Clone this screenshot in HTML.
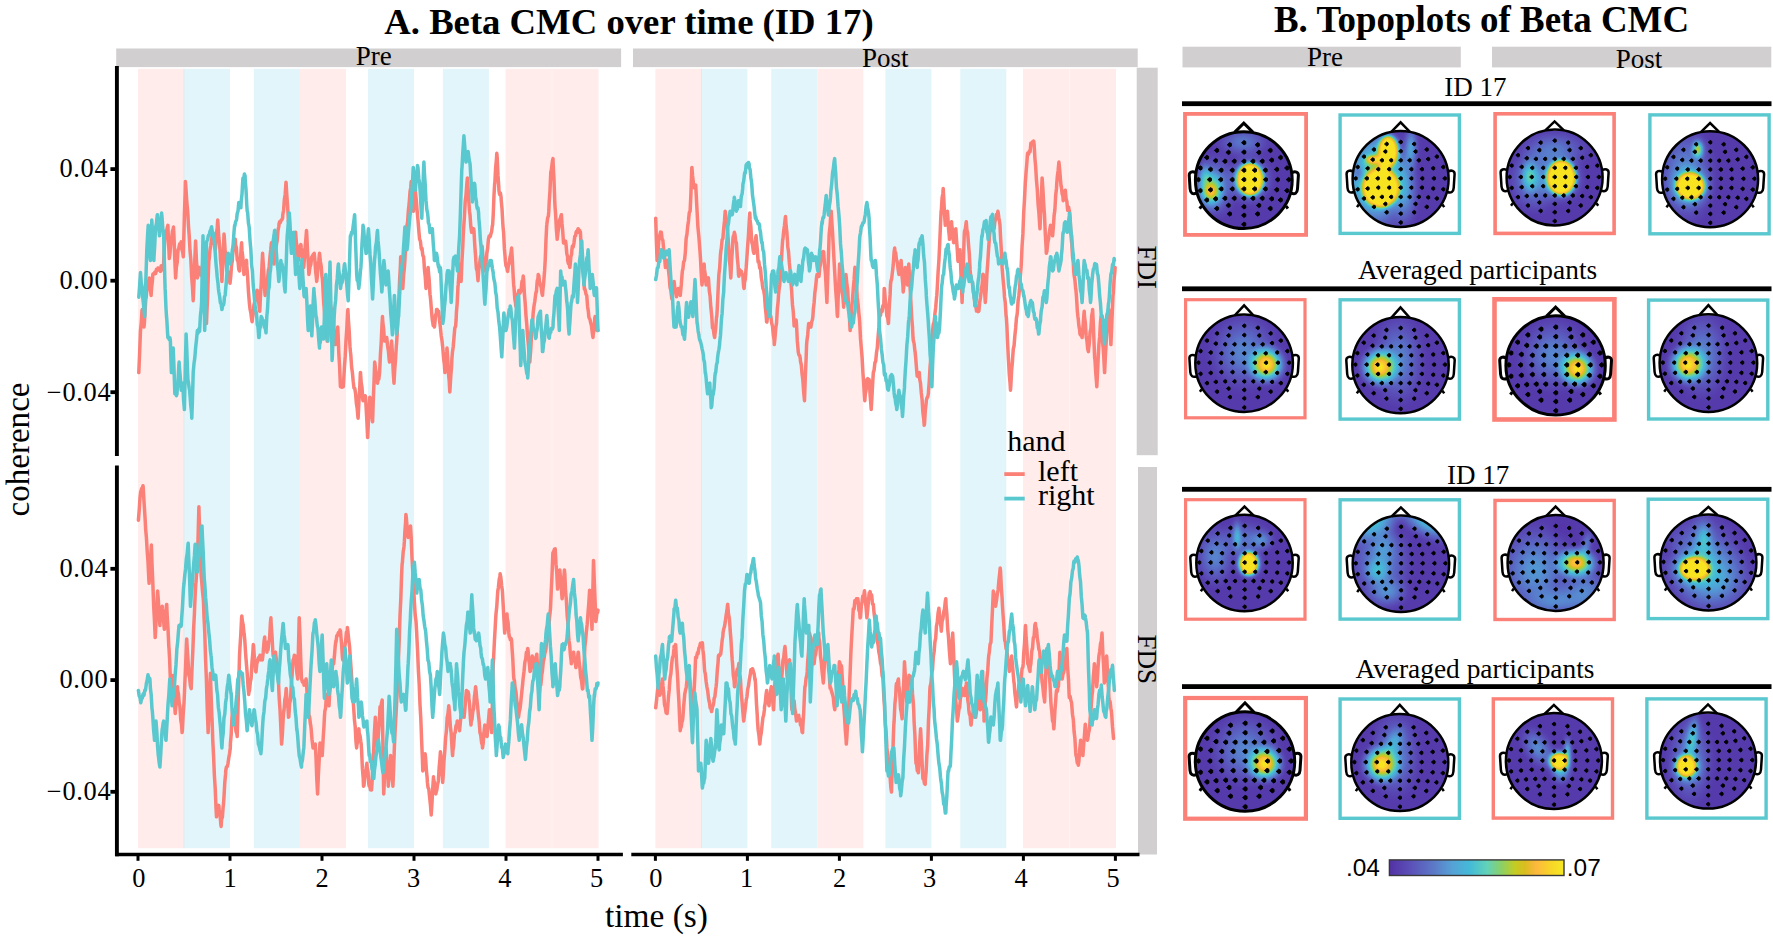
<!DOCTYPE html>
<html lang="en"><head><meta charset="utf-8"><title>Beta CMC figure</title>
<style>html,body{margin:0;padding:0;background:#fff}svg{display:block}</style></head>
<body>
<svg width="1773" height="941" viewBox="0 0 1773 941">
<defs>
<radialGradient id="hot"><stop offset="0" stop-color="#F7E420"/><stop offset="0.66" stop-color="#F7E420"/><stop offset="0.70" stop-color="#FDC23C"/><stop offset="0.74" stop-color="#BEC533"/><stop offset="0.79" stop-color="#6ACB80"/><stop offset="0.85" stop-color="#38BBCB"/><stop offset="0.93" stop-color="#4A8EDC" stop-opacity="0.7"/><stop offset="1" stop-color="#4A62C8" stop-opacity="0"/></radialGradient>
<radialGradient id="avg"><stop offset="0" stop-color="#F6DB26"/><stop offset="0.22" stop-color="#F8C432"/><stop offset="0.32" stop-color="#C9C838"/><stop offset="0.42" stop-color="#6ECB7C"/><stop offset="0.52" stop-color="#38BBCB"/><stop offset="0.68" stop-color="#4A8EDC" stop-opacity="0.75"/><stop offset="1" stop-color="#4A62C8" stop-opacity="0"/></radialGradient>
<radialGradient id="haze"><stop offset="0" stop-color="#5872CE" stop-opacity="0.85"/><stop offset="0.5" stop-color="#5A62C6" stop-opacity="0.55"/><stop offset="1" stop-color="#5A50BC" stop-opacity="0"/></radialGradient>
<radialGradient id="chaze"><stop offset="0" stop-color="#3FB2D6" stop-opacity="0.95"/><stop offset="0.45" stop-color="#4A92DA" stop-opacity="0.7"/><stop offset="1" stop-color="#4E60C8" stop-opacity="0"/></radialGradient>
<radialGradient id="ghaze"><stop offset="0" stop-color="#7ACB88" stop-opacity="0.95"/><stop offset="0.4" stop-color="#3FB2D6" stop-opacity="0.8"/><stop offset="1" stop-color="#4E70D0" stop-opacity="0"/></radialGradient>
<radialGradient id="lb"><stop offset="0" stop-color="#4A9EDC" stop-opacity="0.95"/><stop offset="0.55" stop-color="#4E84D4" stop-opacity="0.75"/><stop offset="1" stop-color="#5062C2" stop-opacity="0"/></radialGradient>
<radialGradient id="org"><stop offset="0" stop-color="#F9B934"/><stop offset="0.26" stop-color="#F3C22F"/><stop offset="0.38" stop-color="#B4C840"/><stop offset="0.50" stop-color="#5CC88C"/><stop offset="0.64" stop-color="#3CB4D0"/><stop offset="0.84" stop-color="#4A8EDC" stop-opacity="0.6"/><stop offset="1" stop-color="#4A62C8" stop-opacity="0"/></radialGradient>
<radialGradient id="dark"><stop offset="0" stop-color="#46289E" stop-opacity="0.9"/><stop offset="1" stop-color="#46289E" stop-opacity="0"/></radialGradient>
<linearGradient id="cbar" x1="0" x2="1" y1="0" y2="0"><stop offset="0" stop-color="#5331A6"/><stop offset="0.12" stop-color="#5B50B8"/><stop offset="0.25" stop-color="#5C78C6"/><stop offset="0.36" stop-color="#55A2D6"/><stop offset="0.46" stop-color="#44BAD8"/><stop offset="0.56" stop-color="#62D2B8"/><stop offset="0.64" stop-color="#8AD068"/><stop offset="0.72" stop-color="#C4CC22"/><stop offset="0.78" stop-color="#DCBC20"/><stop offset="0.84" stop-color="#FDB83E"/><stop offset="0.92" stop-color="#F8D428"/><stop offset="1" stop-color="#F6E824"/></linearGradient>
</defs>
<rect width="1773" height="941" fill="#fff"/>
<defs><filter id="par" x="-10%" y="-10%" width="120%" height="120%" color-interpolation-filters="sRGB"><feGaussianBlur stdDeviation="1.9"/><feComponentTransfer><feFuncR type="table" tableValues="0.325 0.331 0.336 0.342 0.347 0.353 0.353 0.353 0.353 0.353 0.353 0.351 0.350 0.348 0.347 0.345 0.337 0.329 0.322 0.314 0.302 0.290 0.278 0.267 0.286 0.306 0.325 0.345 0.384 0.424 0.463 0.502 0.557 0.612 0.667 0.722 0.769 0.816 0.863 0.906 0.949 0.992 0.987 0.982 0.977 0.973 0.971 0.970 0.969 0.969 0.969"/><feFuncG type="table" tableValues="0.200 0.220 0.239 0.259 0.278 0.298 0.320 0.342 0.364 0.386 0.408 0.433 0.458 0.483 0.508 0.533 0.561 0.588 0.616 0.643 0.665 0.686 0.708 0.729 0.747 0.765 0.782 0.800 0.804 0.808 0.812 0.816 0.812 0.808 0.804 0.800 0.784 0.769 0.753 0.742 0.732 0.722 0.745 0.769 0.792 0.816 0.842 0.868 0.894 0.894 0.894"/><feFuncB type="table" tableValues="0.655 0.667 0.678 0.690 0.702 0.714 0.725 0.736 0.747 0.758 0.769 0.778 0.787 0.797 0.806 0.816 0.824 0.831 0.839 0.847 0.847 0.847 0.847 0.847 0.824 0.800 0.776 0.753 0.682 0.612 0.541 0.471 0.396 0.322 0.247 0.173 0.157 0.141 0.125 0.165 0.204 0.243 0.224 0.204 0.184 0.165 0.152 0.139 0.125 0.125 0.125"/><feFuncA type="linear" slope="0" intercept="1"/></feComponentTransfer></filter><radialGradient id="gw"><stop offset="0" stop-color="#fff" stop-opacity="1"/><stop offset="0.15" stop-color="#fff" stop-opacity="0.95"/><stop offset="0.3" stop-color="#fff" stop-opacity="0.8"/><stop offset="0.45" stop-color="#fff" stop-opacity="0.6"/><stop offset="0.6" stop-color="#fff" stop-opacity="0.4"/><stop offset="0.75" stop-color="#fff" stop-opacity="0.22"/><stop offset="0.9" stop-color="#fff" stop-opacity="0.07"/><stop offset="1" stop-color="#fff" stop-opacity="0"/></radialGradient><radialGradient id="gk"><stop offset="0" stop-color="#000" stop-opacity="1"/><stop offset="0.3" stop-color="#000" stop-opacity="0.8"/><stop offset="0.6" stop-color="#000" stop-opacity="0.4"/><stop offset="1" stop-color="#000" stop-opacity="0"/></radialGradient></defs>
<rect x="138.0" y="68.8" width="46.0" height="779.4" fill="#FFECEB"/>
<rect x="184.0" y="68.8" width="46.0" height="779.4" fill="#E2F5FA"/>
<rect x="253.8" y="68.8" width="46.2" height="779.4" fill="#E2F5FA"/>
<rect x="300.0" y="68.8" width="45.9" height="779.4" fill="#FFECEB"/>
<rect x="368.0" y="68.8" width="46.0" height="779.4" fill="#E2F5FA"/>
<rect x="442.9" y="68.8" width="46.0" height="779.4" fill="#E2F5FA"/>
<rect x="505.6" y="68.8" width="46.4" height="779.4" fill="#FFECEB"/>
<rect x="552.0" y="68.8" width="46.5" height="779.4" fill="#FFECEB"/>
<rect x="551.6" y="68.8" width="0.8" height="779.4" fill="#FFF5F4"/>
<rect x="183.6" y="68.8" width="0.8" height="779.4" fill="#E3E6E8"/>
<rect x="655.4" y="68.8" width="46.0" height="779.4" fill="#FFECEB"/>
<rect x="701.4" y="68.8" width="46.0" height="779.4" fill="#E2F5FA"/>
<rect x="771.2" y="68.8" width="46.2" height="779.4" fill="#E2F5FA"/>
<rect x="817.4" y="68.8" width="45.9" height="779.4" fill="#FFECEB"/>
<rect x="885.4" y="68.8" width="46.0" height="779.4" fill="#E2F5FA"/>
<rect x="960.3" y="68.8" width="46.0" height="779.4" fill="#E2F5FA"/>
<rect x="1023.0" y="68.8" width="46.4" height="779.4" fill="#FFECEB"/>
<rect x="1069.4" y="68.8" width="46.5" height="779.4" fill="#FFECEB"/>
<rect x="1069.0" y="68.8" width="0.8" height="779.4" fill="#FFF5F4"/>
<rect x="701.0" y="68.8" width="0.8" height="779.4" fill="#E3E6E8"/>
<rect x="116.2" y="48.5" width="504.9" height="18.6" fill="#D1CFCF"/>
<rect x="633" y="48.5" width="504.7" height="18.6" fill="#D1CFCF"/>
<rect x="1136.7" y="67.7" width="21" height="387.5" fill="#D1CFCF"/>
<rect x="1138" y="467" width="19" height="387.5" fill="#D1CFCF"/>
<polyline points="138.8,372.6 139.6,353.8 140.4,332.4 140.5,330.5 141.2,323.8 142.0,310.4 142.3,309.5 142.8,314.8 143.6,322.7 144.0,327.0 144.4,322.8 145.2,308.1 145.8,298.9 146.0,298.7 146.8,290.9 147.6,288.3 148.4,281.3 149.2,279.1 149.3,277.9 150.0,284.5 150.8,292.7 151.1,295.4 151.6,287.7 152.4,280.8 152.8,274.4 153.2,273.8 154.0,273.8 154.8,272.2 155.6,273.6 156.3,270.9 156.4,269.3 157.2,270.6 158.0,268.0 158.8,269.8 159.6,268.6 159.8,269.1 160.4,271.4 161.2,265.8 162.0,270.0 162.8,267.4 163.3,267.4 163.6,264.1 164.4,246.1 165.1,235.8 165.2,236.9 166.0,232.2 166.8,230.0 167.6,226.2 167.9,225.3 168.4,239.2 169.2,255.6 169.3,258.6 170.0,253.2 170.8,243.3 171.4,239.3 171.6,238.7 172.4,231.4 173.2,229.0 173.5,227.0 174.0,237.1 174.8,259.5 175.6,277.9 176.4,266.9 177.2,262.5 178.0,250.3 178.1,249.8 178.8,248.2 179.6,244.1 180.4,246.1 180.9,242.8 181.2,241.9 182.0,249.8 182.8,252.9 183.3,256.8 183.6,246.2 184.4,215.3 185.2,191.2 185.4,181.4 186.0,189.2 186.8,202.0 187.6,210.5 187.9,214.7 188.4,225.0 189.2,235.6 189.6,242.8 190.0,250.5 190.8,258.9 191.4,270.9 191.6,276.2 192.4,286.0 193.2,300.7 194.0,281.8 194.8,259.5 195.6,241.1 196.4,259.5 197.2,272.3 197.4,277.9 198.0,275.2 198.8,268.3 199.1,267.4 199.6,269.2 200.4,270.0 201.2,275.2 201.9,274.4 202.0,272.4 202.8,262.3 203.6,249.2 203.7,249.8 204.4,269.2 205.2,287.3 206.0,311.8 206.5,323.5 206.8,314.6 207.6,297.2 208.4,272.0 208.9,260.4 209.2,259.1 210.0,249.8 210.8,245.8 211.6,239.1 212.4,235.1 212.5,232.3 213.2,235.2 214.0,242.3 214.8,245.7 215.3,249.8 215.6,246.7 216.4,234.6 217.2,227.7 217.7,220.0 218.0,223.8 218.8,237.3 219.6,245.1 220.2,253.3 220.4,258.6 221.2,267.8 221.9,281.4 222.0,280.1 222.8,260.1 223.6,245.6 224.0,234.0 224.4,238.3 225.2,252.0 226.0,259.2 226.5,267.4 226.8,270.8 227.6,270.9 228.4,276.2 229.2,279.4 230.0,283.2 230.8,275.8 231.6,264.8 232.4,260.5 232.5,256.8 233.2,249.8 234.0,247.6 234.8,242.2 235.3,239.3 235.6,244.9 236.4,247.8 237.2,259.4 237.4,260.4 238.0,260.8 238.8,269.4 239.5,270.9 239.6,267.0 240.4,260.4 241.2,247.2 241.6,242.8 242.0,250.7 242.8,257.1 243.6,271.7 244.0,274.4 244.4,271.2 245.2,267.9 246.0,261.7 246.5,260.4 246.8,265.9 247.6,276.3 248.4,291.0 249.2,300.8 249.3,302.5 250.0,308.8 250.8,312.6 251.6,319.0 252.1,321.8 252.4,318.5 253.2,313.9 254.0,304.5 254.6,302.5 254.8,302.1 255.6,295.9 256.4,294.8 257.0,290.2 257.2,290.2 258.0,297.9 258.8,303.1 259.6,311.2 259.8,311.2 260.4,297.3 261.2,284.3 262.0,264.7 262.6,253.3 262.8,257.3 263.6,268.6 264.4,285.6 265.1,295.4 265.2,293.7 266.0,291.7 266.8,282.0 267.6,278.9 268.4,269.7 268.6,270.9 269.2,266.4 270.0,256.2 270.8,249.4 271.4,242.8 271.6,244.3 272.4,251.8 273.2,257.4 273.9,263.9 274.0,263.7 274.8,254.5 275.6,251.7 276.4,244.9 276.7,242.8 277.2,240.3 278.0,230.3 278.8,226.5 279.1,223.5 279.6,221.7 280.4,222.5 281.2,220.1 282.0,219.7 282.6,218.2 282.8,214.7 283.6,210.2 284.4,199.2 285.2,194.2 286.0,182.2 286.1,183.2 286.8,195.0 287.6,205.8 288.4,221.3 288.6,221.8 289.2,223.8 290.0,233.1 290.7,235.8 290.8,233.8 291.6,243.4 292.4,242.7 293.2,249.8 294.0,244.2 294.8,236.6 295.6,232.3 296.4,242.9 297.2,246.4 298.0,257.9 298.4,260.4 298.8,256.4 299.6,254.3 300.4,246.3 300.9,244.6 301.2,247.2 302.0,252.1 302.8,262.7 303.6,265.1 303.7,267.4 304.4,258.4 305.2,247.0 306.0,237.3 306.5,230.5 306.8,235.4 307.6,252.1 308.4,264.7 308.9,274.4 309.2,272.8 310.0,266.7 310.8,264.9 311.6,257.8 311.8,256.8 312.4,256.1 313.2,254.6 314.0,255.6 314.2,253.3 314.8,259.4 315.6,271.0 316.4,277.8 316.7,281.4 317.2,277.4 318.0,266.4 318.8,260.5 319.5,253.3 319.6,254.0 320.4,261.8 321.2,266.2 322.0,276.8 322.3,277.9 322.8,285.3 323.6,301.4 324.4,310.7 324.7,316.5 325.2,322.4 326.0,327.3 326.8,338.2 327.2,341.1 327.6,334.1 328.4,324.8 329.2,313.3 330.0,302.5 330.8,308.0 331.6,309.0 332.4,316.0 332.8,316.5 333.2,319.5 334.0,331.0 334.8,338.8 335.3,344.6 335.6,343.0 336.4,336.3 337.2,333.3 337.7,327.0 338.0,332.4 338.8,353.1 339.6,366.5 340.4,386.1 340.5,386.7 341.2,384.1 342.0,387.3 342.8,384.7 343.3,386.7 343.6,381.8 344.4,367.6 345.2,356.7 345.8,344.6 346.0,340.3 346.8,328.5 347.6,311.9 347.9,309.5 348.4,319.9 349.2,331.2 350.0,346.9 350.4,351.6 350.8,354.9 351.6,367.0 352.4,372.7 353.2,381.4 354.0,388.1 354.8,388.6 355.6,393.7 356.4,403.5 357.2,408.4 358.0,417.8 358.1,418.2 358.8,403.9 359.6,390.3 360.4,372.5 360.5,372.6 361.2,382.5 362.0,387.5 362.8,399.5 363.0,400.7 363.6,397.3 364.4,399.4 365.2,395.7 365.6,397.2 366.0,405.5 366.8,419.6 367.6,437.1 367.7,437.5 368.4,421.5 369.2,409.3 369.8,397.2 370.0,398.4 370.8,408.0 371.6,411.5 372.4,421.0 372.6,421.8 373.2,402.1 374.0,382.2 374.7,362.1 374.8,362.7 375.6,369.9 376.4,373.4 377.2,381.9 377.5,383.2 378.0,380.1 378.8,379.2 379.6,372.6 380.4,355.1 381.2,342.6 382.0,324.7 382.5,316.5 382.8,322.6 383.6,328.4 384.4,339.8 384.6,341.1 385.2,339.9 386.0,339.3 386.7,337.5 386.8,338.2 387.6,346.0 388.4,350.9 389.2,360.1 389.5,362.1 390.0,356.1 390.8,349.7 391.6,341.1 392.4,353.6 393.2,371.2 394.0,383.2 394.8,368.8 395.6,358.7 396.4,344.6 396.5,344.6 397.2,333.2 398.0,313.5 398.6,302.5 398.8,300.7 399.6,280.5 400.4,265.9 400.7,256.8 401.2,264.1 402.0,277.9 402.8,288.4 403.6,275.1 404.4,267.7 404.9,260.4 405.2,253.9 406.0,242.6 406.8,227.1 407.0,225.3 407.6,221.9 408.4,210.2 409.1,204.2 409.2,203.3 410.0,191.8 410.8,187.2 411.2,181.4 411.6,185.6 412.4,199.9 413.2,207.2 413.3,211.2 414.0,204.4 414.8,193.6 415.4,190.2 415.6,193.1 416.4,201.3 417.2,211.8 417.5,214.7 418.0,220.4 418.8,230.5 419.6,239.3 420.4,241.1 421.2,248.4 421.8,249.8 422.0,248.2 422.8,255.4 423.6,256.9 423.9,260.4 424.4,269.1 425.2,276.2 426.0,288.4 426.8,283.0 427.6,271.4 428.1,267.4 428.4,272.0 429.2,280.1 430.0,294.7 430.2,295.4 430.8,301.8 431.6,312.0 432.3,320.0 432.4,320.1 433.2,325.6 434.0,323.1 434.4,327.0 434.8,323.9 435.6,315.0 436.4,312.9 436.5,309.5 437.2,309.5 438.0,312.2 438.6,311.2 438.8,312.4 439.6,321.0 440.4,327.5 440.7,330.5 441.2,335.7 442.0,340.8 442.8,348.1 443.6,358.4 444.4,364.8 444.9,372.6 445.2,369.7 446.0,357.8 446.8,351.4 447.0,348.1 447.6,356.5 448.4,372.0 449.2,381.0 449.8,391.9 450.0,389.3 450.8,375.8 451.6,366.0 451.9,358.6 452.4,352.6 453.2,347.0 454.0,337.5 454.8,328.2 455.6,326.2 456.1,320.0 456.4,313.0 457.2,303.1 458.0,286.2 458.2,284.9 458.8,276.5 459.6,263.9 460.4,271.2 461.1,281.4 461.2,279.8 462.0,259.9 462.8,246.5 463.2,235.8 463.6,228.9 464.4,217.2 465.2,201.8 465.3,200.7 466.0,195.1 466.8,184.2 467.4,177.9 467.6,181.7 468.4,193.2 469.2,207.0 469.5,211.2 470.0,214.7 470.8,226.3 471.6,232.3 472.4,228.4 473.2,229.8 473.7,228.8 474.0,231.3 474.8,245.6 475.6,256.4 475.8,260.4 476.4,268.5 477.2,271.2 477.9,279.6 478.0,280.7 478.8,269.4 479.6,265.6 480.0,260.4 480.4,257.5 481.2,254.3 482.0,246.8 482.1,246.3 482.8,255.1 483.6,263.3 484.2,270.9 484.4,270.9 485.2,265.7 486.0,262.1 486.3,260.4 486.8,253.4 487.6,248.8 488.4,239.3 489.2,236.0 490.0,236.8 490.5,235.8 490.8,234.1 491.6,231.8 492.4,225.3 492.6,225.3 493.2,215.3 494.0,195.2 494.7,183.2 494.8,183.8 495.6,168.4 496.4,159.6 496.8,153.3 497.2,157.7 498.0,175.4 498.8,186.9 498.9,190.2 499.6,194.4 500.4,193.0 501.1,197.2 501.2,200.2 502.0,208.7 502.8,223.4 503.2,228.8 503.6,232.2 504.4,248.9 505.2,257.9 505.3,260.4 506.0,265.9 506.8,267.3 507.4,270.9 507.6,271.4 508.4,265.3 509.2,263.4 509.5,260.4 510.0,257.3 510.8,254.3 511.6,248.1 512.4,260.6 513.2,277.1 513.7,284.9 514.0,287.7 514.8,298.6 515.6,303.4 515.8,306.0 516.4,304.0 517.2,297.6 517.9,293.7 518.0,294.2 518.8,290.5 519.6,293.6 520.4,291.9 520.7,291.9 521.2,289.3 522.0,281.1 522.8,281.2 523.2,276.1 523.6,279.1 524.4,293.8 525.2,303.3 525.6,309.5 526.0,315.8 526.8,324.9 527.6,337.7 527.7,337.5 528.4,345.1 529.2,357.7 529.8,362.1 530.0,358.9 530.8,348.6 531.6,333.5 531.9,330.5 532.4,325.3 533.2,312.7 534.0,306.0 534.8,301.2 535.6,294.7 536.1,291.9 536.4,292.0 537.2,281.2 538.0,278.1 538.2,274.4 538.8,275.8 539.6,282.1 540.4,284.9 541.2,287.4 542.0,293.5 542.5,295.4 542.8,290.9 543.6,283.6 544.4,273.0 544.6,270.9 545.2,260.5 546.0,239.5 546.7,225.3 546.8,224.8 547.6,218.3 548.4,215.9 548.8,211.2 549.2,202.3 550.0,190.6 550.8,171.8 550.9,172.6 551.6,168.1 552.4,161.1 553.0,158.6 553.2,164.3 554.0,180.0 554.8,202.7 555.1,207.7 555.6,214.2 556.4,229.3 557.2,239.3 558.0,232.4 558.8,226.2 559.3,221.8 559.6,220.2 560.4,218.3 561.2,215.2 561.4,214.7 562.0,223.7 562.8,232.4 563.5,242.8 563.6,242.9 564.4,241.5 565.2,242.4 565.6,241.1 566.0,244.2 566.8,253.6 567.6,256.9 567.7,260.4 568.4,263.7 569.2,263.9 569.8,267.4 570.0,266.3 570.8,257.0 571.6,254.3 571.9,249.8 572.4,246.1 573.2,247.0 574.0,242.8 574.8,236.2 575.6,235.8 576.1,232.3 576.4,231.6 577.2,231.5 578.0,228.9 578.2,228.8 578.8,232.4 579.6,230.4 580.4,232.3 581.2,247.2 582.0,258.8 582.5,267.4 582.8,271.4 583.6,278.2 584.4,289.0 584.6,288.4 585.2,290.2 586.0,294.1 586.7,295.4 586.8,296.2 587.6,306.4 588.4,311.9 588.8,316.5 589.2,318.0 590.0,319.5 590.8,323.4 590.9,323.5 591.6,326.7 592.4,333.7 593.0,337.5 593.2,334.5 594.0,329.5 594.8,318.0 595.1,316.5 595.6,320.8 596.4,323.2 597.2,330.5 598.0,330.5" fill="none" stroke="#FA8078" stroke-width="3.5" stroke-linejoin="round" stroke-linecap="round"/>
<polyline points="138.8,297.2 139.6,286.2 140.4,273.8 140.5,272.6 141.2,282.2 142.0,286.3 142.6,295.4 142.8,298.0 143.6,305.2 144.4,314.1 144.7,316.5 145.2,299.6 146.0,275.4 146.8,249.8 147.6,235.2 148.2,225.3 148.4,229.1 149.2,240.3 150.0,256.6 150.4,260.4 150.8,247.9 151.6,227.8 151.8,220.0 152.4,230.9 153.2,247.9 153.9,260.4 154.0,256.9 154.8,244.3 155.3,232.3 155.6,227.2 156.4,223.7 157.2,215.4 157.4,214.7 158.0,221.7 158.8,228.6 159.5,235.8 159.6,235.7 160.4,225.8 161.2,217.5 161.6,213.0 162.0,217.1 162.8,228.6 163.6,232.7 163.7,235.8 164.4,264.1 165.1,288.4 165.2,289.8 166.0,308.5 166.5,316.5 166.8,319.5 167.6,333.6 167.9,337.5 168.4,336.7 169.2,339.6 170.0,337.9 170.4,341.1 170.8,356.3 171.4,372.6 171.6,368.4 172.4,361.6 173.2,348.1 174.0,368.1 174.8,393.0 174.9,393.7 175.6,392.2 176.4,395.7 177.0,393.7 177.2,389.7 178.0,381.3 178.8,366.0 179.1,362.1 179.6,369.4 180.4,378.5 181.2,390.2 182.0,386.8 182.6,383.2 182.8,383.5 183.6,400.4 184.4,409.5 185.2,371.4 186.0,339.0 186.1,334.0 186.8,350.2 187.6,373.0 187.9,379.6 188.4,382.5 189.2,388.3 189.6,390.2 190.0,395.1 190.8,405.7 191.6,413.1 191.8,418.2 192.4,401.3 193.2,372.6 194.0,363.6 194.8,358.1 195.3,351.6 195.6,348.0 196.4,340.7 197.2,332.3 197.4,330.5 198.0,333.1 198.8,329.0 199.5,330.5 199.6,331.2 200.4,315.9 201.2,308.8 201.6,302.5 202.0,281.4 202.8,245.9 203.0,235.8 203.6,266.6 204.4,314.8 204.7,330.5 205.2,305.9 206.0,268.7 206.5,242.8 206.8,241.2 207.6,239.7 208.4,235.5 208.6,235.8 209.2,235.4 210.0,231.2 210.8,229.9 211.4,227.0 211.6,226.9 212.4,232.4 213.2,232.9 214.0,239.4 214.2,239.3 214.8,246.7 215.6,258.2 216.3,267.4 216.4,267.4 217.2,277.0 218.0,283.4 218.4,288.4 218.8,291.7 219.6,296.3 220.4,302.8 220.5,302.5 221.2,304.5 221.9,309.5 222.0,309.4 222.8,305.0 223.6,304.8 224.0,302.5 224.4,297.1 225.2,295.0 226.0,285.1 226.1,284.9 226.8,275.0 227.6,260.3 228.2,253.3 228.4,254.5 229.2,257.9 230.0,263.0 230.4,263.9 230.8,261.0 231.6,256.4 232.4,249.0 232.5,249.8 233.2,243.6 234.0,232.1 234.6,225.3 234.8,226.1 235.6,221.7 236.4,220.2 236.7,218.2 237.2,213.5 238.0,211.1 238.8,202.5 239.6,203.9 240.4,206.7 240.9,207.7 241.2,201.4 242.0,194.1 242.8,180.1 243.0,177.9 243.6,180.0 244.4,174.1 245.1,176.1 245.2,179.8 246.0,189.6 246.8,205.5 247.2,211.2 247.6,212.0 248.4,222.8 249.2,227.4 249.3,228.8 250.0,240.3 250.8,248.8 251.4,260.4 251.6,265.1 252.4,271.1 253.2,285.0 253.5,288.4 254.0,293.2 254.8,304.1 255.6,309.5 256.4,313.5 257.0,320.0 257.2,324.3 258.0,326.8 258.8,337.6 259.1,337.5 259.6,329.9 260.4,326.5 261.2,316.5 262.0,317.9 262.8,322.5 263.3,321.8 263.6,320.7 264.4,327.2 265.2,327.5 266.0,332.8 266.1,330.5 266.8,316.8 267.6,308.0 268.2,295.4 268.4,290.6 269.2,286.9 270.0,272.8 270.4,270.9 270.8,266.8 271.6,256.6 272.4,247.7 272.5,246.3 273.2,240.8 274.0,235.6 274.6,230.5 274.8,230.4 275.6,244.0 276.4,252.8 276.7,256.8 277.2,264.2 278.0,270.5 278.8,281.4 279.6,275.4 280.4,265.2 280.9,260.4 281.2,264.0 282.0,263.9 282.8,269.3 283.0,267.4 283.6,272.4 284.4,286.3 285.1,291.9 285.2,288.6 286.0,269.4 286.8,245.5 287.2,235.8 287.6,231.7 288.4,221.3 289.2,214.3 289.3,213.0 290.0,223.8 290.8,243.8 291.4,253.3 291.6,249.3 292.4,243.5 293.2,232.7 293.5,232.3 294.0,244.3 294.8,258.2 295.6,274.4 296.4,271.0 297.2,259.8 297.7,258.6 298.0,264.4 298.8,273.2 299.6,285.8 299.8,288.4 300.4,279.4 301.2,270.3 301.9,260.4 302.0,259.5 302.8,276.0 303.6,288.1 304.0,295.4 304.4,296.7 305.2,288.8 306.0,290.2 306.1,288.4 306.8,300.9 307.6,320.0 308.2,330.5 308.4,328.1 309.2,320.9 310.0,307.9 310.4,306.0 310.8,315.5 311.6,331.3 311.8,335.8 312.4,324.3 313.2,301.6 313.9,288.4 314.0,292.3 314.8,299.8 315.6,311.3 316.0,316.5 316.4,317.2 317.2,325.1 318.0,328.8 318.1,330.5 318.8,340.3 319.5,348.1 319.6,344.5 320.4,341.7 321.2,328.4 321.6,327.0 322.0,330.0 322.8,331.0 323.6,339.0 323.7,337.5 324.4,315.9 325.2,292.6 325.8,274.4 326.0,279.3 326.8,306.4 327.6,330.1 327.9,341.1 328.4,323.3 329.2,289.6 330.0,262.1 330.8,299.7 331.6,334.4 332.1,360.4 332.4,354.7 333.2,334.8 334.0,322.2 334.2,316.5 334.8,307.5 335.6,300.4 336.3,288.4 336.4,285.2 337.2,278.9 338.0,267.1 338.4,263.9 338.8,270.1 339.6,276.4 340.4,287.4 340.5,288.4 341.2,283.5 342.0,282.7 342.6,279.6 342.8,277.1 343.6,272.3 344.4,264.6 344.7,263.9 345.2,269.1 346.0,275.9 346.8,284.9 347.6,295.4 348.2,300.7 348.4,294.6 349.2,273.2 350.0,246.1 350.4,235.8 350.8,236.1 351.6,232.3 352.4,233.1 352.5,232.3 353.2,225.8 354.0,219.9 354.6,214.7 354.8,218.4 355.6,243.3 356.4,265.3 356.7,274.4 357.2,280.3 358.0,281.1 358.8,288.4 359.6,281.4 360.4,271.4 360.9,267.4 361.2,262.0 362.0,243.3 362.8,231.9 363.0,225.3 363.6,228.4 364.4,238.2 365.2,243.8 366.0,253.4 366.3,253.3 366.8,246.5 367.6,238.7 368.4,228.8 369.2,239.3 370.0,254.4 370.5,260.4 370.8,264.4 371.6,280.8 372.4,294.6 372.6,298.9 373.2,287.1 374.0,269.3 374.7,256.8 374.8,258.5 375.6,246.8 376.4,242.3 377.2,232.3 377.5,230.5 378.0,240.2 378.8,248.4 379.6,260.4 380.4,273.4 381.2,282.3 381.8,291.9 382.0,290.4 382.8,275.9 383.6,265.1 383.9,260.4 384.4,265.2 385.2,275.8 386.0,284.9 386.8,278.6 387.6,275.2 388.1,270.9 388.4,273.9 389.2,287.7 390.0,298.9 390.2,302.5 390.8,314.1 391.6,323.3 392.3,334.0 392.4,334.8 393.2,316.5 394.0,303.8 394.4,295.4 394.8,301.8 395.6,317.7 396.4,330.7 396.5,334.0 397.2,329.7 398.0,319.5 398.6,316.5 398.8,312.7 399.6,295.5 400.4,281.9 400.7,274.4 401.2,270.1 402.0,265.9 402.8,260.4 403.6,246.7 404.4,235.2 404.9,227.0 405.2,230.1 406.0,241.5 406.8,246.6 407.0,249.8 407.6,245.4 408.4,232.9 409.1,225.3 409.2,224.9 410.0,215.3 410.8,209.7 411.2,204.2 411.6,195.2 412.4,184.2 413.2,168.6 413.3,167.4 414.0,176.0 414.8,182.2 415.4,190.2 415.6,188.1 416.4,175.9 417.2,170.6 417.5,165.6 418.0,167.8 418.8,178.5 419.6,183.2 420.4,195.3 421.2,211.3 421.8,218.2 422.0,212.7 422.8,191.7 423.6,167.5 423.9,162.1 424.4,172.8 425.2,184.5 426.0,200.7 426.8,209.4 427.6,213.4 428.1,218.2 428.4,222.8 429.2,224.6 430.0,232.5 430.2,232.3 430.8,231.1 431.6,232.0 432.3,228.8 432.4,229.7 433.2,242.9 434.0,252.9 434.4,260.4 434.8,260.5 435.6,255.3 436.4,254.6 436.5,253.3 437.2,257.0 438.0,264.4 438.6,267.4 438.8,265.1 439.6,271.7 440.4,267.8 440.7,270.9 441.2,284.4 442.0,302.0 442.8,323.5 443.6,318.1 444.4,306.9 444.9,302.5 445.2,299.5 446.0,286.3 446.8,279.1 447.0,274.4 447.6,270.8 448.4,273.6 449.1,270.9 449.2,272.2 450.0,285.0 450.8,293.9 451.2,302.5 451.6,295.1 452.4,278.2 453.2,263.0 453.3,260.4 454.0,257.2 454.8,259.3 455.4,256.8 455.6,256.1 456.4,264.1 457.2,267.4 457.5,270.9 458.0,263.5 458.8,247.7 459.6,235.8 460.4,213.0 461.2,186.7 461.8,169.1 462.0,167.9 462.8,152.6 463.6,141.2 463.9,135.8 464.4,141.9 465.2,152.7 466.0,162.1 466.8,157.1 467.6,156.1 468.1,151.6 468.4,153.4 469.2,159.9 470.0,163.7 470.2,165.6 470.8,176.6 471.6,188.0 472.3,200.7 472.4,201.9 473.2,192.6 474.0,186.7 474.4,183.2 474.8,184.6 475.6,196.7 476.4,201.7 476.5,204.2 477.2,208.6 478.0,207.9 478.6,213.0 478.8,217.8 479.6,226.6 480.4,240.0 480.7,242.8 481.2,248.5 482.0,261.2 482.8,270.9 483.6,283.4 484.4,297.8 484.9,304.2 485.2,298.4 486.0,288.8 486.8,273.1 487.0,270.9 487.6,269.5 488.4,263.6 489.1,263.9 489.2,265.7 490.0,260.4 490.8,263.7 491.2,260.4 491.6,262.5 492.4,268.6 493.2,272.7 493.3,274.4 494.0,279.7 494.8,282.9 495.4,288.4 495.6,291.9 496.4,295.8 497.2,308.0 497.5,309.5 498.0,312.2 498.8,321.3 499.6,327.0 500.4,337.6 501.2,349.3 501.8,356.8 502.0,352.4 502.8,337.4 503.6,316.7 503.9,313.0 504.4,318.7 505.2,321.8 506.0,330.5 506.8,326.7 507.6,319.6 508.1,316.5 508.4,315.2 509.2,309.5 510.0,309.0 510.2,306.0 510.8,308.5 511.6,316.8 512.3,320.0 512.4,320.7 513.2,332.2 514.0,342.1 514.4,348.1 514.8,340.0 515.6,321.4 516.4,306.7 516.5,302.5 517.2,297.5 518.0,297.6 518.6,295.4 518.8,299.5 519.6,331.4 520.4,353.0 520.7,365.6 521.2,358.7 522.0,343.7 522.8,330.5 523.6,344.5 524.4,354.4 524.9,362.1 525.2,364.0 526.0,367.7 526.8,373.4 527.6,375.3 527.7,377.9 528.4,367.0 529.2,351.5 529.8,344.6 530.0,344.9 530.8,331.9 531.6,324.1 531.9,320.0 532.4,319.9 533.2,327.5 534.0,330.5 534.8,331.2 535.6,338.4 536.1,337.5 536.4,333.0 537.2,329.1 538.0,318.3 538.2,316.5 538.8,315.3 539.6,312.9 540.4,311.2 541.2,327.6 542.0,340.0 542.5,351.6 542.8,351.6 543.6,343.6 544.4,340.3 544.6,337.5 545.2,330.5 546.0,324.1 546.7,316.5 546.8,315.5 547.6,325.7 548.4,333.3 548.8,337.5 549.2,338.2 550.0,332.5 550.8,332.3 550.9,330.5 551.6,328.3 552.4,329.0 553.0,327.0 553.2,321.4 554.0,312.6 554.8,298.4 555.1,295.4 555.6,295.7 556.4,290.5 557.2,288.4 558.0,306.4 558.8,319.9 559.3,330.5 559.6,317.9 560.4,282.2 560.7,270.9 561.2,276.8 562.0,277.0 562.8,284.9 563.6,284.6 564.4,282.0 564.9,281.4 565.2,284.6 566.0,291.9 566.8,302.0 567.0,302.5 567.6,308.9 568.4,326.1 569.1,334.0 569.2,331.0 570.0,320.7 570.8,307.5 571.2,302.5 571.6,301.7 572.4,295.8 573.2,297.2 573.3,295.4 574.0,283.9 574.8,273.5 575.4,263.9 575.6,266.1 576.4,282.5 577.2,294.4 577.5,302.5 578.0,293.5 578.8,273.8 579.6,260.4 580.4,254.9 581.2,245.4 581.8,241.1 582.0,247.9 582.8,260.5 583.6,279.2 583.9,284.9 584.4,280.5 585.2,275.1 586.0,267.4 586.8,258.1 587.6,256.0 588.1,249.8 588.4,255.1 589.2,270.6 590.0,283.2 590.2,288.4 590.8,285.0 591.6,278.1 592.3,274.4 592.4,276.0 593.2,282.8 594.0,292.9 594.4,295.4 594.8,293.5 595.6,292.4 596.4,287.7 596.5,288.4 597.2,308.2 598.0,330.5" fill="none" stroke="#5AC8CF" stroke-width="3.5" stroke-linejoin="round" stroke-linecap="round"/>
<polyline points="655.7,218.2 656.5,244.3 657.1,260.4 657.3,256.6 658.1,250.7 658.9,238.7 659.2,235.8 659.7,235.6 660.5,232.1 661.3,232.3 662.1,239.1 662.9,240.4 663.4,246.3 663.7,249.5 664.5,255.4 665.3,266.0 665.5,267.4 666.1,263.9 666.9,262.9 667.6,260.4 667.7,260.9 668.5,270.6 669.3,277.3 669.8,284.9 670.1,287.5 670.9,290.7 671.7,297.8 671.9,298.9 672.5,291.3 673.3,287.4 674.0,281.4 674.1,281.5 674.9,288.9 675.7,291.2 676.1,295.4 676.5,296.7 677.3,290.4 678.1,291.3 678.2,288.4 678.9,290.5 679.7,293.6 680.3,295.4 680.5,292.5 681.3,284.7 682.1,273.8 682.4,270.9 682.9,269.0 683.7,261.8 684.5,260.4 685.3,253.0 686.1,239.1 686.6,235.8 686.9,234.8 687.7,226.4 688.5,220.9 688.7,218.2 689.3,212.6 690.1,211.2 690.9,194.3 691.7,170.8 691.9,167.4 692.5,175.2 693.3,182.3 693.6,186.7 694.1,187.8 694.9,185.0 695.7,184.9 696.5,200.5 697.3,215.5 697.8,225.3 698.1,229.0 698.9,237.1 699.7,247.7 699.9,249.8 700.5,258.8 701.3,274.7 702.0,284.9 702.1,283.7 702.9,277.9 703.7,267.3 704.1,263.9 704.5,269.4 705.3,274.9 706.1,284.9 706.2,284.9 706.9,281.2 707.7,280.3 708.4,277.9 708.5,278.9 709.3,291.0 710.1,296.3 710.5,302.5 710.9,307.8 711.7,315.5 712.5,327.8 712.6,327.0 713.3,329.0 714.1,335.1 714.7,337.5 714.9,334.5 715.7,328.5 716.5,316.9 716.8,316.5 717.3,308.0 718.1,290.2 718.9,274.4 719.7,267.6 720.5,254.2 721.0,249.8 721.3,248.4 722.1,239.9 722.9,238.6 723.1,235.8 723.7,228.6 724.5,220.9 725.2,211.2 725.3,211.7 726.1,218.7 726.9,222.4 727.3,225.3 727.7,232.2 728.5,244.4 729.3,259.3 729.4,260.4 730.1,266.6 730.8,277.9 730.9,276.3 731.7,259.4 732.5,247.7 732.9,239.3 733.3,236.3 734.1,234.3 734.3,232.3 734.9,234.3 735.7,241.3 736.4,242.8 736.5,244.1 737.3,257.3 738.1,265.8 738.5,274.4 738.9,276.3 739.7,269.8 740.5,272.1 740.6,270.9 741.3,271.1 742.1,274.4 742.7,274.4 742.9,276.2 743.7,287.0 744.1,288.4 744.5,282.4 745.3,279.0 746.1,268.2 746.2,267.4 746.9,257.5 747.7,245.3 748.4,235.8 748.5,234.4 749.3,219.6 749.8,213.0 750.1,219.9 750.9,227.1 751.7,241.5 751.9,242.8 752.5,244.8 753.3,251.3 754.0,253.3 754.1,251.0 754.9,246.4 755.7,237.6 756.1,235.8 756.5,241.1 757.3,249.7 758.1,261.8 758.2,260.4 758.9,261.7 759.7,268.0 760.3,267.4 760.5,268.5 761.3,277.7 762.1,281.8 762.4,284.9 762.9,288.4 763.7,290.4 764.5,295.4 765.3,307.0 766.1,314.5 766.6,321.8 766.9,322.0 767.7,315.2 768.5,312.7 768.7,309.5 769.3,310.9 770.1,315.7 770.8,316.5 770.9,316.6 771.7,323.1 772.5,326.3 772.9,330.5 773.3,334.7 774.1,340.0 774.3,344.6 774.9,338.8 775.7,329.0 776.4,323.5 776.5,324.2 777.3,309.5 778.1,301.8 778.5,295.4 778.9,290.8 779.7,284.9 780.5,275.2 780.6,274.4 781.3,262.9 782.1,248.3 782.7,239.3 782.9,239.7 783.7,231.0 784.5,225.2 785.3,217.9 785.5,216.5 786.1,225.5 786.9,232.5 787.6,242.8 787.7,246.5 788.5,251.4 789.3,262.4 789.8,267.4 790.1,270.8 790.9,282.7 791.7,291.2 791.9,295.4 792.5,304.9 793.3,312.1 794.0,323.5 794.1,325.9 794.9,321.4 795.7,323.3 796.1,320.0 796.5,324.0 797.3,340.7 798.1,349.9 798.2,351.6 798.9,354.9 799.7,355.6 800.3,358.6 800.5,361.3 801.3,364.9 802.1,374.6 802.4,376.1 802.9,381.0 803.7,392.3 804.5,400.7 805.3,376.7 806.1,359.0 806.6,344.6 806.9,341.0 807.7,335.0 808.5,324.9 808.7,323.5 809.3,325.1 810.1,325.2 810.8,327.0 810.9,327.1 811.7,321.9 812.5,319.5 812.9,316.5 813.3,309.8 814.1,303.0 814.9,292.1 815.0,291.9 815.7,286.3 816.5,277.9 817.1,274.4 817.3,275.4 818.1,273.8 818.9,276.4 819.2,274.4 819.7,268.2 820.5,264.1 821.3,256.8 822.1,252.2 822.9,253.0 823.4,251.6 823.7,252.3 824.5,265.0 825.3,272.0 825.5,274.4 826.1,286.6 826.9,302.5 827.7,278.0 828.5,255.5 829.1,235.8 829.3,232.9 830.1,225.6 830.9,213.7 831.2,211.2 831.7,219.8 832.5,231.9 833.3,246.3 834.1,261.6 834.9,275.5 835.4,284.9 835.7,289.6 836.5,300.9 837.3,315.5 837.5,316.5 838.1,299.5 838.9,282.0 839.6,263.9 839.7,264.9 840.5,275.4 841.3,281.7 841.7,288.4 842.1,292.4 842.9,297.0 843.7,307.2 843.8,306.0 844.5,294.5 845.3,286.0 845.9,274.4 846.1,276.2 846.9,284.6 847.7,289.8 848.0,295.4 848.5,305.8 849.3,314.5 850.1,330.5 850.9,321.8 851.7,308.2 852.2,302.5 852.5,299.3 853.3,288.5 854.1,279.7 854.9,267.7 855.0,267.4 855.7,277.3 856.5,287.2 857.1,295.4 857.3,298.0 858.1,304.4 858.9,313.7 859.2,316.5 859.7,322.0 860.5,338.7 861.3,348.1 862.1,357.5 862.9,372.7 863.4,379.6 863.7,383.9 864.5,397.2 864.8,400.7 865.3,394.2 866.1,390.2 866.9,379.6 867.7,378.6 868.5,380.2 869.1,379.6 869.3,380.4 870.1,394.8 870.9,405.0 871.2,409.5 871.7,401.3 872.5,386.5 873.3,372.6 874.1,370.1 874.9,362.6 875.4,362.1 875.7,361.1 876.5,352.7 877.3,347.8 877.5,344.6 878.1,336.4 878.9,327.4 879.6,316.5 879.7,313.6 880.5,315.5 881.3,310.2 881.7,309.5 882.1,311.4 882.9,305.5 883.7,306.4 883.8,306.0 884.2,288.4 884.5,288.8 885.3,300.1 886.1,306.0 886.3,309.5 886.9,316.1 887.7,317.8 888.4,323.5 888.5,323.2 889.3,306.0 890.1,294.9 890.5,284.9 890.9,281.2 891.7,278.4 892.5,271.4 892.6,270.9 893.3,264.3 894.1,252.0 894.7,248.1 894.9,251.3 895.7,253.0 896.5,260.1 896.8,260.4 897.3,262.2 898.1,269.3 898.9,274.4 899.7,268.3 900.5,266.8 901.1,260.4 901.3,262.8 902.1,276.9 902.9,284.8 903.2,291.9 903.7,287.6 904.5,276.1 905.3,267.4 906.1,274.3 906.9,279.2 907.4,284.9 907.7,281.0 908.5,266.9 908.8,263.9 909.3,273.3 910.1,287.6 910.9,302.5 911.7,317.3 912.5,327.2 913.0,337.5 913.3,340.5 914.1,343.4 914.9,350.9 915.1,351.6 915.7,358.0 916.5,368.1 917.2,376.1 917.3,375.7 918.1,376.6 918.9,372.7 919.3,372.6 919.7,379.2 920.5,383.2 921.3,392.9 921.4,393.7 922.1,399.6 922.9,412.6 923.7,418.7 924.2,425.3 924.5,424.4 925.3,410.4 926.1,403.6 926.3,400.7 926.9,398.1 927.7,397.0 928.4,393.7 928.5,391.2 929.3,380.8 930.1,366.1 930.5,362.1 930.9,356.7 931.7,343.8 932.5,332.2 932.6,330.5 933.3,324.3 934.1,322.0 934.7,316.5 934.9,313.9 935.7,307.5 936.5,297.8 936.8,295.4 937.3,287.3 938.1,272.2 938.9,260.4 939.7,243.5 940.5,224.4 941.1,211.2 941.3,211.0 942.1,197.7 942.9,193.2 943.2,188.4 943.7,197.0 944.5,213.8 945.3,225.3 946.1,217.9 946.9,217.2 947.4,211.2 947.7,214.6 948.5,228.5 949.3,236.0 949.5,239.3 950.1,236.3 950.9,226.1 951.6,221.8 951.7,224.8 952.5,230.2 953.3,240.3 953.7,242.8 954.1,239.5 954.9,236.8 955.7,228.9 955.8,228.8 956.5,239.5 957.3,249.9 957.9,260.4 958.1,261.4 958.9,254.8 959.7,252.8 960.0,249.8 960.5,261.3 961.3,282.6 962.1,302.5 962.9,276.5 963.7,252.3 964.2,235.8 964.5,231.2 965.3,229.1 966.1,222.9 966.3,221.8 966.9,229.8 967.7,233.2 968.4,242.8 968.5,244.5 969.3,253.7 970.1,269.4 970.5,274.4 970.9,276.2 971.7,281.9 972.5,282.4 972.6,284.9 973.3,292.3 974.1,295.5 974.7,302.5 974.9,305.8 975.7,304.8 976.5,311.1 976.8,309.5 977.3,308.4 978.1,311.6 978.9,311.2 979.7,302.2 980.5,297.8 981.1,291.9 981.3,288.7 982.1,285.1 982.9,274.3 983.2,274.4 983.7,282.1 984.5,290.3 985.3,302.5 986.1,291.1 986.9,274.3 987.4,267.4 987.7,263.5 988.5,250.6 989.3,239.0 989.5,235.8 990.1,230.8 990.9,230.3 991.6,225.3 991.7,224.0 992.5,227.4 993.3,226.6 993.7,228.8 994.1,228.8 994.9,221.2 995.7,219.3 995.8,218.2 996.5,214.4 997.3,214.7 997.9,211.2 998.1,212.3 998.9,218.1 999.7,222.7 1000.0,225.3 1000.5,236.3 1001.3,249.9 1002.1,267.4 1002.9,277.7 1003.7,285.9 1004.2,291.9 1004.5,296.9 1005.3,302.8 1006.1,316.2 1006.3,316.5 1006.9,325.9 1007.7,344.8 1008.4,358.6 1008.5,359.9 1009.3,374.7 1010.1,383.6 1010.5,390.2 1010.9,384.4 1011.7,369.5 1012.5,361.1 1012.6,358.6 1013.3,349.0 1014.1,345.5 1014.7,337.5 1014.9,335.3 1015.7,327.7 1016.5,317.5 1016.8,316.5 1017.3,313.0 1018.1,300.8 1018.9,295.4 1019.7,285.8 1020.5,274.8 1021.1,267.4 1021.3,263.6 1022.1,245.4 1022.9,233.9 1023.2,225.3 1023.7,212.7 1024.5,199.4 1025.3,183.2 1026.1,171.9 1026.9,162.4 1027.4,155.1 1027.7,153.1 1028.5,154.3 1029.3,151.3 1029.5,151.6 1030.1,151.7 1030.9,143.1 1031.6,142.8 1031.7,143.3 1032.5,141.9 1033.3,142.4 1033.7,141.1 1034.1,144.4 1034.9,158.1 1035.7,167.2 1035.8,169.1 1036.5,180.6 1037.3,189.7 1037.9,200.7 1038.1,204.4 1038.9,212.6 1039.7,225.4 1040.0,228.8 1040.5,215.7 1041.3,199.3 1042.1,177.9 1042.9,189.1 1043.7,203.9 1044.2,211.2 1044.5,215.2 1045.3,234.3 1046.1,247.3 1046.3,253.3 1046.9,251.3 1047.7,243.4 1048.4,239.3 1048.5,239.6 1049.3,232.3 1050.1,228.2 1050.5,225.3 1050.9,226.7 1051.7,231.9 1052.5,233.8 1052.6,235.8 1053.3,228.2 1054.1,215.6 1054.7,211.2 1054.9,209.5 1055.7,195.3 1056.5,188.2 1056.8,183.2 1057.3,176.7 1058.1,170.7 1058.9,162.1 1059.7,170.0 1060.5,180.2 1061.1,186.7 1061.3,186.0 1062.1,193.6 1062.9,196.1 1063.2,200.7 1063.7,199.2 1064.5,192.7 1065.3,190.2 1066.1,198.9 1066.9,201.5 1067.4,207.7 1067.7,210.2 1068.5,206.9 1069.3,211.1 1069.5,211.2 1070.1,219.2 1070.9,234.3 1071.6,242.8 1071.7,241.5 1072.5,256.3 1073.3,262.9 1073.7,270.9 1074.1,275.2 1074.9,279.9 1075.7,289.1 1075.8,288.4 1076.5,296.8 1077.3,310.5 1077.9,316.5 1078.1,317.6 1078.9,325.8 1079.7,330.5 1080.0,334.0 1080.5,335.0 1081.3,334.7 1082.1,337.5 1082.9,328.1 1083.7,316.9 1084.2,311.2 1084.5,317.0 1085.3,322.4 1086.1,335.2 1086.3,337.5 1086.9,340.5 1087.7,348.9 1088.4,351.6 1088.5,349.6 1089.3,343.6 1090.1,331.9 1090.5,330.5 1090.9,328.5 1091.7,315.9 1092.5,311.5 1092.6,309.5 1093.3,323.3 1094.1,344.8 1094.7,358.6 1094.9,358.7 1095.7,372.2 1096.5,382.1 1096.8,386.7 1097.3,377.3 1098.1,359.6 1098.9,344.6 1099.7,336.4 1100.5,321.6 1101.1,316.5 1101.3,321.0 1102.1,330.0 1102.9,345.6 1103.2,348.1 1103.7,355.9 1104.5,371.1 1104.6,372.6 1105.3,358.0 1106.1,344.0 1106.7,330.5 1106.9,327.9 1107.7,322.5 1108.5,309.9 1108.8,309.5 1109.3,318.1 1110.1,331.0 1110.9,344.6 1111.7,326.1 1112.5,306.9 1113.0,295.4 1113.3,293.4 1114.1,279.7 1114.9,271.1 1115.1,267.4" fill="none" stroke="#FA8078" stroke-width="3.5" stroke-linejoin="round" stroke-linecap="round"/>
<polyline points="655.7,279.6 656.5,275.2 657.3,268.3 657.8,267.4 658.1,267.4 658.9,261.7 659.7,261.7 659.9,260.4 660.5,254.4 661.3,249.8 662.1,254.5 662.9,254.1 663.4,256.8 663.7,258.1 664.5,253.5 665.3,252.7 665.5,251.6 666.1,251.1 666.9,254.7 667.6,253.3 667.7,251.6 668.5,251.8 669.1,249.8 669.3,252.5 670.1,266.7 670.9,279.3 671.2,284.9 671.7,292.5 672.5,297.3 672.6,298.9 673.3,314.4 674.0,327.0 674.1,326.8 674.9,327.2 675.7,324.4 676.1,327.0 676.5,322.9 677.3,310.4 678.1,304.7 678.2,302.5 678.9,308.0 679.7,318.5 680.3,323.5 680.5,324.0 681.3,327.0 682.1,326.9 682.4,330.5 682.9,334.6 683.7,334.9 684.5,339.3 685.3,327.3 686.1,308.7 686.6,302.5 686.9,306.5 687.7,308.3 688.5,317.2 688.7,316.5 689.3,310.5 690.1,309.8 690.8,302.5 690.9,301.7 691.7,309.1 692.5,313.2 692.9,316.5 693.3,309.7 694.1,295.2 694.9,281.6 695.0,279.6 695.7,292.2 696.5,311.2 697.1,323.5 697.3,323.3 698.1,330.8 698.9,334.9 699.2,337.5 699.7,339.8 700.5,341.7 701.3,344.6 702.1,348.8 702.9,352.4 703.4,355.1 703.7,359.6 704.5,362.3 705.3,373.5 705.5,372.6 706.1,378.0 706.9,387.3 707.6,393.7 707.7,391.7 708.5,390.0 709.3,383.6 709.8,383.2 710.1,390.5 710.9,399.8 711.2,407.7 711.7,406.4 712.5,396.4 713.3,393.7 714.1,388.3 714.9,376.1 715.4,372.6 715.7,372.6 716.5,364.7 717.3,361.9 717.5,358.6 718.1,353.6 718.9,349.5 719.6,344.6 719.7,342.3 720.5,335.2 721.3,321.7 721.7,316.5 722.1,313.7 722.9,298.9 723.7,292.3 723.8,288.4 724.5,274.7 725.3,263.5 725.9,253.3 726.1,249.1 726.9,241.5 727.7,226.7 728.0,225.3 728.5,223.4 729.3,216.4 730.1,211.2 730.9,215.1 731.7,211.3 732.2,214.7 732.5,213.7 733.3,204.9 734.1,199.5 734.3,197.2 734.9,201.0 735.7,207.5 736.4,211.2 736.5,210.1 737.3,209.3 738.1,202.5 738.5,200.7 738.9,201.6 739.7,201.7 740.5,206.6 740.6,204.2 741.3,196.3 742.1,193.9 742.7,188.4 742.9,184.3 743.7,181.1 744.5,173.9 744.8,172.6 745.3,173.1 746.1,165.2 746.9,163.9 747.7,166.5 748.5,162.4 749.1,163.9 749.3,168.0 750.1,169.4 750.9,178.4 751.2,179.6 751.7,183.6 752.5,195.3 753.3,200.7 754.1,206.8 754.9,214.2 755.4,218.2 755.7,216.7 756.5,220.3 757.3,220.9 757.5,221.8 758.1,223.8 758.9,223.5 759.6,225.3 759.7,228.7 760.5,232.2 761.3,240.1 761.7,242.8 762.1,242.2 762.9,249.8 763.7,252.2 763.8,253.3 764.5,264.2 765.3,272.4 765.9,281.4 766.1,286.1 766.9,294.2 767.7,307.0 768.0,309.5 768.5,308.6 769.3,316.4 770.1,316.5 770.9,289.8 771.5,274.4 771.7,276.1 772.5,271.2 773.3,272.9 773.6,270.9 774.1,273.9 774.9,286.5 775.7,291.9 776.5,285.0 777.3,278.8 777.8,274.4 778.1,270.4 778.9,267.8 779.7,257.9 779.9,256.8 780.5,261.8 781.3,262.9 782.0,267.4 782.1,268.7 782.9,271.9 783.7,280.7 784.1,281.4 784.5,278.1 785.3,277.6 786.1,272.7 786.2,274.4 786.9,277.2 787.7,278.6 788.4,281.4 788.5,281.1 789.3,276.7 790.1,273.1 790.5,270.9 790.9,273.4 791.7,280.9 792.5,283.6 792.6,284.9 793.3,282.4 794.1,276.8 794.7,274.4 794.9,278.0 795.7,279.2 796.5,283.6 796.8,284.9 797.3,280.1 798.1,273.6 798.9,265.6 799.7,269.0 800.5,280.2 801.0,281.4 801.3,275.8 802.1,270.6 802.9,259.8 803.1,260.4 803.7,257.1 804.5,249.6 805.2,248.1 805.3,248.4 806.1,248.6 806.9,251.5 807.3,249.8 807.7,252.8 808.5,262.5 809.3,267.9 809.4,270.9 810.1,267.6 810.9,258.1 811.5,253.3 811.7,256.6 812.5,255.2 813.3,259.6 813.6,260.4 814.1,258.9 814.9,258.8 815.7,256.8 816.5,261.6 817.3,267.7 817.8,270.9 818.1,267.7 818.9,260.0 819.7,249.2 819.9,249.8 820.5,242.0 821.3,228.5 822.0,221.8 822.1,224.1 822.9,217.8 823.7,217.6 824.1,214.7 824.5,210.8 825.3,204.3 826.1,196.1 826.2,195.4 826.9,204.1 827.7,208.0 828.4,214.7 828.5,214.9 829.3,206.2 830.1,201.5 830.5,197.2 830.9,191.0 831.7,184.1 832.5,173.6 832.6,172.6 833.3,168.9 834.1,161.6 834.7,158.6 834.9,162.6 835.7,173.4 836.5,188.3 836.8,190.2 837.3,195.0 838.1,206.4 838.9,214.7 839.7,226.1 840.5,243.4 841.0,249.8 841.3,252.3 842.1,265.5 842.9,273.2 843.1,277.9 843.7,286.5 844.5,291.7 845.2,298.9 845.3,300.6 846.1,300.2 846.9,303.3 847.3,302.5 847.7,303.2 848.5,310.7 849.3,314.8 849.4,316.5 850.1,321.5 850.9,321.4 851.5,327.0 851.7,326.5 852.5,321.7 853.3,323.0 853.6,320.0 854.1,315.2 854.9,311.8 855.7,302.5 856.5,290.3 857.3,280.4 857.8,270.9 858.1,264.9 858.9,253.1 859.7,237.6 859.9,235.8 860.5,233.0 861.3,226.8 862.0,225.3 862.1,225.7 862.9,222.8 863.7,222.7 864.1,221.8 864.5,218.8 865.3,214.5 866.1,206.5 866.9,202.5 867.7,208.4 868.5,212.4 869.1,218.2 869.3,224.8 870.1,237.7 870.9,255.9 871.2,260.4 871.7,260.1 872.5,265.7 873.3,267.4 874.1,262.7 874.9,263.1 875.4,260.4 875.7,262.4 876.5,275.7 877.3,284.7 877.5,288.4 878.1,301.0 878.9,313.9 879.6,330.5 879.7,332.1 880.5,338.0 881.3,348.2 881.7,351.6 882.1,354.1 882.9,362.2 883.7,364.7 883.8,365.6 884.2,372.6 884.5,375.1 885.3,373.7 886.1,380.9 886.3,379.6 886.9,382.4 887.7,389.3 888.4,390.2 888.5,388.5 889.3,385.2 890.1,378.6 890.5,376.1 890.9,377.6 891.7,374.6 892.5,378.7 892.6,376.1 893.3,382.9 894.1,392.7 894.7,397.2 894.9,395.8 895.7,403.3 896.5,406.7 896.8,409.5 897.3,405.5 898.1,396.6 898.9,390.2 899.7,395.0 900.5,396.3 901.1,400.7 901.3,405.0 902.1,410.0 902.5,416.5 902.9,410.8 903.7,396.0 904.5,387.4 904.6,383.2 905.3,370.9 906.1,359.6 906.7,348.1 906.9,344.8 907.7,336.7 908.5,322.0 908.8,320.0 909.3,315.9 910.1,300.6 910.9,291.9 911.7,286.5 912.5,275.7 913.0,270.9 913.3,268.9 914.1,257.8 914.9,252.8 915.1,249.8 915.7,252.8 916.5,262.1 917.2,267.4 917.3,264.7 918.1,259.5 918.9,245.5 919.3,242.8 919.7,244.4 920.5,238.8 921.3,238.4 922.1,235.8 922.9,243.7 923.7,256.0 924.2,260.4 924.5,262.8 925.3,279.7 926.1,290.1 926.3,295.4 926.9,304.0 927.7,313.5 928.4,323.5 928.5,326.2 929.3,337.0 930.1,354.5 930.5,358.6 930.9,364.0 931.7,383.3 931.9,386.7 932.5,368.2 933.3,348.1 934.1,336.7 934.9,323.0 935.4,316.5 935.7,320.5 936.5,324.9 937.3,337.5 937.5,337.5 938.1,333.9 938.9,333.1 939.6,327.0 939.7,324.5 940.5,310.4 941.3,291.9 941.8,284.9 942.1,283.9 942.9,275.6 943.7,274.2 943.9,270.9 944.5,263.9 945.3,257.4 946.0,249.8 946.1,249.0 946.9,248.6 947.7,245.0 948.1,244.6 948.5,249.9 949.3,255.0 950.1,266.5 950.2,267.4 950.9,272.6 951.7,282.5 952.3,284.9 952.5,286.0 953.3,292.2 954.1,295.4 954.4,298.9 954.9,296.2 955.7,289.6 956.5,284.9 957.3,287.2 958.1,285.0 958.6,288.4 958.9,287.9 959.7,281.4 960.5,279.9 960.7,277.9 961.3,281.3 962.1,287.4 962.8,291.9 962.9,288.6 963.7,286.1 964.5,279.6 964.9,277.9 965.3,275.8 966.1,268.4 966.9,266.1 967.0,263.9 967.7,269.5 968.5,276.6 969.1,281.4 969.3,279.6 970.1,281.2 970.9,275.8 971.2,277.9 971.7,281.0 972.5,282.4 973.3,288.4 974.1,297.7 974.9,300.8 975.4,306.0 975.7,305.0 976.5,296.6 977.3,290.7 977.5,288.4 978.1,281.4 978.9,276.4 979.6,267.4 979.7,263.4 980.5,256.0 981.3,242.8 981.8,235.8 982.1,236.9 982.9,229.7 983.7,227.8 983.9,225.3 984.5,221.7 985.3,225.0 986.0,221.8 986.1,220.6 986.9,231.9 987.7,233.4 988.1,239.3 988.5,237.5 989.3,228.7 990.1,225.2 990.2,221.8 990.9,216.8 991.7,219.3 992.3,214.7 992.5,214.4 993.3,229.0 994.1,233.8 994.4,239.3 994.9,242.4 995.7,243.2 996.5,249.8 997.3,255.8 998.1,257.9 998.6,263.9 998.9,263.6 999.7,260.6 1000.5,262.2 1000.7,260.4 1001.3,260.4 1002.1,263.7 1002.8,263.9 1002.9,260.8 1003.7,262.0 1004.5,255.1 1004.9,253.3 1005.3,257.5 1006.1,260.8 1006.9,268.2 1007.0,267.4 1007.7,271.8 1008.5,285.0 1009.1,288.4 1009.3,287.1 1010.1,295.7 1010.9,299.5 1011.2,302.5 1011.7,304.0 1012.5,301.0 1013.3,302.5 1014.1,297.3 1014.9,288.9 1015.4,284.9 1015.7,284.9 1016.5,276.1 1017.3,274.2 1017.5,270.9 1018.1,269.3 1018.9,275.8 1019.6,274.4 1019.7,274.4 1020.5,282.7 1021.3,284.2 1021.8,288.4 1022.1,289.6 1022.9,290.6 1023.7,296.2 1023.9,295.4 1024.5,299.2 1025.3,305.0 1026.0,309.5 1026.1,308.8 1026.9,314.5 1027.7,314.6 1028.1,316.5 1028.5,314.4 1029.3,305.9 1030.1,303.8 1030.2,302.5 1030.9,300.5 1031.7,303.5 1032.3,302.5 1032.5,303.6 1033.3,311.2 1034.1,313.0 1034.4,316.5 1034.9,319.3 1035.7,318.1 1036.5,320.0 1037.3,327.9 1038.1,329.2 1038.6,334.0 1038.9,333.5 1039.7,324.6 1040.5,320.8 1040.7,316.5 1041.3,310.5 1042.1,306.8 1042.8,298.9 1042.9,297.4 1043.7,295.9 1044.2,291.9 1044.5,290.8 1045.3,299.0 1046.1,300.9 1046.3,302.5 1046.9,298.1 1047.7,285.5 1048.4,277.9 1048.5,278.4 1049.3,266.9 1050.1,261.0 1050.5,256.8 1050.9,256.9 1051.7,266.9 1052.5,269.2 1052.6,270.9 1053.3,270.0 1054.1,263.2 1054.7,260.4 1054.9,260.7 1055.7,256.0 1056.5,255.8 1056.8,253.3 1057.3,256.0 1058.1,264.4 1058.9,270.9 1059.7,266.9 1060.5,263.5 1061.1,260.4 1061.3,256.2 1062.1,248.5 1062.9,233.7 1063.2,232.3 1063.7,232.4 1064.5,223.2 1065.3,221.8 1066.1,226.8 1066.9,227.8 1067.4,232.3 1067.7,230.5 1068.5,222.0 1069.3,215.4 1069.5,213.0 1070.1,218.5 1070.9,230.8 1071.6,235.8 1071.7,235.5 1072.5,248.3 1073.3,255.1 1073.7,260.4 1074.1,264.6 1074.9,266.9 1075.7,274.3 1075.8,274.4 1076.5,269.1 1077.3,265.0 1077.9,260.4 1078.1,262.5 1078.9,274.7 1079.7,280.8 1080.0,284.9 1080.5,290.6 1081.3,293.2 1082.1,302.5 1082.9,288.5 1083.7,267.8 1084.2,260.4 1084.5,262.5 1085.3,265.3 1086.1,270.9 1086.3,270.9 1086.9,270.3 1087.7,278.2 1088.4,277.9 1088.5,277.6 1089.3,289.9 1090.1,296.8 1090.5,302.5 1090.9,299.1 1091.7,283.8 1092.5,276.3 1092.6,274.4 1093.3,269.4 1094.1,267.9 1094.7,263.9 1094.9,263.6 1095.7,266.6 1096.5,264.3 1096.8,267.4 1097.3,273.1 1098.1,275.6 1098.9,284.9 1099.7,296.1 1100.5,303.8 1101.1,313.0 1101.3,316.3 1102.1,315.7 1102.9,320.5 1103.2,320.0 1103.7,327.9 1104.5,343.8 1104.6,342.8 1105.3,333.0 1106.1,325.0 1106.7,316.5 1106.9,314.6 1107.7,312.4 1108.5,303.5 1108.8,302.5 1109.3,296.8 1110.1,283.6 1110.9,274.4 1111.7,271.9 1112.5,264.9 1113.0,263.9 1113.3,265.2 1114.1,258.6 1114.4,260.4" fill="none" stroke="#5AC8CF" stroke-width="3.5" stroke-linejoin="round" stroke-linecap="round"/>
<polyline points="138.4,520.2 139.2,510.4 140.0,497.6 140.7,491.5 140.8,492.2 141.6,488.6 142.4,488.2 143.0,485.7 143.2,487.4 144.0,501.7 144.8,514.0 145.3,522.1 145.6,528.6 146.4,537.6 147.2,551.2 147.6,556.6 148.0,561.7 148.8,579.0 149.1,583.3 149.6,572.4 150.4,563.7 151.2,548.2 151.4,545.1 152.0,563.7 152.8,582.2 153.6,604.2 153.7,606.3 154.4,619.5 155.2,637.6 155.3,636.9 156.0,621.9 156.8,608.0 157.6,591.0 158.4,601.0 159.2,615.2 159.9,625.5 160.0,622.7 160.8,618.6 161.6,610.7 162.2,606.3 162.4,609.0 163.2,615.3 164.0,626.1 164.4,629.3 164.8,624.4 165.6,616.9 166.4,606.1 166.7,604.4 167.2,616.0 168.0,628.7 168.8,646.6 169.0,648.4 169.6,658.7 170.4,680.6 170.6,682.9 171.2,681.2 172.0,682.0 172.8,675.4 172.9,677.1 173.6,690.8 174.4,699.8 175.2,713.5 176.0,704.8 176.8,693.4 177.5,686.7 177.6,690.1 178.4,693.6 179.2,702.8 179.8,705.8 180.0,707.9 180.8,720.1 181.6,725.3 182.1,732.6 182.4,730.2 183.2,714.1 184.0,703.0 184.4,694.4 184.8,684.5 185.6,666.4 186.4,644.6 186.7,638.9 187.2,647.8 188.0,659.8 188.8,675.1 188.9,675.2 189.6,677.8 190.4,685.9 191.2,688.6 192.0,669.1 192.8,651.5 193.5,633.1 193.6,629.4 194.4,614.2 195.2,593.7 195.8,583.3 196.0,582.2 196.8,569.6 197.4,562.3 197.6,556.4 198.4,524.7 198.9,506.8 199.2,517.8 200.0,537.8 200.8,566.3 201.2,575.7 201.6,580.2 202.4,590.3 203.2,598.0 203.5,602.5 204.0,616.8 204.8,633.1 205.0,640.8 205.6,660.0 206.4,679.5 206.6,686.7 207.2,707.7 208.0,728.5 208.1,732.6 208.8,716.1 209.6,692.9 210.4,673.3 211.2,698.3 211.9,717.3 212.0,718.1 212.8,740.9 213.6,756.7 214.2,770.9 214.4,775.5 215.2,788.3 216.0,807.8 216.5,816.8 216.8,812.7 217.6,813.9 218.4,807.2 218.8,805.4 219.2,809.3 220.0,814.4 220.8,823.9 221.1,826.4 221.6,819.2 222.4,817.1 223.2,806.2 223.4,805.4 224.0,796.6 224.8,782.4 225.6,773.9 225.7,770.9 226.4,767.1 227.2,766.5 228.0,763.3 228.8,757.7 229.6,753.2 230.3,747.9 230.4,743.6 231.2,734.5 232.0,717.1 232.6,709.7 232.8,711.6 233.6,715.4 234.4,721.9 234.9,725.0 235.2,723.9 236.0,731.5 236.8,733.5 237.2,736.5 237.6,724.0 238.4,692.6 239.2,668.6 239.5,656.1 240.0,646.8 240.8,634.4 241.6,617.9 241.8,615.9 242.4,621.4 243.2,624.9 244.0,633.4 244.1,633.1 244.8,640.4 245.6,653.3 246.4,663.7 247.2,673.4 248.0,686.1 248.7,694.4 248.8,692.7 249.6,689.9 250.4,681.5 251.0,679.0 251.2,677.0 252.0,662.0 252.8,653.1 253.3,644.6 253.6,646.1 254.4,658.4 255.2,666.1 255.6,671.4 256.0,671.9 256.8,663.6 257.6,661.1 257.8,659.9 258.4,657.9 259.2,658.2 260.0,655.3 260.1,656.1 260.8,659.9 261.6,657.6 262.4,659.9 263.2,652.5 264.0,641.9 264.7,636.9 264.8,640.2 265.6,642.7 266.4,648.4 267.0,652.2 267.2,649.7 268.0,649.8 268.8,641.3 269.3,640.8 269.6,638.0 270.4,623.0 270.9,617.8 271.2,624.8 272.0,635.9 272.8,650.9 273.2,656.1 273.6,654.4 274.4,654.3 275.2,652.5 275.5,652.2 276.0,656.6 276.8,662.5 277.6,671.2 277.8,671.4 278.4,679.8 279.2,698.4 280.0,709.7 280.8,726.7 281.6,744.1 282.4,734.1 283.2,718.2 283.9,709.7 284.0,710.8 284.8,699.9 285.6,696.1 286.2,688.6 286.4,690.5 287.2,703.7 288.0,708.5 288.5,717.3 288.8,716.9 289.6,703.7 290.4,700.4 290.8,694.4 291.2,685.8 292.0,676.6 292.8,663.8 293.1,659.9 293.6,659.3 294.4,655.2 295.2,659.0 295.4,656.1 296.0,660.6 296.8,672.6 297.6,677.4 297.7,679.0 298.4,650.6 299.2,617.8 300.0,636.5 300.8,661.0 301.5,679.0 301.6,679.0 302.4,682.0 303.2,681.7 303.8,682.9 304.0,685.2 304.8,681.0 305.6,680.8 306.1,679.0 306.4,682.4 307.2,694.7 308.0,702.4 308.4,709.7 308.8,715.0 309.6,716.7 310.4,724.0 310.7,725.0 311.2,729.4 312.0,739.4 312.8,745.7 313.0,747.9 313.6,747.9 314.4,745.4 315.2,745.8 315.3,744.1 316.0,757.3 316.8,779.2 317.6,793.9 318.4,774.6 319.2,759.5 319.9,744.1 320.0,743.1 320.8,750.6 321.6,750.6 322.2,755.6 322.4,752.3 323.2,738.0 324.0,725.8 324.4,717.3 324.8,711.3 325.6,708.0 326.4,695.9 326.7,694.4 327.2,698.4 328.0,700.6 328.8,705.0 329.0,705.8 329.6,694.2 330.4,686.4 331.2,670.9 331.3,671.4 332.0,671.1 332.8,663.8 333.6,663.7 334.4,656.3 335.2,646.3 335.9,640.8 336.0,642.0 336.8,635.8 337.6,635.3 338.2,633.1 338.4,632.7 339.2,634.9 340.0,630.1 340.5,631.2 340.8,635.5 341.6,644.3 342.4,657.5 342.8,659.9 343.2,657.0 344.0,653.4 344.8,646.4 345.1,644.6 345.6,641.1 346.4,632.3 347.2,631.5 347.4,627.4 348.0,632.7 348.8,640.4 349.6,646.9 349.7,648.4 350.4,659.1 351.2,670.3 352.0,682.9 352.8,696.4 353.6,706.6 354.3,717.3 354.4,719.6 355.2,726.7 356.0,741.9 356.6,747.9 356.8,745.6 357.6,741.1 358.4,730.4 358.9,728.8 359.2,733.4 360.0,735.5 360.8,741.6 361.2,744.1 361.6,750.4 362.4,768.7 363.2,778.1 363.5,786.2 364.0,785.4 364.8,776.8 365.6,774.7 366.4,766.5 366.9,763.3 367.2,767.3 368.0,771.7 368.8,784.2 369.2,786.2 369.6,784.3 370.4,789.7 371.2,788.0 371.5,790.0 372.0,783.4 372.8,765.2 373.6,751.8 373.8,747.9 374.4,733.1 375.2,719.5 375.3,717.3 376.0,726.4 376.8,737.5 377.6,747.9 378.4,734.4 379.2,723.9 379.9,709.7 380.0,706.7 380.8,707.9 381.6,702.4 382.2,700.1 382.4,714.1 383.2,761.6 383.7,793.9 384.0,788.9 384.8,769.3 385.6,757.9 386.0,747.9 386.4,754.0 387.2,769.4 388.0,779.2 388.3,786.2 388.8,779.7 389.6,767.9 390.4,759.3 390.6,755.6 391.2,761.6 392.0,776.8 392.8,783.4 392.9,786.2 393.6,770.2 394.4,746.2 395.2,728.8 396.0,714.8 396.8,698.9 397.5,686.7 397.6,684.1 398.4,660.2 399.2,641.2 399.8,621.6 400.0,616.0 400.8,599.2 401.6,575.2 402.1,564.2 402.4,562.7 403.2,551.7 404.0,546.7 404.4,541.2 404.8,533.1 405.6,521.8 405.9,514.4 406.4,518.4 407.2,528.4 408.0,534.4 408.2,537.4 408.8,534.6 409.6,528.4 410.4,529.0 410.5,525.9 411.2,537.3 412.0,557.9 412.8,571.9 413.6,586.2 414.4,602.5 415.2,615.1 416.0,621.2 416.7,633.1 416.8,635.4 417.6,651.3 418.4,670.6 418.9,679.0 419.2,684.5 420.0,704.8 420.8,718.6 421.2,728.8 421.6,739.9 422.4,758.9 422.8,770.9 423.2,769.4 424.0,759.3 424.8,757.4 425.1,753.7 425.6,757.9 426.4,770.5 427.2,778.4 427.4,782.4 428.0,787.4 428.8,789.1 429.6,797.2 429.7,797.7 430.4,804.7 431.2,814.9 432.0,802.6 432.8,787.3 433.5,776.7 433.6,778.9 434.4,782.8 435.2,791.4 435.8,793.9 436.0,792.7 436.8,789.9 437.6,784.3 438.1,782.4 438.4,780.4 439.2,767.2 440.0,758.1 440.4,751.8 440.8,755.1 441.6,770.4 442.4,776.9 442.7,782.4 443.2,775.9 444.0,760.9 444.8,751.1 445.0,747.9 445.6,737.9 446.4,731.3 447.2,717.1 447.3,717.3 448.0,713.4 448.8,705.8 449.6,714.5 450.4,727.0 451.1,732.6 451.2,733.5 452.0,747.4 452.6,755.6 452.8,751.6 453.6,745.8 454.4,735.0 454.9,732.6 455.2,732.6 456.0,725.6 456.8,725.7 457.2,721.1 457.6,722.2 458.4,727.1 459.2,727.4 459.5,730.7 460.0,726.3 460.8,717.3 461.6,713.0 461.8,709.7 462.4,709.7 463.2,714.5 464.0,715.0 464.1,717.3 464.8,710.1 465.6,699.6 466.4,690.5 467.2,692.5 468.0,691.7 468.7,694.4 468.8,697.7 469.6,704.4 470.4,718.0 471.0,725.0 471.2,721.7 472.0,719.3 472.8,711.5 473.3,709.7 473.6,708.7 474.4,696.7 475.2,691.3 475.6,686.7 476.0,690.1 476.8,699.3 477.6,706.1 477.9,709.7 478.4,714.9 479.2,722.0 480.0,733.2 480.2,732.6 480.8,735.6 481.6,742.9 482.4,745.2 482.5,747.9 483.2,742.9 484.0,732.0 484.8,725.0 485.6,730.5 486.4,731.0 487.1,736.5 487.2,735.9 488.0,725.4 488.8,716.9 489.4,709.7 489.6,710.2 490.4,720.7 491.2,727.4 491.7,732.6 492.0,719.8 492.8,679.5 493.2,663.7 493.6,657.9 494.4,641.5 495.2,627.7 495.5,621.6 496.0,613.9 496.8,606.3 497.6,593.5 497.8,591.0 498.4,587.5 499.2,579.5 500.0,576.5 500.1,573.8 500.8,577.0 501.6,585.2 502.4,591.0 503.2,605.4 504.0,620.5 504.7,633.1 504.8,631.7 505.6,627.6 506.4,617.5 507.0,614.0 507.2,618.0 508.0,622.0 508.8,632.5 509.3,636.9 509.6,636.4 510.4,639.8 511.2,638.6 511.6,640.8 512.0,647.6 512.8,659.2 513.6,676.0 513.9,679.0 514.4,680.3 515.2,688.3 516.0,692.1 516.2,694.4 516.8,700.6 517.6,707.3 518.4,716.9 518.5,717.3 519.2,712.0 520.0,708.8 520.8,702.0 521.6,693.8 522.4,686.2 523.1,679.0 523.2,678.0 524.0,671.7 524.8,662.9 525.4,659.9 525.6,659.9 526.4,652.3 527.2,652.4 527.7,648.4 528.0,649.9 528.8,659.6 529.6,665.4 530.0,671.4 530.4,671.2 531.2,661.6 532.0,657.7 532.2,656.1 532.8,657.5 533.6,665.6 534.4,669.7 534.5,671.4 535.2,667.2 536.0,658.2 536.8,654.2 537.6,668.8 538.4,679.6 539.1,694.4 539.2,693.9 540.0,685.8 540.8,685.0 541.4,679.0 541.6,675.8 542.4,671.3 543.2,662.6 543.7,659.9 544.0,659.0 544.8,653.4 545.6,651.0 546.0,648.4 546.4,643.1 547.2,641.0 548.0,634.5 548.3,633.1 548.8,627.5 549.6,617.0 550.4,609.6 550.6,606.3 551.2,592.1 552.0,575.7 552.8,554.8 552.9,552.7 553.6,551.7 554.4,549.2 555.2,548.9 556.0,564.2 556.8,572.9 557.5,587.2 557.6,589.1 558.4,577.9 559.2,576.0 559.8,570.0 560.0,572.3 560.8,582.7 561.6,591.9 562.1,598.7 562.4,596.0 563.2,584.8 564.0,575.6 564.4,570.0 564.8,573.7 565.6,591.5 566.4,600.6 566.7,606.3 567.2,615.8 568.0,623.8 568.8,639.3 569.0,640.8 569.6,644.2 570.4,654.9 571.2,661.2 571.3,663.7 572.0,661.2 572.8,655.2 573.6,652.2 574.4,658.6 575.2,661.4 575.9,667.6 576.0,667.1 576.8,660.6 577.6,657.7 578.2,652.2 578.4,652.7 579.2,662.8 580.0,668.7 580.5,675.2 580.8,677.5 581.6,681.0 582.4,688.9 582.8,688.6 583.2,680.7 584.0,667.1 584.8,647.7 585.1,644.6 585.6,640.2 586.4,631.4 587.2,624.2 587.4,621.6 588.0,613.0 588.8,603.2 589.6,590.3 589.7,591.0 590.4,603.7 591.2,613.4 592.0,629.3 592.8,593.2 593.5,560.4 593.6,561.6 594.4,584.5 595.2,604.1 595.8,621.6 596.0,620.8 596.8,613.8 597.6,612.4 598.0,610.1" fill="none" stroke="#FA8078" stroke-width="3.5" stroke-linejoin="round" stroke-linecap="round"/>
<polyline points="138.4,690.5 139.2,696.0 140.0,697.5 140.7,702.0 140.8,702.7 141.6,698.4 142.4,697.9 143.0,694.4 143.2,693.9 144.0,695.3 144.8,690.3 145.3,690.5 145.6,689.4 146.4,683.1 147.2,680.0 147.6,677.1 148.0,674.8 148.8,678.3 149.6,678.2 149.9,679.0 150.4,688.3 151.2,694.9 152.0,709.0 152.2,709.7 152.8,717.1 153.6,729.8 154.4,738.4 154.5,740.3 155.2,732.3 156.0,721.1 156.8,731.6 157.6,746.6 158.3,755.6 158.4,755.7 159.2,762.7 159.9,767.1 160.0,765.2 160.8,753.1 161.6,736.8 162.2,728.8 162.4,728.8 163.2,722.7 163.7,721.1 164.0,724.2 164.8,729.3 165.6,738.5 166.0,740.3 166.4,733.0 167.2,719.9 167.5,713.5 168.0,704.5 168.8,695.5 169.6,681.8 169.8,679.0 170.4,686.6 171.2,693.3 172.0,704.8 172.1,705.8 172.8,697.4 173.6,695.9 174.4,686.7 175.2,674.1 176.0,664.7 176.7,652.2 176.8,649.5 177.6,642.8 178.4,632.3 179.0,625.5 179.2,626.5 180.0,624.9 180.8,626.5 181.3,625.5 181.6,619.0 182.4,608.2 183.2,593.3 183.6,587.2 184.0,583.8 184.8,575.0 185.6,568.7 185.9,564.2 186.4,558.6 187.2,553.8 188.0,544.4 188.2,543.2 188.8,559.9 189.6,579.0 190.4,604.6 190.5,606.3 191.2,596.4 192.0,588.9 192.8,575.7 193.6,564.9 194.4,555.9 195.1,545.1 195.2,544.3 196.0,556.6 196.8,562.9 197.4,571.9 197.6,570.7 198.4,561.2 199.2,555.6 199.7,550.8 200.0,545.6 200.8,539.9 201.6,529.6 202.0,525.9 202.4,536.2 203.2,552.4 204.0,572.7 204.3,579.5 204.8,584.7 205.6,597.4 206.4,606.4 206.6,610.1 207.2,618.1 208.0,623.5 208.8,632.7 208.9,633.1 209.6,639.8 210.4,650.8 211.1,656.1 211.2,656.5 212.0,667.7 212.8,672.4 213.4,679.0 213.6,679.3 214.4,675.3 215.2,676.2 215.7,675.2 216.0,678.5 216.8,690.0 217.6,694.7 218.0,702.0 218.4,707.5 219.2,713.0 220.0,722.6 220.3,725.0 220.8,731.6 221.6,744.2 221.9,747.9 222.4,739.2 223.2,733.2 224.0,717.4 224.2,717.3 224.8,713.9 225.6,702.8 226.4,697.4 226.5,694.4 227.2,687.6 228.0,682.5 228.8,675.2 229.6,681.7 230.4,688.8 231.1,694.4 231.2,693.2 232.0,709.5 232.8,716.0 233.3,725.0 233.6,724.5 234.4,715.1 235.2,712.6 235.6,709.7 236.0,702.4 236.8,694.7 237.6,682.0 237.9,679.0 238.4,678.3 239.2,672.1 240.0,673.6 240.2,671.4 240.8,672.2 241.6,673.9 242.4,673.5 242.5,675.2 243.2,684.9 244.0,692.1 244.8,702.0 245.6,714.6 246.4,721.0 247.1,730.7 247.2,730.4 248.0,721.9 248.8,717.2 249.4,709.7 249.6,710.0 250.4,716.6 251.2,721.1 251.7,725.0 252.0,725.6 252.8,716.7 253.6,714.4 254.0,709.7 254.4,710.4 255.2,717.9 256.0,722.0 256.3,725.0 256.8,731.2 257.6,734.3 258.4,744.4 258.6,744.1 259.2,746.4 260.0,750.1 260.8,752.3 260.9,753.7 261.6,745.2 262.4,729.4 263.2,717.3 264.0,711.7 264.8,701.4 265.5,698.2 265.6,698.9 266.4,688.7 267.2,684.2 267.8,679.0 268.0,676.3 268.8,670.9 269.6,661.5 270.1,659.9 270.4,665.4 271.2,673.0 272.0,687.2 272.4,690.5 272.8,681.1 273.6,665.0 273.9,656.1 274.4,656.6 275.2,663.2 276.0,666.4 276.2,667.6 276.8,672.2 277.6,676.7 278.4,682.8 278.5,682.9 279.2,670.4 280.0,661.0 280.8,648.4 281.6,639.1 282.4,631.3 283.1,623.5 283.2,623.6 284.0,634.2 284.8,639.9 285.4,648.4 285.6,648.3 286.4,646.5 287.2,645.6 287.7,644.6 288.0,645.5 288.8,660.0 289.6,666.1 290.0,671.4 290.4,675.1 291.2,679.2 292.0,686.7 292.3,686.7 292.8,687.4 293.6,697.3 294.4,699.2 294.6,702.0 295.2,711.0 296.0,717.7 296.8,730.2 296.9,728.8 297.6,735.5 298.4,746.5 299.2,755.6 300.0,758.6 300.8,763.8 301.5,767.1 301.6,763.7 302.4,760.2 303.2,752.7 303.8,747.9 304.0,744.2 304.8,724.4 305.6,707.5 306.1,694.4 306.4,695.9 307.2,707.4 308.0,711.3 308.4,717.3 308.8,710.3 309.6,693.2 310.4,677.6 310.7,671.4 311.2,662.9 312.0,651.3 312.8,635.8 313.0,633.1 313.6,631.6 314.4,622.9 315.2,620.9 315.3,619.7 316.0,625.5 316.8,634.1 317.6,640.8 318.4,648.8 319.2,664.1 319.9,671.4 320.0,668.3 320.8,659.8 321.6,643.0 322.2,635.0 322.4,641.3 323.2,663.5 324.0,689.3 324.4,698.2 324.8,690.7 325.6,682.8 326.4,666.7 326.7,663.7 327.2,672.4 328.0,679.1 328.8,693.7 329.0,694.4 329.6,685.2 330.4,674.9 331.2,661.2 331.3,659.9 332.0,669.1 332.8,676.4 333.6,686.7 334.4,682.9 335.2,675.5 335.9,671.4 336.0,673.4 336.8,677.8 337.6,689.9 338.2,694.4 338.4,694.4 339.2,705.4 340.0,710.8 340.5,717.3 340.8,714.3 341.6,698.8 342.4,686.7 342.8,679.0 343.2,671.7 344.0,663.6 344.8,649.8 345.1,648.4 345.6,656.9 346.4,667.3 347.2,681.4 347.4,682.9 348.0,673.3 348.8,669.2 349.6,657.1 349.7,656.1 350.4,669.9 351.2,683.4 352.0,698.2 352.8,701.5 353.6,700.2 354.3,702.0 354.4,701.2 355.2,692.0 356.0,686.5 356.6,679.0 356.8,681.7 357.6,697.7 358.4,706.4 358.9,717.3 359.2,715.5 360.0,709.4 360.8,705.3 361.2,702.0 361.6,704.5 362.4,715.5 363.2,720.5 363.5,725.0 364.0,727.0 364.8,723.3 365.6,722.8 366.4,721.5 366.9,721.1 367.2,728.2 368.0,735.6 368.8,750.6 369.2,755.6 369.6,754.3 370.4,761.6 371.2,761.3 371.5,763.3 372.0,769.2 372.8,769.9 373.6,777.5 373.8,778.6 374.4,770.6 375.2,764.8 376.0,755.6 376.1,755.6 376.8,751.1 377.6,743.6 378.4,740.3 379.2,745.8 380.0,749.4 380.7,755.6 380.8,756.9 381.6,762.1 382.4,769.3 383.0,772.8 383.2,771.1 384.0,766.3 384.8,758.3 385.3,755.6 385.6,754.7 386.4,742.2 387.2,733.7 387.6,728.8 388.0,719.9 388.8,704.8 389.1,696.3 389.6,701.4 390.4,715.7 391.2,725.8 391.4,728.8 392.0,733.3 392.8,733.8 393.6,741.8 393.7,740.3 394.4,718.3 395.2,694.4 396.0,661.2 396.7,629.3 396.8,630.9 397.6,647.8 398.4,659.8 399.0,671.4 399.2,675.1 400.0,683.2 400.8,697.3 401.3,702.0 401.6,700.0 402.4,699.4 403.2,695.1 403.6,694.4 404.0,699.7 404.8,702.2 405.6,710.3 405.9,709.7 406.4,697.7 407.2,684.7 408.0,666.2 408.2,663.7 408.8,652.7 409.6,630.8 410.4,618.2 410.5,614.0 411.2,601.7 412.0,591.6 412.8,575.7 413.6,567.5 414.4,562.3 415.2,572.9 416.0,580.3 416.7,591.0 416.8,593.1 417.6,585.3 418.4,583.6 418.9,579.5 419.2,579.5 420.0,587.8 420.8,590.1 421.2,594.8 421.6,600.3 422.4,605.3 423.2,615.8 423.5,617.8 424.0,620.9 424.8,627.0 425.6,630.8 425.8,633.1 426.4,640.7 427.2,648.8 428.0,660.7 428.1,659.9 428.8,662.6 429.6,671.4 430.4,675.2 431.2,687.8 432.0,706.0 432.7,717.3 432.8,715.8 433.6,706.3 434.4,694.1 435.0,686.7 435.2,686.0 436.0,679.0 436.8,676.7 437.3,671.4 437.6,673.4 438.4,683.9 439.2,689.4 439.6,694.4 440.0,688.1 440.8,671.8 441.6,658.7 441.9,652.2 442.4,645.6 443.2,635.8 443.4,633.1 444.0,636.5 444.8,644.4 445.6,647.5 445.7,648.4 446.4,657.4 447.2,662.4 448.0,671.4 448.8,670.2 449.6,663.4 450.3,663.7 450.4,664.9 451.2,670.7 452.0,682.2 452.6,686.7 452.8,687.2 453.6,697.7 454.4,702.1 454.9,709.7 455.2,701.3 456.0,676.1 456.5,663.7 456.8,668.3 457.6,675.8 458.4,691.7 458.8,694.4 459.2,697.8 460.0,707.8 460.8,713.3 461.1,717.3 461.6,707.7 462.4,684.6 463.2,666.7 463.3,663.7 464.0,652.4 464.8,645.6 465.6,635.0 466.4,625.0 467.2,621.1 467.9,612.1 468.0,612.0 468.8,622.3 469.6,627.4 470.2,633.1 470.4,630.9 471.2,606.6 471.8,594.8 472.0,599.6 472.8,610.5 473.6,627.4 474.1,633.1 474.4,631.5 475.2,639.4 476.0,636.9 476.4,640.8 476.8,640.1 477.6,635.3 478.4,634.3 478.7,633.1 479.2,637.1 480.0,645.4 480.8,648.5 481.0,652.2 481.6,657.2 482.4,659.0 483.2,664.7 483.3,663.7 484.0,666.9 484.8,675.7 485.6,679.0 486.4,674.3 487.2,672.2 487.8,667.6 488.0,669.6 488.8,684.6 489.6,692.5 490.1,702.0 490.4,696.7 491.2,680.4 492.0,668.7 492.4,659.9 492.8,669.8 493.6,698.8 494.0,709.7 494.4,716.7 495.2,736.2 496.0,748.6 496.3,755.6 496.8,749.9 497.6,737.3 498.4,729.2 498.6,725.0 499.2,727.0 500.0,736.3 500.8,737.6 500.9,740.3 501.6,747.0 502.4,748.9 503.2,757.5 504.0,753.8 504.8,748.0 505.5,744.1 505.6,747.1 506.4,746.4 507.2,752.7 507.8,753.7 508.0,749.6 508.8,741.7 509.6,729.6 510.0,725.0 510.4,719.7 511.2,702.0 512.0,689.0 512.3,682.9 512.8,684.7 513.6,693.5 514.4,695.4 514.6,698.2 515.2,705.2 516.0,709.2 516.8,716.7 516.9,717.3 517.6,723.3 518.4,733.3 519.2,740.3 520.0,733.0 520.8,730.3 521.5,725.0 521.6,724.8 522.4,733.1 523.2,737.6 523.8,744.1 524.0,746.2 524.8,753.5 525.4,759.4 525.6,757.3 526.4,746.7 527.2,740.4 527.7,732.6 528.0,728.1 528.8,722.6 529.6,711.7 530.0,709.7 530.4,706.5 531.2,695.2 532.0,690.8 532.2,686.7 532.8,681.2 533.6,679.4 534.4,670.1 534.5,671.4 535.2,671.7 536.0,663.8 536.8,663.7 537.6,681.2 538.4,694.2 539.1,709.7 539.2,708.4 540.0,683.2 540.8,661.8 541.4,644.6 541.6,643.6 542.4,652.2 543.2,652.6 543.7,656.1 544.0,654.6 544.8,644.9 545.6,639.7 546.0,633.1 546.4,629.6 547.2,625.1 548.0,615.9 548.3,614.0 548.8,621.7 549.6,631.9 550.4,646.4 550.6,648.4 551.2,656.4 552.0,673.2 552.8,682.4 552.9,686.7 553.6,681.7 554.4,669.7 555.2,663.7 556.0,675.0 556.8,684.5 557.5,694.4 557.6,695.6 558.4,689.9 559.2,690.2 559.8,686.7 560.0,681.5 560.8,670.4 561.6,651.8 562.1,644.6 562.4,646.1 563.2,643.8 564.0,649.7 564.4,648.4 564.8,644.5 565.6,644.6 566.4,641.2 566.7,640.8 567.2,636.0 568.0,624.7 568.8,617.3 569.0,614.0 569.6,608.8 570.4,603.3 571.2,593.6 571.3,594.8 572.0,590.7 572.8,584.6 573.6,579.5 574.4,592.7 575.2,599.8 575.9,610.1 576.0,614.0 576.8,621.1 577.6,634.8 578.2,640.8 578.4,637.3 579.2,633.4 580.0,622.2 580.5,617.8 580.8,621.8 581.6,624.1 582.4,632.4 582.8,633.1 583.2,637.8 584.0,651.1 584.8,659.1 585.1,663.7 585.6,671.0 586.4,678.2 587.2,688.4 587.4,690.5 588.0,689.9 588.8,697.2 589.6,695.9 589.7,698.2 590.4,711.2 591.2,724.7 592.0,740.3 592.8,726.3 593.6,705.8 594.3,694.4 594.4,696.7 595.2,688.8 596.0,688.9 596.6,686.7 596.8,683.6 597.6,685.5 598.0,682.9" fill="none" stroke="#5AC8CF" stroke-width="3.5" stroke-linejoin="round" stroke-linecap="round"/>
<polyline points="655.7,707.8 656.5,700.7 657.3,692.9 658.0,686.7 658.1,688.1 658.9,687.2 659.7,695.2 660.2,694.4 660.5,690.4 661.3,687.2 662.1,680.7 662.5,679.0 662.9,685.2 663.7,692.8 664.5,704.3 664.8,705.8 665.3,707.3 666.1,712.8 666.9,712.6 667.1,713.5 667.7,707.1 668.5,696.6 669.3,689.4 669.4,686.7 670.1,677.7 670.9,673.7 671.7,663.7 672.5,657.4 673.3,655.7 674.0,648.4 674.1,646.2 674.9,648.3 675.6,644.6 675.7,645.7 676.5,661.6 677.3,672.3 677.9,682.9 678.1,688.6 678.9,701.7 679.7,720.5 680.2,730.7 680.5,728.8 681.3,726.5 682.1,720.4 682.4,721.1 682.9,717.3 683.7,705.8 684.5,696.9 684.7,694.4 685.3,691.3 686.1,687.9 686.3,686.7 686.9,681.1 687.7,677.1 688.5,666.9 688.6,667.6 689.3,677.3 690.1,683.1 690.9,694.4 691.7,701.2 692.5,704.8 693.2,709.7 693.3,710.1 694.1,690.0 694.9,675.5 695.5,659.9 695.7,657.2 696.5,657.6 697.3,653.3 697.8,652.2 698.1,653.8 698.9,648.0 699.7,646.9 700.1,644.6 700.5,643.3 701.3,644.2 702.1,642.7 702.4,642.7 702.9,649.9 703.7,656.3 704.5,669.1 704.7,671.4 705.3,673.6 706.1,681.3 706.9,686.7 707.7,691.0 708.5,697.9 709.2,702.0 709.3,700.9 710.1,707.8 710.9,707.6 711.5,711.6 711.7,711.0 712.5,707.2 713.3,704.7 713.8,702.0 714.1,698.5 714.9,696.7 715.7,689.2 716.1,686.7 716.5,682.9 717.3,670.5 718.1,662.1 718.4,656.1 718.9,655.1 719.7,655.6 720.5,653.8 720.7,654.2 721.3,648.9 722.1,640.8 722.9,636.0 723.0,633.1 723.7,629.0 724.5,626.6 725.3,621.6 726.1,615.4 726.9,611.1 727.6,604.4 727.7,604.3 728.5,614.2 729.3,618.0 729.9,625.5 730.1,629.5 730.9,639.0 731.7,652.6 732.2,659.9 732.5,662.8 733.3,675.3 734.1,680.5 734.5,686.7 734.9,686.6 735.7,676.1 736.5,675.4 736.8,671.4 737.3,669.1 738.1,668.5 738.9,663.4 739.1,663.7 739.7,673.2 740.5,679.8 741.3,694.6 741.4,694.4 742.1,702.3 742.9,712.4 743.7,721.1 744.5,714.3 745.3,708.4 746.0,702.0 746.1,700.7 746.9,697.0 747.7,689.2 748.3,686.7 748.5,686.0 749.3,679.8 750.1,675.7 750.6,671.4 750.9,669.7 751.7,672.5 752.5,668.8 752.9,669.5 753.3,671.4 754.1,673.5 754.9,679.8 755.2,679.0 755.7,686.7 756.5,703.8 757.3,715.9 757.5,721.1 758.1,729.7 758.9,734.9 759.7,743.3 759.8,744.1 760.5,736.8 761.3,732.6 762.1,725.0 762.9,717.7 763.7,715.0 764.4,709.7 764.5,707.4 765.3,702.8 766.1,694.0 766.7,690.5 766.9,692.8 767.7,696.2 768.5,703.1 769.0,705.8 769.3,701.8 770.1,696.9 770.9,689.0 771.3,686.7 771.7,693.3 772.5,698.5 773.3,707.7 773.6,709.7 774.1,698.6 774.9,683.1 775.7,663.2 775.8,663.7 776.5,661.4 777.3,657.3 778.1,654.2 778.9,668.8 779.7,681.2 780.4,694.4 780.5,695.1 781.3,681.8 782.1,673.7 782.7,663.7 782.9,660.7 783.7,657.7 784.5,649.6 785.0,646.5 785.3,651.3 786.1,661.0 786.9,674.3 787.3,679.0 787.7,675.1 788.5,671.6 789.3,660.9 789.6,659.9 790.1,672.2 790.9,685.4 791.7,707.4 791.9,709.7 792.5,707.1 793.3,706.0 794.1,700.8 794.2,702.0 794.9,709.8 795.7,713.9 796.5,721.1 797.3,719.7 798.1,715.6 798.8,715.4 798.9,718.4 799.7,718.6 800.5,725.1 801.1,725.0 801.3,725.0 802.1,732.1 802.6,732.6 802.9,725.1 803.7,712.6 804.5,693.7 804.9,686.7 805.3,686.0 806.1,678.1 806.9,674.9 807.2,671.4 807.7,661.1 808.5,651.8 809.3,635.8 809.5,633.1 810.1,635.7 810.9,637.6 811.7,643.1 811.8,640.8 812.5,645.8 813.3,655.9 814.1,663.7 814.9,656.4 815.7,654.1 816.4,648.4 816.5,645.1 817.3,643.9 818.1,636.9 818.7,633.1 818.9,638.0 819.7,642.2 820.5,656.1 821.0,659.9 821.3,662.3 822.1,671.9 822.9,678.7 823.3,682.9 823.7,678.1 824.5,661.3 825.3,651.4 825.6,646.5 826.1,646.8 826.9,654.7 827.7,658.1 827.9,659.9 828.5,667.9 829.3,675.6 830.1,688.1 830.2,686.7 830.9,688.8 831.7,691.9 832.5,694.4 833.3,697.7 834.1,706.0 834.8,709.7 834.9,707.0 835.7,704.7 836.5,697.8 837.1,694.4 837.3,691.8 838.1,677.6 838.9,669.9 839.4,661.8 839.7,662.4 840.5,665.2 841.3,665.6 841.7,667.6 842.1,675.5 842.9,687.0 843.7,705.7 844.0,709.7 844.5,716.2 845.3,730.1 846.1,739.6 846.3,744.1 846.9,736.6 847.7,720.6 848.5,713.8 848.6,709.7 849.3,691.6 850.1,673.2 850.9,652.2 851.7,637.0 852.5,623.1 853.2,610.1 853.3,608.7 854.1,609.0 854.9,600.5 855.5,600.6 855.7,603.0 856.5,598.8 857.3,600.6 857.8,598.7 858.1,601.0 858.9,610.4 859.7,611.9 860.1,617.8 860.5,617.1 861.3,606.3 862.1,601.8 862.4,598.7 862.9,595.9 863.7,596.4 864.5,590.8 864.7,592.9 865.3,599.9 866.1,608.1 866.9,617.8 867.7,610.1 868.5,600.3 869.2,592.9 869.3,594.0 870.1,591.6 870.9,596.9 871.5,594.8 871.7,595.5 872.5,604.1 873.3,604.2 873.8,610.1 874.1,613.3 874.9,619.6 875.7,629.3 876.1,633.1 876.5,633.8 877.3,641.7 878.1,644.9 878.4,648.4 878.9,652.3 879.7,656.0 880.5,663.0 880.7,663.7 881.3,666.2 882.1,675.6 882.9,678.1 883.0,679.0 883.7,694.4 884.5,706.8 884.6,709.7 885.3,723.9 886.1,732.0 886.9,747.9 887.7,756.5 888.5,761.9 889.2,770.9 889.3,772.4 890.1,777.2 890.9,788.0 891.5,792.0 891.7,783.6 892.5,764.9 893.3,738.6 893.8,725.0 894.1,721.5 894.9,704.1 895.7,696.0 896.1,686.7 896.5,683.4 897.3,683.7 898.1,679.8 898.4,679.0 898.9,685.9 899.7,693.8 900.5,708.0 900.7,709.7 901.3,712.5 902.1,718.8 902.2,717.3 902.9,698.4 903.7,683.7 904.5,661.8 905.3,675.6 906.1,690.4 906.8,702.0 906.9,698.2 907.7,691.7 908.5,682.0 909.1,675.2 909.3,676.5 910.1,676.3 910.9,679.2 911.4,679.0 911.7,680.4 912.5,693.9 913.3,702.9 913.7,709.7 914.1,721.6 914.9,735.1 915.7,757.8 916.0,763.3 916.5,762.8 917.3,770.7 918.1,771.4 918.3,772.8 918.9,762.3 919.7,744.0 920.5,730.9 920.6,728.8 921.3,743.0 922.1,762.8 922.9,778.6 923.7,779.1 924.5,783.6 925.2,784.3 925.3,780.1 926.1,772.1 926.9,754.8 927.5,747.9 927.7,745.5 928.5,720.3 929.3,705.6 929.8,690.5 930.1,686.5 930.9,683.4 931.7,674.5 932.1,671.4 932.5,670.0 933.3,656.8 934.1,652.0 934.4,648.4 934.9,641.9 935.7,638.1 936.5,625.5 936.7,625.5 937.3,621.4 938.1,613.0 938.9,608.2 939.7,616.1 940.5,622.7 941.2,629.3 941.3,631.2 942.1,621.3 942.9,619.0 943.5,614.0 943.7,612.1 944.5,609.3 945.3,601.4 945.8,598.7 946.1,605.8 946.9,614.6 947.7,629.1 948.1,633.1 948.5,637.4 949.3,649.7 950.1,659.5 950.4,663.7 950.9,657.6 951.7,645.4 952.5,636.8 952.7,633.1 953.3,645.6 954.1,665.9 954.9,683.8 955.0,686.7 955.7,699.8 956.5,708.1 957.3,721.1 958.1,716.4 958.9,709.9 959.6,705.8 959.7,707.7 960.5,697.2 961.3,696.0 961.9,690.5 962.1,688.2 962.9,693.7 963.7,693.0 964.2,694.4 964.5,695.5 965.3,688.3 966.1,685.1 966.5,682.9 966.9,685.6 967.7,699.5 968.5,704.7 968.8,709.7 969.3,713.6 970.1,715.7 970.9,724.7 971.1,725.0 971.7,718.4 972.5,716.7 973.3,709.8 973.4,709.7 974.1,714.6 974.9,714.1 975.7,717.3 976.5,711.3 977.3,699.4 978.0,694.4 978.1,695.7 978.9,699.4 979.7,708.3 980.3,709.7 980.5,706.2 981.3,695.0 982.1,678.2 982.6,671.4 982.9,681.9 983.7,705.2 984.1,721.1 984.5,717.7 985.3,702.6 986.1,693.2 986.4,686.7 986.9,678.5 987.7,670.9 988.5,658.2 988.7,656.1 989.3,652.3 990.1,644.2 990.9,642.5 991.0,640.8 991.7,625.4 992.5,609.3 993.3,591.0 994.1,594.8 994.9,602.2 995.6,606.3 995.7,605.4 996.5,600.5 997.3,594.0 997.9,591.0 998.1,590.0 998.9,580.4 999.7,573.2 1000.2,568.0 1000.5,570.4 1001.3,587.3 1002.1,598.1 1002.5,606.3 1002.9,612.5 1003.7,623.7 1004.5,637.3 1004.8,640.8 1005.3,641.8 1006.1,648.7 1006.9,649.2 1007.1,652.2 1007.7,658.2 1008.5,662.9 1009.3,671.2 1009.4,671.4 1010.1,664.7 1010.9,661.6 1011.7,656.1 1012.5,665.2 1013.3,674.9 1014.0,682.9 1014.1,682.4 1014.9,693.4 1015.7,699.6 1016.3,705.8 1016.5,706.9 1017.3,695.7 1018.1,693.3 1018.6,688.6 1018.9,684.7 1019.7,686.0 1020.5,679.7 1020.9,679.0 1021.3,676.5 1022.1,668.4 1022.9,667.2 1023.2,663.7 1023.7,653.9 1024.5,643.6 1025.3,628.2 1025.5,625.5 1026.1,637.5 1026.9,647.8 1027.7,662.2 1027.8,663.7 1028.5,665.2 1029.3,669.1 1030.0,671.4 1030.1,667.8 1030.9,663.4 1031.7,651.8 1032.3,648.4 1032.5,648.8 1033.3,637.8 1034.1,636.5 1034.9,624.9 1035.4,623.5 1035.7,626.8 1036.5,629.2 1037.3,638.4 1037.7,640.8 1038.1,643.3 1038.9,649.4 1039.7,651.5 1040.0,656.1 1040.5,662.1 1041.3,671.0 1042.1,682.1 1042.3,682.9 1042.9,687.3 1043.7,695.5 1044.5,700.2 1044.6,702.0 1045.3,686.3 1046.1,664.4 1046.9,648.4 1047.7,658.4 1048.5,661.8 1049.2,671.4 1049.3,673.7 1050.1,686.2 1050.9,702.3 1051.5,709.7 1051.7,710.4 1052.5,720.6 1053.3,722.6 1053.8,728.8 1054.1,725.3 1054.9,710.8 1055.7,701.0 1056.1,694.4 1056.5,690.5 1057.3,691.4 1058.1,686.7 1058.4,686.7 1058.9,675.8 1059.7,655.8 1059.9,652.2 1060.5,659.8 1061.3,666.5 1062.1,678.8 1062.2,679.0 1062.9,674.5 1063.7,672.2 1064.5,667.6 1065.3,660.7 1066.1,654.4 1066.8,648.4 1066.9,650.2 1067.7,668.4 1068.5,679.8 1069.1,694.4 1069.3,697.7 1070.1,696.2 1070.9,700.5 1071.4,702.0 1071.7,704.4 1072.5,714.5 1073.3,719.5 1073.7,725.0 1074.1,731.8 1074.9,738.4 1075.7,752.2 1076.0,755.6 1076.5,756.7 1077.3,763.0 1078.1,762.4 1078.3,765.2 1078.9,761.3 1079.7,749.8 1080.5,742.0 1080.6,740.3 1081.3,742.4 1082.1,750.9 1082.9,755.6 1083.7,744.4 1084.5,734.9 1085.2,725.0 1085.3,724.2 1086.1,733.6 1086.9,734.8 1087.5,740.3 1087.7,739.2 1088.5,733.4 1089.3,729.8 1089.8,725.0 1090.1,719.5 1090.9,711.0 1091.7,699.1 1092.1,694.4 1092.5,691.7 1093.3,677.4 1094.1,667.9 1094.4,663.7 1094.9,668.5 1095.7,678.7 1096.5,682.7 1096.7,686.7 1097.3,679.9 1098.1,666.6 1098.9,656.1 1099.7,651.2 1100.5,644.0 1101.3,640.9 1102.0,633.1 1102.1,635.1 1102.9,654.6 1103.7,667.3 1104.3,682.9 1104.5,682.1 1105.3,670.2 1106.1,662.1 1106.6,656.1 1106.9,660.1 1107.7,676.4 1108.5,688.3 1108.9,698.2 1109.3,700.8 1110.1,701.6 1110.9,708.8 1111.2,709.7 1111.7,714.4 1112.5,726.9 1113.3,735.7 1113.5,738.4" fill="none" stroke="#FA8078" stroke-width="3.5" stroke-linejoin="round" stroke-linecap="round"/>
<polyline points="655.7,656.1 656.5,668.2 657.3,675.4 658.0,686.7 658.1,688.1 658.9,674.7 659.7,668.0 660.2,659.9 660.5,657.3 661.3,654.1 662.1,647.1 662.5,644.6 662.9,652.6 663.7,661.5 664.5,676.5 664.8,679.0 665.3,673.3 666.1,669.7 666.9,659.6 667.1,659.9 667.7,656.5 668.5,645.3 669.3,639.4 669.4,636.9 670.1,636.1 670.9,641.4 671.7,640.8 672.5,630.6 673.3,621.0 674.0,612.1 674.1,608.8 674.9,608.2 675.6,600.6 675.7,600.2 676.5,607.8 677.3,607.9 677.9,614.0 678.1,616.7 678.9,620.3 679.7,630.9 680.2,633.1 680.5,630.3 681.3,629.3 682.1,623.3 682.4,623.5 682.9,632.3 683.7,637.1 684.5,650.3 684.7,652.2 685.3,658.2 686.1,669.5 686.9,675.8 687.0,679.0 687.7,677.5 688.5,670.1 689.3,665.6 690.1,688.3 690.9,709.7 691.7,726.4 692.4,742.2 692.5,742.7 693.3,720.9 694.1,708.4 694.7,694.4 694.9,693.1 695.7,701.3 696.5,705.8 697.0,709.7 697.3,724.5 698.1,752.6 698.5,770.9 698.9,770.6 699.7,764.9 700.5,766.3 700.8,763.3 701.3,769.5 702.1,784.5 702.4,788.1 702.9,784.0 703.7,783.3 704.5,777.4 704.7,778.6 705.3,764.8 706.1,741.4 706.2,740.3 706.9,748.3 707.7,755.1 708.5,763.3 709.3,755.2 710.1,745.4 710.8,738.4 710.9,740.0 711.7,745.4 712.5,757.9 713.1,761.3 713.3,759.9 714.1,756.1 714.9,749.8 715.4,747.9 715.7,742.9 716.5,719.7 716.9,709.7 717.3,717.3 718.1,728.7 718.9,747.3 719.2,749.9 719.7,743.5 720.5,738.4 721.3,725.7 721.5,725.0 722.1,727.6 722.9,727.6 723.7,733.8 723.8,732.6 724.5,716.9 725.3,702.2 726.1,682.9 726.9,682.9 727.7,689.5 728.4,688.6 728.5,689.3 729.3,699.5 730.1,702.2 730.7,709.7 730.9,713.4 731.7,716.0 732.5,724.8 733.0,728.8 733.3,729.3 734.1,738.7 734.9,741.2 735.3,744.1 735.7,737.0 736.5,717.6 737.3,702.9 737.6,694.4 738.1,687.4 738.9,683.4 739.7,670.8 739.9,671.4 740.5,661.6 741.3,645.5 742.1,637.4 742.2,633.1 742.9,618.3 743.7,605.8 744.5,591.0 745.3,584.2 746.1,583.0 746.8,575.7 746.9,574.5 747.7,580.7 748.5,580.7 749.1,583.3 749.3,582.5 750.1,574.3 750.9,572.3 751.3,568.0 751.7,566.1 752.5,563.6 753.3,558.7 753.6,558.5 754.1,565.1 754.9,570.2 755.7,579.2 755.9,579.5 756.5,582.9 757.3,589.0 758.1,593.1 758.2,594.8 758.9,597.3 759.7,599.6 760.5,602.5 761.3,615.7 762.1,621.8 762.8,633.1 762.9,634.7 763.7,640.6 764.5,651.1 765.1,656.1 765.3,658.2 766.1,670.4 766.9,676.5 767.4,682.9 767.7,682.1 768.5,674.4 769.3,670.6 769.7,665.6 770.1,667.3 770.9,674.6 771.7,677.1 772.0,679.0 772.5,676.6 773.3,665.1 774.1,658.7 774.3,656.1 774.9,665.1 775.7,682.0 776.5,691.7 776.6,694.4 777.3,688.8 778.1,674.3 778.9,667.6 779.7,682.4 780.5,695.9 781.2,709.7 781.3,708.6 782.1,697.1 782.9,688.0 783.5,679.0 783.7,680.7 784.5,699.9 785.3,709.9 785.8,721.1 786.1,715.6 786.9,694.7 787.7,681.5 788.1,671.4 788.5,669.9 789.3,669.4 790.1,663.7 790.4,663.7 790.9,674.7 791.7,690.8 792.5,711.2 792.7,713.5 793.3,693.5 794.1,671.2 794.9,643.8 795.0,640.8 795.7,629.9 796.5,614.5 797.3,604.4 798.1,615.0 798.9,623.4 799.6,633.1 799.7,635.1 800.5,641.5 801.3,652.7 801.9,656.1 802.1,649.6 802.9,631.3 803.7,609.2 804.2,598.7 804.5,604.7 805.3,615.0 806.1,627.3 806.5,633.1 806.9,630.3 807.7,629.3 808.5,626.3 808.8,625.5 809.3,652.0 810.1,691.2 810.3,702.0 810.9,689.6 811.7,669.7 812.5,655.4 812.6,652.2 813.3,644.4 814.1,643.6 814.9,635.0 815.7,636.8 816.5,642.3 817.2,644.6 817.3,640.4 818.1,626.1 818.9,605.8 819.5,594.8 819.7,596.6 820.5,590.0 821.0,589.1 821.3,596.3 822.1,609.9 822.9,625.6 823.3,633.1 823.7,636.8 824.5,647.7 825.3,654.9 825.6,659.9 826.1,658.6 826.9,649.8 827.7,646.1 827.9,644.6 828.5,654.4 829.3,668.1 830.1,680.6 830.2,682.9 830.9,681.4 831.7,672.8 832.5,671.4 833.3,672.0 834.1,665.4 834.8,665.6 834.9,668.8 835.7,679.8 836.5,695.9 837.1,705.8 837.3,700.5 838.1,694.0 838.9,680.4 839.4,675.2 839.7,679.3 840.5,686.0 841.3,699.3 841.7,702.0 842.1,699.1 842.9,695.0 843.7,687.7 844.0,686.7 844.5,695.4 845.3,703.4 846.1,715.6 846.3,717.3 846.9,718.2 847.7,722.8 848.5,720.8 848.6,723.1 849.3,716.9 850.1,708.7 850.9,702.0 851.7,701.3 852.5,698.4 853.2,698.2 853.3,700.5 854.1,694.4 854.9,694.9 855.5,692.4 855.7,691.2 856.5,698.1 857.3,698.4 857.8,702.0 858.1,704.0 858.9,704.7 859.7,708.6 860.1,709.7 860.5,716.0 861.3,733.7 862.1,744.8 862.4,751.8 862.9,743.6 863.7,727.4 864.5,713.6 864.7,709.7 865.3,696.6 866.1,681.9 866.9,663.7 867.7,647.1 868.5,634.6 869.2,621.6 869.3,620.0 870.1,631.2 870.9,636.0 871.5,644.6 871.7,646.9 872.5,642.3 873.3,642.6 873.8,640.8 874.1,636.1 874.9,629.9 875.7,620.0 876.1,615.9 876.5,620.9 877.3,623.9 878.1,631.9 878.4,633.1 878.9,632.8 879.7,639.5 880.5,638.1 880.7,640.8 881.3,650.8 882.1,658.8 882.9,672.7 883.0,671.4 883.7,684.6 884.5,702.1 884.6,702.0 885.3,722.8 886.1,747.5 886.9,770.9 887.7,770.7 888.5,776.1 889.2,774.7 889.3,771.7 890.1,768.3 890.9,757.6 891.5,751.8 891.7,752.5 892.5,749.1 893.3,749.3 893.8,747.9 894.1,751.8 894.9,767.0 895.7,776.2 896.1,782.4 896.5,782.1 897.3,777.4 898.1,778.3 898.4,774.7 898.9,778.3 899.7,788.6 900.5,791.4 900.7,795.8 901.3,790.9 902.1,782.0 902.9,777.6 903.0,774.7 903.7,758.1 904.5,746.3 905.3,728.8 906.1,715.8 906.9,705.1 907.6,694.4 907.7,692.1 908.5,698.4 909.3,697.4 909.9,702.0 910.1,701.0 910.9,690.5 911.7,686.0 912.2,679.0 912.5,677.0 913.3,675.8 914.1,671.8 914.4,671.4 914.9,666.4 915.7,655.2 916.0,652.2 916.5,655.3 917.3,658.1 918.1,662.9 918.3,663.7 918.9,653.1 919.7,646.6 920.5,632.9 920.6,633.1 921.3,627.6 922.1,616.6 922.9,610.1 923.7,620.1 924.5,625.1 925.2,633.1 925.3,632.0 926.1,615.4 926.9,603.6 927.5,592.9 927.7,595.8 928.5,611.4 929.3,621.8 929.8,633.1 930.1,640.1 930.9,654.1 931.7,673.6 932.1,679.0 932.5,683.7 933.3,701.0 934.1,709.7 934.4,717.3 934.9,723.3 935.7,730.1 936.5,738.9 936.7,740.3 937.3,744.6 938.1,755.1 938.9,763.3 939.7,767.9 940.5,777.2 941.2,782.4 941.3,782.2 942.1,791.9 942.9,795.5 943.5,801.5 943.7,804.0 944.5,805.5 945.3,813.1 945.8,813.0 946.1,806.0 946.9,795.5 947.7,778.0 948.1,770.9 948.5,771.4 949.3,766.9 950.1,766.5 950.4,765.2 950.9,753.8 951.7,739.1 952.5,719.5 952.7,717.3 953.3,707.5 954.1,693.4 954.9,683.3 955.0,679.0 955.7,670.5 956.5,663.5 956.6,661.8 957.3,670.3 958.1,685.7 958.9,698.2 959.7,690.6 960.5,684.4 961.1,679.0 961.3,676.8 962.1,677.2 962.9,672.5 963.4,671.4 963.7,674.4 964.5,674.0 965.3,679.7 965.7,679.0 966.1,673.1 966.9,669.2 967.7,661.8 968.0,659.9 968.5,668.0 969.3,676.8 970.1,691.6 970.3,694.4 970.9,696.8 971.7,703.3 972.5,705.1 972.6,705.8 973.3,709.5 974.1,713.1 974.9,717.3 975.7,704.7 976.5,687.0 977.2,675.2 977.3,678.8 978.1,683.6 978.9,692.4 979.5,698.2 979.7,695.3 980.5,687.5 981.3,675.2 981.8,671.4 982.1,678.0 982.9,685.8 983.7,699.3 984.1,702.0 984.5,702.3 985.3,706.2 986.1,708.1 986.4,709.7 986.9,717.8 987.7,727.1 988.5,742.0 988.7,742.2 989.3,735.5 990.1,729.6 990.9,716.9 991.0,717.3 991.7,721.1 992.5,720.3 993.3,725.0 994.1,717.0 994.9,702.7 995.6,694.4 995.7,694.5 996.5,689.7 997.3,687.4 997.9,682.9 998.1,687.7 998.9,708.1 999.7,725.2 1000.2,740.3 1000.5,740.3 1001.3,732.0 1002.1,729.2 1002.5,725.0 1002.9,715.0 1003.7,702.5 1004.5,684.0 1004.8,679.0 1005.3,673.8 1006.1,661.5 1006.9,651.3 1007.1,648.4 1007.7,643.4 1008.5,641.1 1009.3,631.2 1009.4,633.1 1010.1,628.3 1010.9,620.4 1011.7,614.0 1012.5,623.5 1013.3,627.9 1014.0,636.9 1014.1,640.7 1014.9,644.8 1015.7,657.7 1016.3,663.7 1016.5,664.4 1017.3,670.6 1018.1,675.5 1018.6,679.0 1018.9,682.6 1019.7,689.4 1020.5,698.6 1020.9,702.0 1021.3,696.0 1022.1,690.2 1022.9,681.0 1023.2,679.0 1023.7,685.8 1024.5,692.6 1025.3,704.5 1025.5,705.8 1026.1,698.8 1026.9,696.8 1027.7,685.5 1027.8,686.7 1028.5,696.0 1029.3,701.8 1030.0,709.7 1030.1,711.3 1030.9,698.7 1031.7,694.7 1032.3,686.7 1032.5,687.7 1033.3,697.3 1034.1,702.1 1034.6,709.7 1034.9,709.7 1035.7,701.4 1036.5,699.7 1036.9,694.4 1037.3,686.9 1038.1,676.6 1038.9,661.8 1039.2,659.9 1039.7,663.4 1040.5,663.8 1041.3,672.4 1041.5,671.4 1042.1,663.8 1042.9,661.2 1043.7,651.0 1043.8,652.2 1044.5,657.9 1045.3,661.2 1046.1,667.6 1046.9,661.6 1047.7,649.6 1048.4,644.6 1048.5,646.8 1049.3,654.5 1050.1,665.4 1050.7,671.4 1050.9,671.9 1051.7,676.7 1052.5,675.8 1053.0,679.0 1053.3,680.2 1054.1,680.1 1054.9,686.4 1055.3,686.7 1055.7,683.4 1056.5,681.3 1057.3,672.8 1057.6,671.4 1058.1,674.6 1058.9,675.5 1059.7,678.5 1059.9,679.0 1060.5,673.0 1061.3,670.3 1062.1,664.2 1062.2,663.7 1062.9,655.2 1063.7,643.0 1064.5,635.0 1065.3,639.0 1066.1,638.4 1066.8,640.8 1066.9,641.1 1067.7,625.2 1068.5,613.5 1069.1,602.5 1069.3,598.5 1070.1,593.5 1070.9,581.9 1071.4,579.5 1071.7,577.9 1072.5,570.7 1073.3,567.9 1073.7,562.3 1074.1,561.0 1074.9,562.3 1075.7,558.8 1076.0,558.5 1076.5,559.9 1077.3,557.0 1078.1,560.8 1078.3,560.4 1078.9,564.9 1079.7,575.8 1080.5,581.7 1080.6,583.3 1081.3,596.4 1082.1,604.8 1082.9,617.8 1083.7,618.6 1084.5,615.0 1085.2,615.9 1085.3,617.2 1086.1,621.6 1086.9,628.8 1087.5,633.1 1087.7,639.6 1088.5,669.0 1089.3,690.4 1089.8,709.7 1090.1,711.9 1090.9,716.8 1091.7,724.9 1092.1,725.0 1092.5,720.8 1093.3,719.6 1094.1,710.7 1094.4,709.7 1094.9,711.6 1095.7,713.4 1096.5,718.6 1096.7,717.3 1097.3,709.6 1098.1,704.2 1098.9,694.4 1099.7,690.2 1100.5,691.6 1101.2,686.7 1101.3,685.1 1102.1,696.3 1102.9,703.5 1103.5,709.7 1103.7,711.4 1104.5,712.8 1105.3,716.6 1105.8,717.3 1106.1,711.7 1106.9,707.8 1107.7,697.8 1108.1,694.4 1108.5,691.0 1109.3,681.4 1110.1,675.0 1110.4,671.4 1110.9,669.6 1111.7,670.8 1112.5,665.3 1112.7,667.6 1113.3,677.2 1114.1,686.6 1114.3,690.5" fill="none" stroke="#5AC8CF" stroke-width="3.5" stroke-linejoin="round" stroke-linecap="round"/>
<g stroke="#000" stroke-width="3.5" fill="none">
<line x1="116.9" y1="66" x2="116.9" y2="456" stroke-width="3.9"/>
<line x1="116.9" y1="465.4" x2="116.9" y2="856.3" stroke-width="3.9"/>
<line x1="115.3" y1="854.6" x2="622.9" y2="854.6"/>
<line x1="631.3" y1="854.6" x2="1139.5" y2="854.6"/>
</g>
<g stroke="#000" stroke-width="3.4" fill="none">
<line x1="110.4" y1="169.1" x2="116" y2="169.1" stroke-width="3.8"/>
<line x1="110.4" y1="280.7" x2="116" y2="280.7" stroke-width="3.8"/>
<line x1="110.4" y1="392.2" x2="116" y2="392.2" stroke-width="3.8"/>
<line x1="110.4" y1="568.8" x2="116" y2="568.8" stroke-width="3.8"/>
<line x1="110.4" y1="680.1" x2="116" y2="680.1" stroke-width="3.8"/>
<line x1="110.4" y1="791.8" x2="116" y2="791.8" stroke-width="3.8"/>
<line x1="138.0" y1="855" x2="138.0" y2="860.8" stroke-width="3"/>
<line x1="230.0" y1="855" x2="230.0" y2="860.8" stroke-width="3"/>
<line x1="322.0" y1="855" x2="322.0" y2="860.8" stroke-width="3"/>
<line x1="414.0" y1="855" x2="414.0" y2="860.8" stroke-width="3"/>
<line x1="506.0" y1="855" x2="506.0" y2="860.8" stroke-width="3"/>
<line x1="598.0" y1="855" x2="598.0" y2="860.8" stroke-width="3"/>
<line x1="655.4" y1="855" x2="655.4" y2="860.8" stroke-width="3"/>
<line x1="747.4" y1="855" x2="747.4" y2="860.8" stroke-width="3"/>
<line x1="839.4" y1="855" x2="839.4" y2="860.8" stroke-width="3"/>
<line x1="931.4" y1="855" x2="931.4" y2="860.8" stroke-width="3"/>
<line x1="1023.4" y1="855" x2="1023.4" y2="860.8" stroke-width="3"/>
<line x1="1115.4" y1="855" x2="1115.4" y2="860.8" stroke-width="3"/>
</g>
<g font-family="Liberation Serif, serif" font-size="26.4" fill="#000">
<text x="108.39999999999999" y="177.4" text-anchor="end" letter-spacing="0.7">0.04</text>
<text x="108.39999999999999" y="289.0" text-anchor="end" letter-spacing="0.7">0.00</text>
<text x="111.39999999999999" y="400.5" text-anchor="end" letter-spacing="0.7">−0.04</text>
<text x="108.39999999999999" y="577.1" text-anchor="end" letter-spacing="0.7">0.04</text>
<text x="108.39999999999999" y="688.4" text-anchor="end" letter-spacing="0.7">0.00</text>
<text x="111.39999999999999" y="800.1" text-anchor="end" letter-spacing="0.7">−0.04</text>
<text x="138.8" y="886.5" text-anchor="middle">0</text>
<text x="230.0" y="886.5" text-anchor="middle">1</text>
<text x="322.0" y="886.5" text-anchor="middle">2</text>
<text x="413.7" y="886.5" text-anchor="middle">3</text>
<text x="504.9" y="886.5" text-anchor="middle">4</text>
<text x="596.6" y="886.5" text-anchor="middle">5</text>
<text x="655.9" y="886.5" text-anchor="middle">0</text>
<text x="746.6" y="886.5" text-anchor="middle">1</text>
<text x="839.7" y="886.5" text-anchor="middle">2</text>
<text x="929.7" y="886.5" text-anchor="middle">3</text>
<text x="1021.2" y="886.5" text-anchor="middle">4</text>
<text x="1113.2" y="886.5" text-anchor="middle">5</text>
</g>
<text font-family="Liberation Serif, serif" font-size="33.4" x="605" y="926.8">time (s)</text>
<text font-family="Liberation Serif, serif" font-size="33.1" transform="translate(29 449.5) rotate(-90)" text-anchor="middle">coherence</text>
<text font-family="Liberation Serif, serif" font-size="36.7" font-weight="bold" x="384.3" y="34.2">A. Beta CMC over time (ID 17)</text>
<text font-family="Liberation Serif, serif" font-size="36.9" font-weight="bold" x="1274" y="32">B. Topoplots of Beta CMC</text>
<rect x="1182.5" y="46.7" width="278.3" height="20.7" fill="#D1CFCF"/>
<rect x="1492" y="46.7" width="279.3" height="20.7" fill="#D1CFCF"/>
<g font-family="Liberation Serif, serif" font-size="27" fill="#000">
<text x="355.7" y="65.4">Pre</text>
<text x="862" y="67">Post</text>
<text x="1307" y="65.7">Pre</text>
<text x="1615.7" y="67.8">Post</text>
<text transform="translate(1138.2 245.4) rotate(90)">FDI</text>
<text transform="translate(1138 634.6) rotate(90)">FDS</text>
<text x="1444.2" y="96">ID 17</text>
<text x="1447" y="484.4">ID 17</text>
<text x="1358.1" y="279.4" font-size="27.4">Averaged participants</text>
<text x="1355.4" y="678.2" font-size="27.4">Averaged participants</text>
</g>
<g font-family="Liberation Serif, serif" font-size="30" fill="#000">
<text x="1007.3" y="450.8">hand</text>
<text x="1038" y="481">left</text>
<text x="1038" y="505.3">right</text>
</g>
<line x1="1004.3" y1="474.1" x2="1024.7" y2="474.1" stroke="#FA8078" stroke-width="3.8"/>
<line x1="1004.3" y1="498.6" x2="1024.7" y2="498.6" stroke="#5AC8CF" stroke-width="3.8"/>
<rect x="1182" y="101.3" width="589.5" height="4.8" fill="#000"/>
<rect x="1182" y="286.40000000000003" width="589.5" height="4.8" fill="#000"/>
<rect x="1182" y="486.90000000000003" width="589.5" height="4.8" fill="#000"/>
<rect x="1182" y="684.2" width="589.5" height="4.8" fill="#000"/>
<rect x="1185.0" y="113.9" width="121.1" height="121.0" fill="#fff" stroke="#FA8078" stroke-width="3.8"/>
<clipPath id="c1"><circle cx="1243.8" cy="180.1" r="48.4"/></clipPath>
<g clip-path="url(#c1)"><g filter="url(#par)">
<rect x="1181.8999999999999" y="118.19999999999999" width="123.8" height="123.8" fill="#000"/>
<rect x="1181.8999999999999" y="118.19999999999999" width="123.8" height="123.8" fill="#fff" fill-opacity="0.03"/>
<ellipse cx="1243" cy="142" rx="30" ry="17" fill="url(#gw)" fill-opacity="0.24"/>
<ellipse cx="1214" cy="186" rx="26" ry="36" fill="url(#gw)" fill-opacity="0.3"/>
<ellipse cx="1205" cy="176" rx="8" ry="17" fill="url(#gw)" fill-opacity="0.35"/>
<ellipse cx="1211" cy="190" rx="16" ry="23" fill="url(#gw)" fill-opacity="0.6"/>
<ellipse cx="1210.9" cy="191.7" rx="9.5" ry="10.5" fill="url(#gw)" fill-opacity="0.7"/>
<ellipse cx="1250" cy="179.4" rx="25" ry="28" fill="url(#gw)" fill-opacity="0.4"/>
<ellipse cx="1250" cy="179.4" rx="13.6" ry="16.4" fill="#fff" fill-opacity="1"/>
</g></g>
<path d="M1195.4,172.6 c-3,-1.6 -6.2,-0.6 -6.2,2.6 l0.9,13.8 c0.3,4.2 2.6,5.6 6.4,4.2" fill="#fff" stroke="#000" stroke-width="3.0"/>
<path d="M1292.2,172.6 c3,-1.6 6.2,-0.6 6.2,2.6 l-0.9,13.8 c-0.3,4.2 -2.6,5.6 -6.4,4.2" fill="#fff" stroke="#000" stroke-width="3.0"/>
<path d="M1234.5,132.4 L1243.8,123.2 L1253.1,132.4" fill="#fff" stroke="#000" stroke-width="3.0" stroke-linejoin="miter"/>
<path d="M1201.5,206.0 l-1.8,2.6" stroke="#000" stroke-width="3.0" fill="none"/>
<path d="M1286.1,206.0 l1.8,2.6" stroke="#000" stroke-width="3.0" fill="none"/>
<circle cx="1243.8" cy="180.1" r="48.4" fill="none" stroke="#000" stroke-width="3.0"/>
<path d="M1227.2,144.8l2.42,-2.20l1.87,0.99l0,2.42l-1.87,0.99z M1241.5,142.7l2.42,-2.20l1.87,0.99l0,2.42l-1.87,0.99z M1255.1,144.8l2.42,-2.20l1.87,0.99l0,2.42l-1.87,0.99z M1214.3,150.4l2.42,-2.20l1.87,0.99l0,2.42l-1.87,0.99z M1225.9,152.4l2.42,-2.20l1.87,0.99l0,2.42l-1.87,0.99z M1241.5,152.1l2.42,-2.20l1.87,0.99l0,2.42l-1.87,0.99z M1256.4,152.4l2.42,-2.20l1.87,0.99l0,2.42l-1.87,0.99z M1267.8,150.4l2.42,-2.20l1.87,0.99l0,2.42l-1.87,0.99z M1204.3,157.5l2.42,-2.20l1.87,0.99l0,2.42l-1.87,0.99z M1213.1,160.6l2.42,-2.20l1.87,0.99l0,2.42l-1.87,0.99z M1222.5,161.2l2.42,-2.20l1.87,0.99l0,2.42l-1.87,0.99z M1231.8,161.2l2.42,-2.20l1.87,0.99l0,2.42l-1.87,0.99z M1241.5,161.2l2.42,-2.20l1.87,0.99l0,2.42l-1.87,0.99z M1250.5,161.2l2.42,-2.20l1.87,0.99l0,2.42l-1.87,0.99z M1259.8,161.2l2.42,-2.20l1.87,0.99l0,2.42l-1.87,0.99z M1269.2,160.1l2.42,-2.20l1.87,0.99l0,2.42l-1.87,0.99z M1278.0,157.5l2.42,-2.20l1.87,0.99l0,2.42l-1.87,0.99z M1197.8,168.0l2.42,-2.20l1.87,0.99l0,2.42l-1.87,0.99z M1208.0,169.4l2.42,-2.20l1.87,0.99l0,2.42l-1.87,0.99z M1218.7,170.2l2.42,-2.20l1.87,0.99l0,2.42l-1.87,0.99z M1229.8,170.2l2.42,-2.20l1.87,0.99l0,2.42l-1.87,0.99z M1241.5,170.2l2.42,-2.20l1.87,0.99l0,2.42l-1.87,0.99z M1252.2,170.2l2.42,-2.20l1.87,0.99l0,2.42l-1.87,0.99z M1262.9,170.2l2.42,-2.20l1.87,0.99l0,2.42l-1.87,0.99z M1274.3,169.4l2.42,-2.20l1.87,0.99l0,2.42l-1.87,0.99z M1284.5,168.0l2.42,-2.20l1.87,0.99l0,2.42l-1.87,0.99z M1195.8,179.6l2.42,-2.20l1.87,0.99l0,2.42l-1.87,0.99z M1207.2,179.6l2.42,-2.20l1.87,0.99l0,2.42l-1.87,0.99z M1218.2,179.6l2.42,-2.20l1.87,0.99l0,2.42l-1.87,0.99z M1229.8,179.6l2.42,-2.20l1.87,0.99l0,2.42l-1.87,0.99z M1241.5,179.6l2.42,-2.20l1.87,0.99l0,2.42l-1.87,0.99z M1252.2,179.6l2.42,-2.20l1.87,0.99l0,2.42l-1.87,0.99z M1263.2,179.6l2.42,-2.20l1.87,0.99l0,2.42l-1.87,0.99z M1275.1,179.6l2.42,-2.20l1.87,0.99l0,2.42l-1.87,0.99z M1286.2,179.6l2.42,-2.20l1.87,0.99l0,2.42l-1.87,0.99z M1197.8,190.6l2.42,-2.20l1.87,0.99l0,2.42l-1.87,0.99z M1208.0,189.8l2.42,-2.20l1.87,0.99l0,2.42l-1.87,0.99z M1218.7,188.9l2.42,-2.20l1.87,0.99l0,2.42l-1.87,0.99z M1229.8,188.9l2.42,-2.20l1.87,0.99l0,2.42l-1.87,0.99z M1241.5,188.9l2.42,-2.20l1.87,0.99l0,2.42l-1.87,0.99z M1252.2,188.9l2.42,-2.20l1.87,0.99l0,2.42l-1.87,0.99z M1262.9,188.9l2.42,-2.20l1.87,0.99l0,2.42l-1.87,0.99z M1274.3,189.8l2.42,-2.20l1.87,0.99l0,2.42l-1.87,0.99z M1284.5,190.6l2.42,-2.20l1.87,0.99l0,2.42l-1.87,0.99z M1204.3,200.0l2.42,-2.20l1.87,0.99l0,2.42l-1.87,0.99z M1213.1,198.8l2.42,-2.20l1.87,0.99l0,2.42l-1.87,0.99z M1222.5,198.3l2.42,-2.20l1.87,0.99l0,2.42l-1.87,0.99z M1231.8,198.3l2.42,-2.20l1.87,0.99l0,2.42l-1.87,0.99z M1241.5,198.3l2.42,-2.20l1.87,0.99l0,2.42l-1.87,0.99z M1250.5,198.3l2.42,-2.20l1.87,0.99l0,2.42l-1.87,0.99z M1259.8,198.3l2.42,-2.20l1.87,0.99l0,2.42l-1.87,0.99z M1269.2,198.8l2.42,-2.20l1.87,0.99l0,2.42l-1.87,0.99z M1278.0,200.0l2.42,-2.20l1.87,0.99l0,2.42l-1.87,0.99z M1214.3,208.5l2.42,-2.20l1.87,0.99l0,2.42l-1.87,0.99z M1225.9,205.4l2.42,-2.20l1.87,0.99l0,2.42l-1.87,0.99z M1241.5,206.8l2.42,-2.20l1.87,0.99l0,2.42l-1.87,0.99z M1256.4,205.4l2.42,-2.20l1.87,0.99l0,2.42l-1.87,0.99z M1267.8,208.5l2.42,-2.20l1.87,0.99l0,2.42l-1.87,0.99z M1227.2,213.9l2.42,-2.20l1.87,0.99l0,2.42l-1.87,0.99z M1241.5,215.3l2.42,-2.20l1.87,0.99l0,2.42l-1.87,0.99z M1255.1,213.9l2.42,-2.20l1.87,0.99l0,2.42l-1.87,0.99z M1241.5,224.3l2.42,-2.20l1.87,0.99l0,2.42l-1.87,0.99z" fill="#000" stroke="#000" stroke-width="0.9" stroke-linejoin="round"/>
<rect x="1340.1" y="115.0" width="119.3" height="118.4" fill="#fff" stroke="#5AC8CF" stroke-width="3.4"/>
<clipPath id="c2"><circle cx="1400.6" cy="178.9" r="48.0"/></clipPath>
<g clip-path="url(#c2)"><g filter="url(#par)">
<rect x="1339.3" y="117.60000000000002" width="122.6" height="122.6" fill="#000"/>
<rect x="1339.3" y="117.60000000000002" width="122.6" height="122.6" fill="#fff" fill-opacity="0.03"/>
<ellipse cx="1370" cy="182" rx="48" ry="68" fill="url(#gw)" fill-opacity="0.44"/>
<ellipse cx="1405" cy="190" rx="16" ry="44" fill="url(#gw)" fill-opacity="0.3"/>
<ellipse cx="1411" cy="148" rx="8" ry="28" fill="url(#gw)" fill-opacity="0.42"/>
<ellipse cx="1359.5" cy="173" rx="6.5" ry="11" fill="url(#gk)" fill-opacity="0.75"/>
<ellipse cx="1381" cy="175" rx="30" ry="48" fill="url(#gw)" fill-opacity="0.5"/>
<ellipse cx="1388.3" cy="151.2" rx="10" ry="15.5" fill="#fff" fill-opacity="1"/>
<ellipse cx="1374.5" cy="159.6" rx="9" ry="3.4" fill="#fff" fill-opacity="1"/>
<ellipse cx="1384.5" cy="168" rx="5.2" ry="9" fill="#fff" fill-opacity="1"/>
<ellipse cx="1380.9" cy="188.1" rx="18.4" ry="19.4" fill="#fff" fill-opacity="1"/>
</g></g>
<path d="M1352.8,171.4 c-3,-1.6 -6.2,-0.6 -6.2,2.6 l0.9,13.8 c0.3,4.2 2.6,5.6 6.4,4.2" fill="#fff" stroke="#000" stroke-width="2.5"/>
<path d="M1448.4,171.4 c3,-1.6 6.2,-0.6 6.2,2.6 l-0.9,13.8 c-0.3,4.2 -2.6,5.6 -6.4,4.2" fill="#fff" stroke="#000" stroke-width="2.5"/>
<path d="M1391.3,131.8 L1400.6,122.4 L1409.9,131.8" fill="#fff" stroke="#000" stroke-width="2.5" stroke-linejoin="miter"/>
<path d="M1358.8,204.5 l-1.8,2.6" stroke="#000" stroke-width="2.5" fill="none"/>
<path d="M1442.4,204.5 l1.8,2.6" stroke="#000" stroke-width="2.5" fill="none"/>
<circle cx="1400.6" cy="178.9" r="48.0" fill="none" stroke="#000" stroke-width="2.5"/>
<path d="M1384.5,144.0l2.09,-1.90l1.61,0.85l0,2.09l-1.61,0.85z M1398.6,142.0l2.09,-1.90l1.61,0.85l0,2.09l-1.61,0.85z M1412.0,144.0l2.09,-1.90l1.61,0.85l0,2.09l-1.61,0.85z M1371.8,149.5l2.09,-1.90l1.61,0.85l0,2.09l-1.61,0.85z M1383.2,151.5l2.09,-1.90l1.61,0.85l0,2.09l-1.61,0.85z M1398.6,151.2l2.09,-1.90l1.61,0.85l0,2.09l-1.61,0.85z M1413.4,151.5l2.09,-1.90l1.61,0.85l0,2.09l-1.61,0.85z M1424.6,149.5l2.09,-1.90l1.61,0.85l0,2.09l-1.61,0.85z M1361.8,156.6l2.09,-1.90l1.61,0.85l0,2.09l-1.61,0.85z M1370.6,159.6l2.09,-1.90l1.61,0.85l0,2.09l-1.61,0.85z M1379.8,160.3l2.09,-1.90l1.61,0.85l0,2.09l-1.61,0.85z M1389.0,160.3l2.09,-1.90l1.61,0.85l0,2.09l-1.61,0.85z M1398.6,160.3l2.09,-1.90l1.61,0.85l0,2.09l-1.61,0.85z M1407.5,160.3l2.09,-1.90l1.61,0.85l0,2.09l-1.61,0.85z M1416.7,160.3l2.09,-1.90l1.61,0.85l0,2.09l-1.61,0.85z M1426.0,159.1l2.09,-1.90l1.61,0.85l0,2.09l-1.61,0.85z M1434.7,156.6l2.09,-1.90l1.61,0.85l0,2.09l-1.61,0.85z M1355.5,167.0l2.09,-1.90l1.61,0.85l0,2.09l-1.61,0.85z M1365.5,168.3l2.09,-1.90l1.61,0.85l0,2.09l-1.61,0.85z M1376.1,169.2l2.09,-1.90l1.61,0.85l0,2.09l-1.61,0.85z M1387.0,169.2l2.09,-1.90l1.61,0.85l0,2.09l-1.61,0.85z M1398.6,169.2l2.09,-1.90l1.61,0.85l0,2.09l-1.61,0.85z M1409.2,169.2l2.09,-1.90l1.61,0.85l0,2.09l-1.61,0.85z M1419.8,169.2l2.09,-1.90l1.61,0.85l0,2.09l-1.61,0.85z M1431.0,168.3l2.09,-1.90l1.61,0.85l0,2.09l-1.61,0.85z M1441.1,167.0l2.09,-1.90l1.61,0.85l0,2.09l-1.61,0.85z M1353.5,178.4l2.09,-1.90l1.61,0.85l0,2.09l-1.61,0.85z M1364.7,178.4l2.09,-1.90l1.61,0.85l0,2.09l-1.61,0.85z M1375.6,178.4l2.09,-1.90l1.61,0.85l0,2.09l-1.61,0.85z M1387.0,178.4l2.09,-1.90l1.61,0.85l0,2.09l-1.61,0.85z M1398.6,178.4l2.09,-1.90l1.61,0.85l0,2.09l-1.61,0.85z M1409.2,178.4l2.09,-1.90l1.61,0.85l0,2.09l-1.61,0.85z M1420.1,178.4l2.09,-1.90l1.61,0.85l0,2.09l-1.61,0.85z M1431.8,178.4l2.09,-1.90l1.61,0.85l0,2.09l-1.61,0.85z M1442.7,178.4l2.09,-1.90l1.61,0.85l0,2.09l-1.61,0.85z M1355.5,189.3l2.09,-1.90l1.61,0.85l0,2.09l-1.61,0.85z M1365.5,188.5l2.09,-1.90l1.61,0.85l0,2.09l-1.61,0.85z M1376.1,187.6l2.09,-1.90l1.61,0.85l0,2.09l-1.61,0.85z M1387.0,187.6l2.09,-1.90l1.61,0.85l0,2.09l-1.61,0.85z M1398.6,187.6l2.09,-1.90l1.61,0.85l0,2.09l-1.61,0.85z M1409.2,187.6l2.09,-1.90l1.61,0.85l0,2.09l-1.61,0.85z M1419.8,187.6l2.09,-1.90l1.61,0.85l0,2.09l-1.61,0.85z M1431.0,188.5l2.09,-1.90l1.61,0.85l0,2.09l-1.61,0.85z M1441.1,189.3l2.09,-1.90l1.61,0.85l0,2.09l-1.61,0.85z M1361.8,198.5l2.09,-1.90l1.61,0.85l0,2.09l-1.61,0.85z M1370.6,197.4l2.09,-1.90l1.61,0.85l0,2.09l-1.61,0.85z M1379.8,196.9l2.09,-1.90l1.61,0.85l0,2.09l-1.61,0.85z M1389.0,196.9l2.09,-1.90l1.61,0.85l0,2.09l-1.61,0.85z M1398.6,196.9l2.09,-1.90l1.61,0.85l0,2.09l-1.61,0.85z M1407.5,196.9l2.09,-1.90l1.61,0.85l0,2.09l-1.61,0.85z M1416.7,196.9l2.09,-1.90l1.61,0.85l0,2.09l-1.61,0.85z M1426.0,197.4l2.09,-1.90l1.61,0.85l0,2.09l-1.61,0.85z M1434.7,198.5l2.09,-1.90l1.61,0.85l0,2.09l-1.61,0.85z M1371.8,206.9l2.09,-1.90l1.61,0.85l0,2.09l-1.61,0.85z M1383.2,203.9l2.09,-1.90l1.61,0.85l0,2.09l-1.61,0.85z M1398.6,205.3l2.09,-1.90l1.61,0.85l0,2.09l-1.61,0.85z M1413.4,203.9l2.09,-1.90l1.61,0.85l0,2.09l-1.61,0.85z M1424.6,206.9l2.09,-1.90l1.61,0.85l0,2.09l-1.61,0.85z M1384.5,212.3l2.09,-1.90l1.61,0.85l0,2.09l-1.61,0.85z M1398.6,213.6l2.09,-1.90l1.61,0.85l0,2.09l-1.61,0.85z M1412.0,212.3l2.09,-1.90l1.61,0.85l0,2.09l-1.61,0.85z M1398.6,222.5l2.09,-1.90l1.61,0.85l0,2.09l-1.61,0.85z" fill="#000" stroke="#000" stroke-width="0.9" stroke-linejoin="round"/>
<rect x="1495.1" y="113.8" width="119.0" height="119.6" fill="#fff" stroke="#FA8078" stroke-width="3.6"/>
<clipPath id="c3"><circle cx="1554.6" cy="177.5" r="48.0"/></clipPath>
<g clip-path="url(#c3)"><g filter="url(#par)">
<rect x="1493.3" y="116.19999999999999" width="122.6" height="122.6" fill="#000"/>
<rect x="1493.3" y="116.19999999999999" width="122.6" height="122.6" fill="#fff" fill-opacity="0.03"/>
<ellipse cx="1554" cy="150" rx="40" ry="22" fill="url(#gw)" fill-opacity="0.25"/>
<ellipse cx="1535" cy="180" rx="30" ry="36" fill="url(#gw)" fill-opacity="0.3"/>
<ellipse cx="1529.6" cy="176" rx="11" ry="21" fill="url(#gw)" fill-opacity="0.45"/>
<ellipse cx="1561" cy="178" rx="25" ry="28" fill="url(#gw)" fill-opacity="0.4"/>
<ellipse cx="1561.4" cy="177.7" rx="14.6" ry="17.4" fill="#fff" fill-opacity="1"/>
</g></g>
<path d="M1506.8,170.0 c-3,-1.6 -6.2,-0.6 -6.2,2.6 l0.9,13.8 c0.3,4.2 2.6,5.6 6.4,4.2" fill="#fff" stroke="#000" stroke-width="2.5"/>
<path d="M1602.4,170.0 c3,-1.6 6.2,-0.6 6.2,2.6 l-0.9,13.8 c-0.3,4.2 -2.6,5.6 -6.4,4.2" fill="#fff" stroke="#000" stroke-width="2.5"/>
<path d="M1545.3,130.4 L1554.6,121.4 L1563.9,130.4" fill="#fff" stroke="#000" stroke-width="2.5" stroke-linejoin="miter"/>
<path d="M1512.8,203.1 l-1.8,2.6" stroke="#000" stroke-width="2.5" fill="none"/>
<path d="M1596.4,203.1 l1.8,2.6" stroke="#000" stroke-width="2.5" fill="none"/>
<circle cx="1554.6" cy="177.5" r="48.0" fill="none" stroke="#000" stroke-width="2.5"/>
<path d="M1538.5,142.6l2.09,-1.90l1.61,0.85l0,2.09l-1.61,0.85z M1552.6,140.6l2.09,-1.90l1.61,0.85l0,2.09l-1.61,0.85z M1566.0,142.6l2.09,-1.90l1.61,0.85l0,2.09l-1.61,0.85z M1525.8,148.1l2.09,-1.90l1.61,0.85l0,2.09l-1.61,0.85z M1537.2,150.1l2.09,-1.90l1.61,0.85l0,2.09l-1.61,0.85z M1552.6,149.8l2.09,-1.90l1.61,0.85l0,2.09l-1.61,0.85z M1567.4,150.1l2.09,-1.90l1.61,0.85l0,2.09l-1.61,0.85z M1578.6,148.1l2.09,-1.90l1.61,0.85l0,2.09l-1.61,0.85z M1515.8,155.2l2.09,-1.90l1.61,0.85l0,2.09l-1.61,0.85z M1524.6,158.2l2.09,-1.90l1.61,0.85l0,2.09l-1.61,0.85z M1533.8,158.9l2.09,-1.90l1.61,0.85l0,2.09l-1.61,0.85z M1543.0,158.9l2.09,-1.90l1.61,0.85l0,2.09l-1.61,0.85z M1552.6,158.9l2.09,-1.90l1.61,0.85l0,2.09l-1.61,0.85z M1561.5,158.9l2.09,-1.90l1.61,0.85l0,2.09l-1.61,0.85z M1570.7,158.9l2.09,-1.90l1.61,0.85l0,2.09l-1.61,0.85z M1580.0,157.7l2.09,-1.90l1.61,0.85l0,2.09l-1.61,0.85z M1588.7,155.2l2.09,-1.90l1.61,0.85l0,2.09l-1.61,0.85z M1509.5,165.6l2.09,-1.90l1.61,0.85l0,2.09l-1.61,0.85z M1519.5,166.9l2.09,-1.90l1.61,0.85l0,2.09l-1.61,0.85z M1530.1,167.8l2.09,-1.90l1.61,0.85l0,2.09l-1.61,0.85z M1541.0,167.8l2.09,-1.90l1.61,0.85l0,2.09l-1.61,0.85z M1552.6,167.8l2.09,-1.90l1.61,0.85l0,2.09l-1.61,0.85z M1563.2,167.8l2.09,-1.90l1.61,0.85l0,2.09l-1.61,0.85z M1573.8,167.8l2.09,-1.90l1.61,0.85l0,2.09l-1.61,0.85z M1585.0,166.9l2.09,-1.90l1.61,0.85l0,2.09l-1.61,0.85z M1595.1,165.6l2.09,-1.90l1.61,0.85l0,2.09l-1.61,0.85z M1507.5,177.0l2.09,-1.90l1.61,0.85l0,2.09l-1.61,0.85z M1518.7,177.0l2.09,-1.90l1.61,0.85l0,2.09l-1.61,0.85z M1529.6,177.0l2.09,-1.90l1.61,0.85l0,2.09l-1.61,0.85z M1541.0,177.0l2.09,-1.90l1.61,0.85l0,2.09l-1.61,0.85z M1552.6,177.0l2.09,-1.90l1.61,0.85l0,2.09l-1.61,0.85z M1563.2,177.0l2.09,-1.90l1.61,0.85l0,2.09l-1.61,0.85z M1574.1,177.0l2.09,-1.90l1.61,0.85l0,2.09l-1.61,0.85z M1585.8,177.0l2.09,-1.90l1.61,0.85l0,2.09l-1.61,0.85z M1596.7,177.0l2.09,-1.90l1.61,0.85l0,2.09l-1.61,0.85z M1509.5,187.9l2.09,-1.90l1.61,0.85l0,2.09l-1.61,0.85z M1519.5,187.1l2.09,-1.90l1.61,0.85l0,2.09l-1.61,0.85z M1530.1,186.2l2.09,-1.90l1.61,0.85l0,2.09l-1.61,0.85z M1541.0,186.2l2.09,-1.90l1.61,0.85l0,2.09l-1.61,0.85z M1552.6,186.2l2.09,-1.90l1.61,0.85l0,2.09l-1.61,0.85z M1563.2,186.2l2.09,-1.90l1.61,0.85l0,2.09l-1.61,0.85z M1573.8,186.2l2.09,-1.90l1.61,0.85l0,2.09l-1.61,0.85z M1585.0,187.1l2.09,-1.90l1.61,0.85l0,2.09l-1.61,0.85z M1595.1,187.9l2.09,-1.90l1.61,0.85l0,2.09l-1.61,0.85z M1515.8,197.1l2.09,-1.90l1.61,0.85l0,2.09l-1.61,0.85z M1524.6,196.0l2.09,-1.90l1.61,0.85l0,2.09l-1.61,0.85z M1533.8,195.5l2.09,-1.90l1.61,0.85l0,2.09l-1.61,0.85z M1543.0,195.5l2.09,-1.90l1.61,0.85l0,2.09l-1.61,0.85z M1552.6,195.5l2.09,-1.90l1.61,0.85l0,2.09l-1.61,0.85z M1561.5,195.5l2.09,-1.90l1.61,0.85l0,2.09l-1.61,0.85z M1570.7,195.5l2.09,-1.90l1.61,0.85l0,2.09l-1.61,0.85z M1580.0,196.0l2.09,-1.90l1.61,0.85l0,2.09l-1.61,0.85z M1588.7,197.1l2.09,-1.90l1.61,0.85l0,2.09l-1.61,0.85z M1525.8,205.5l2.09,-1.90l1.61,0.85l0,2.09l-1.61,0.85z M1537.2,202.5l2.09,-1.90l1.61,0.85l0,2.09l-1.61,0.85z M1552.6,203.9l2.09,-1.90l1.61,0.85l0,2.09l-1.61,0.85z M1567.4,202.5l2.09,-1.90l1.61,0.85l0,2.09l-1.61,0.85z M1578.6,205.5l2.09,-1.90l1.61,0.85l0,2.09l-1.61,0.85z M1538.5,210.9l2.09,-1.90l1.61,0.85l0,2.09l-1.61,0.85z M1552.6,212.2l2.09,-1.90l1.61,0.85l0,2.09l-1.61,0.85z M1566.0,210.9l2.09,-1.90l1.61,0.85l0,2.09l-1.61,0.85z M1552.6,221.1l2.09,-1.90l1.61,0.85l0,2.09l-1.61,0.85z" fill="#000" stroke="#000" stroke-width="0.9" stroke-linejoin="round"/>
<rect x="1649.9" y="114.9" width="119.2" height="118.9" fill="#fff" stroke="#5AC8CF" stroke-width="3.4"/>
<clipPath id="c4"><circle cx="1710.1" cy="179.2" r="48.0"/></clipPath>
<g clip-path="url(#c4)"><g filter="url(#par)">
<rect x="1648.8" y="117.89999999999998" width="122.6" height="122.6" fill="#000"/>
<rect x="1648.8" y="117.89999999999998" width="122.6" height="122.6" fill="#fff" fill-opacity="0.03"/>
<ellipse cx="1685" cy="175" rx="34" ry="55" fill="url(#gw)" fill-opacity="0.3"/>
<ellipse cx="1690" cy="186" rx="25" ry="26" fill="url(#gw)" fill-opacity="0.45"/>
<ellipse cx="1697.9" cy="149.5" rx="7" ry="12.5" fill="url(#gw)" fill-opacity="0.85"/>
<ellipse cx="1690.4" cy="186.1" rx="14.5" ry="13.5" fill="#fff" fill-opacity="1"/>
</g></g>
<path d="M1662.3,171.7 c-3,-1.6 -6.2,-0.6 -6.2,2.6 l0.9,13.8 c0.3,4.2 2.6,5.6 6.4,4.2" fill="#fff" stroke="#000" stroke-width="2.5"/>
<path d="M1757.9,171.7 c3,-1.6 6.2,-0.6 6.2,2.6 l-0.9,13.8 c-0.3,4.2 -2.6,5.6 -6.4,4.2" fill="#fff" stroke="#000" stroke-width="2.5"/>
<path d="M1700.8,132.1 L1710.1,123.1 L1719.4,132.1" fill="#fff" stroke="#000" stroke-width="2.5" stroke-linejoin="miter"/>
<path d="M1668.3,204.8 l-1.8,2.6" stroke="#000" stroke-width="2.5" fill="none"/>
<path d="M1751.9,204.8 l1.8,2.6" stroke="#000" stroke-width="2.5" fill="none"/>
<circle cx="1710.1" cy="179.2" r="48.0" fill="none" stroke="#000" stroke-width="2.5"/>
<path d="M1694.0,144.3l2.09,-1.90l1.61,0.85l0,2.09l-1.61,0.85z M1708.1,142.3l2.09,-1.90l1.61,0.85l0,2.09l-1.61,0.85z M1721.5,144.3l2.09,-1.90l1.61,0.85l0,2.09l-1.61,0.85z M1681.3,149.8l2.09,-1.90l1.61,0.85l0,2.09l-1.61,0.85z M1692.7,151.8l2.09,-1.90l1.61,0.85l0,2.09l-1.61,0.85z M1708.1,151.5l2.09,-1.90l1.61,0.85l0,2.09l-1.61,0.85z M1722.9,151.8l2.09,-1.90l1.61,0.85l0,2.09l-1.61,0.85z M1734.1,149.8l2.09,-1.90l1.61,0.85l0,2.09l-1.61,0.85z M1671.3,156.9l2.09,-1.90l1.61,0.85l0,2.09l-1.61,0.85z M1680.1,159.9l2.09,-1.90l1.61,0.85l0,2.09l-1.61,0.85z M1689.3,160.6l2.09,-1.90l1.61,0.85l0,2.09l-1.61,0.85z M1698.5,160.6l2.09,-1.90l1.61,0.85l0,2.09l-1.61,0.85z M1708.1,160.6l2.09,-1.90l1.61,0.85l0,2.09l-1.61,0.85z M1717.0,160.6l2.09,-1.90l1.61,0.85l0,2.09l-1.61,0.85z M1726.2,160.6l2.09,-1.90l1.61,0.85l0,2.09l-1.61,0.85z M1735.5,159.4l2.09,-1.90l1.61,0.85l0,2.09l-1.61,0.85z M1744.2,156.9l2.09,-1.90l1.61,0.85l0,2.09l-1.61,0.85z M1665.0,167.3l2.09,-1.90l1.61,0.85l0,2.09l-1.61,0.85z M1675.0,168.6l2.09,-1.90l1.61,0.85l0,2.09l-1.61,0.85z M1685.6,169.5l2.09,-1.90l1.61,0.85l0,2.09l-1.61,0.85z M1696.5,169.5l2.09,-1.90l1.61,0.85l0,2.09l-1.61,0.85z M1708.1,169.5l2.09,-1.90l1.61,0.85l0,2.09l-1.61,0.85z M1718.7,169.5l2.09,-1.90l1.61,0.85l0,2.09l-1.61,0.85z M1729.3,169.5l2.09,-1.90l1.61,0.85l0,2.09l-1.61,0.85z M1740.5,168.6l2.09,-1.90l1.61,0.85l0,2.09l-1.61,0.85z M1750.6,167.3l2.09,-1.90l1.61,0.85l0,2.09l-1.61,0.85z M1663.0,178.7l2.09,-1.90l1.61,0.85l0,2.09l-1.61,0.85z M1674.2,178.7l2.09,-1.90l1.61,0.85l0,2.09l-1.61,0.85z M1685.1,178.7l2.09,-1.90l1.61,0.85l0,2.09l-1.61,0.85z M1696.5,178.7l2.09,-1.90l1.61,0.85l0,2.09l-1.61,0.85z M1708.1,178.7l2.09,-1.90l1.61,0.85l0,2.09l-1.61,0.85z M1718.7,178.7l2.09,-1.90l1.61,0.85l0,2.09l-1.61,0.85z M1729.6,178.7l2.09,-1.90l1.61,0.85l0,2.09l-1.61,0.85z M1741.3,178.7l2.09,-1.90l1.61,0.85l0,2.09l-1.61,0.85z M1752.2,178.7l2.09,-1.90l1.61,0.85l0,2.09l-1.61,0.85z M1665.0,189.6l2.09,-1.90l1.61,0.85l0,2.09l-1.61,0.85z M1675.0,188.8l2.09,-1.90l1.61,0.85l0,2.09l-1.61,0.85z M1685.6,187.9l2.09,-1.90l1.61,0.85l0,2.09l-1.61,0.85z M1696.5,187.9l2.09,-1.90l1.61,0.85l0,2.09l-1.61,0.85z M1708.1,187.9l2.09,-1.90l1.61,0.85l0,2.09l-1.61,0.85z M1718.7,187.9l2.09,-1.90l1.61,0.85l0,2.09l-1.61,0.85z M1729.3,187.9l2.09,-1.90l1.61,0.85l0,2.09l-1.61,0.85z M1740.5,188.8l2.09,-1.90l1.61,0.85l0,2.09l-1.61,0.85z M1750.6,189.6l2.09,-1.90l1.61,0.85l0,2.09l-1.61,0.85z M1671.3,198.8l2.09,-1.90l1.61,0.85l0,2.09l-1.61,0.85z M1680.1,197.7l2.09,-1.90l1.61,0.85l0,2.09l-1.61,0.85z M1689.3,197.2l2.09,-1.90l1.61,0.85l0,2.09l-1.61,0.85z M1698.5,197.2l2.09,-1.90l1.61,0.85l0,2.09l-1.61,0.85z M1708.1,197.2l2.09,-1.90l1.61,0.85l0,2.09l-1.61,0.85z M1717.0,197.2l2.09,-1.90l1.61,0.85l0,2.09l-1.61,0.85z M1726.2,197.2l2.09,-1.90l1.61,0.85l0,2.09l-1.61,0.85z M1735.5,197.7l2.09,-1.90l1.61,0.85l0,2.09l-1.61,0.85z M1744.2,198.8l2.09,-1.90l1.61,0.85l0,2.09l-1.61,0.85z M1681.3,207.2l2.09,-1.90l1.61,0.85l0,2.09l-1.61,0.85z M1692.7,204.2l2.09,-1.90l1.61,0.85l0,2.09l-1.61,0.85z M1708.1,205.6l2.09,-1.90l1.61,0.85l0,2.09l-1.61,0.85z M1722.9,204.2l2.09,-1.90l1.61,0.85l0,2.09l-1.61,0.85z M1734.1,207.2l2.09,-1.90l1.61,0.85l0,2.09l-1.61,0.85z M1694.0,212.6l2.09,-1.90l1.61,0.85l0,2.09l-1.61,0.85z M1708.1,213.9l2.09,-1.90l1.61,0.85l0,2.09l-1.61,0.85z M1721.5,212.6l2.09,-1.90l1.61,0.85l0,2.09l-1.61,0.85z M1708.1,222.8l2.09,-1.90l1.61,0.85l0,2.09l-1.61,0.85z" fill="#000" stroke="#000" stroke-width="0.9" stroke-linejoin="round"/>
<rect x="1185.6" y="299.7" width="119.4" height="118.1" fill="#fff" stroke="#FA8078" stroke-width="3.2"/>
<clipPath id="c5"><circle cx="1244.1" cy="363.2" r="48.8"/></clipPath>
<g clip-path="url(#c5)"><g filter="url(#par)">
<rect x="1182.1" y="301.2" width="124" height="124" fill="#000"/>
<rect x="1182.1" y="301.2" width="124" height="124" fill="#fff" fill-opacity="0.03"/>
<ellipse cx="1243.7" cy="352" rx="38" ry="42" fill="url(#gw)" fill-opacity="0.28"/>
<ellipse cx="1266.5" cy="364.5" rx="22" ry="22" fill="url(#gw)" fill-opacity="1"/>
<ellipse cx="1266.5" cy="364.5" rx="3" ry="4.5" fill="#fff" fill-opacity="0.8"/>
</g></g>
<path d="M1195.6,355.7 c-3,-1.6 -6.2,-0.6 -6.2,2.6 l0.9,13.8 c0.3,4.2 2.6,5.6 6.4,4.2" fill="#fff" stroke="#000" stroke-width="2.5"/>
<path d="M1292.6,355.7 c3,-1.6 6.2,-0.6 6.2,2.6 l-0.9,13.8 c-0.3,4.2 -2.6,5.6 -6.4,4.2" fill="#fff" stroke="#000" stroke-width="2.5"/>
<path d="M1234.8,315.4 L1244.1,305.4 L1253.4,315.4" fill="#fff" stroke="#000" stroke-width="2.5" stroke-linejoin="miter"/>
<path d="M1201.7,389.2 l-1.8,2.6" stroke="#000" stroke-width="2.5" fill="none"/>
<path d="M1286.5,389.2 l1.8,2.6" stroke="#000" stroke-width="2.5" fill="none"/>
<circle cx="1244.1" cy="363.2" r="48.8" fill="none" stroke="#000" stroke-width="2.5"/>
<path d="M1227.8,327.8l2.09,-1.90l1.61,0.85l0,2.09l-1.61,0.85z M1242.1,325.8l2.09,-1.90l1.61,0.85l0,2.09l-1.61,0.85z M1255.7,327.8l2.09,-1.90l1.61,0.85l0,2.09l-1.61,0.85z M1214.9,333.4l2.09,-1.90l1.61,0.85l0,2.09l-1.61,0.85z M1226.4,335.5l2.09,-1.90l1.61,0.85l0,2.09l-1.61,0.85z M1242.1,335.1l2.09,-1.90l1.61,0.85l0,2.09l-1.61,0.85z M1257.1,335.5l2.09,-1.90l1.61,0.85l0,2.09l-1.61,0.85z M1268.5,333.4l2.09,-1.90l1.61,0.85l0,2.09l-1.61,0.85z M1204.8,340.6l2.09,-1.90l1.61,0.85l0,2.09l-1.61,0.85z M1213.7,343.6l2.09,-1.90l1.61,0.85l0,2.09l-1.61,0.85z M1223.0,344.3l2.09,-1.90l1.61,0.85l0,2.09l-1.61,0.85z M1232.4,344.3l2.09,-1.90l1.61,0.85l0,2.09l-1.61,0.85z M1242.1,344.3l2.09,-1.90l1.61,0.85l0,2.09l-1.61,0.85z M1251.1,344.3l2.09,-1.90l1.61,0.85l0,2.09l-1.61,0.85z M1260.5,344.3l2.09,-1.90l1.61,0.85l0,2.09l-1.61,0.85z M1269.9,343.1l2.09,-1.90l1.61,0.85l0,2.09l-1.61,0.85z M1278.7,340.6l2.09,-1.90l1.61,0.85l0,2.09l-1.61,0.85z M1198.4,351.1l2.09,-1.90l1.61,0.85l0,2.09l-1.61,0.85z M1208.6,352.5l2.09,-1.90l1.61,0.85l0,2.09l-1.61,0.85z M1219.3,353.3l2.09,-1.90l1.61,0.85l0,2.09l-1.61,0.85z M1230.4,353.3l2.09,-1.90l1.61,0.85l0,2.09l-1.61,0.85z M1242.1,353.3l2.09,-1.90l1.61,0.85l0,2.09l-1.61,0.85z M1252.8,353.3l2.09,-1.90l1.61,0.85l0,2.09l-1.61,0.85z M1263.6,353.3l2.09,-1.90l1.61,0.85l0,2.09l-1.61,0.85z M1275.0,352.5l2.09,-1.90l1.61,0.85l0,2.09l-1.61,0.85z M1285.2,351.1l2.09,-1.90l1.61,0.85l0,2.09l-1.61,0.85z M1196.3,362.7l2.09,-1.90l1.61,0.85l0,2.09l-1.61,0.85z M1207.7,362.7l2.09,-1.90l1.61,0.85l0,2.09l-1.61,0.85z M1218.8,362.7l2.09,-1.90l1.61,0.85l0,2.09l-1.61,0.85z M1230.4,362.7l2.09,-1.90l1.61,0.85l0,2.09l-1.61,0.85z M1242.1,362.7l2.09,-1.90l1.61,0.85l0,2.09l-1.61,0.85z M1252.8,362.7l2.09,-1.90l1.61,0.85l0,2.09l-1.61,0.85z M1263.9,362.7l2.09,-1.90l1.61,0.85l0,2.09l-1.61,0.85z M1275.8,362.7l2.09,-1.90l1.61,0.85l0,2.09l-1.61,0.85z M1286.9,362.7l2.09,-1.90l1.61,0.85l0,2.09l-1.61,0.85z M1198.4,373.8l2.09,-1.90l1.61,0.85l0,2.09l-1.61,0.85z M1208.6,372.9l2.09,-1.90l1.61,0.85l0,2.09l-1.61,0.85z M1219.3,372.1l2.09,-1.90l1.61,0.85l0,2.09l-1.61,0.85z M1230.4,372.1l2.09,-1.90l1.61,0.85l0,2.09l-1.61,0.85z M1242.1,372.1l2.09,-1.90l1.61,0.85l0,2.09l-1.61,0.85z M1252.8,372.1l2.09,-1.90l1.61,0.85l0,2.09l-1.61,0.85z M1263.6,372.1l2.09,-1.90l1.61,0.85l0,2.09l-1.61,0.85z M1275.0,372.9l2.09,-1.90l1.61,0.85l0,2.09l-1.61,0.85z M1285.2,373.8l2.09,-1.90l1.61,0.85l0,2.09l-1.61,0.85z M1204.8,383.1l2.09,-1.90l1.61,0.85l0,2.09l-1.61,0.85z M1213.7,381.9l2.09,-1.90l1.61,0.85l0,2.09l-1.61,0.85z M1223.0,381.4l2.09,-1.90l1.61,0.85l0,2.09l-1.61,0.85z M1232.4,381.4l2.09,-1.90l1.61,0.85l0,2.09l-1.61,0.85z M1242.1,381.4l2.09,-1.90l1.61,0.85l0,2.09l-1.61,0.85z M1251.1,381.4l2.09,-1.90l1.61,0.85l0,2.09l-1.61,0.85z M1260.5,381.4l2.09,-1.90l1.61,0.85l0,2.09l-1.61,0.85z M1269.9,381.9l2.09,-1.90l1.61,0.85l0,2.09l-1.61,0.85z M1278.7,383.1l2.09,-1.90l1.61,0.85l0,2.09l-1.61,0.85z M1214.9,391.6l2.09,-1.90l1.61,0.85l0,2.09l-1.61,0.85z M1226.4,388.6l2.09,-1.90l1.61,0.85l0,2.09l-1.61,0.85z M1242.1,389.9l2.09,-1.90l1.61,0.85l0,2.09l-1.61,0.85z M1257.1,388.6l2.09,-1.90l1.61,0.85l0,2.09l-1.61,0.85z M1268.5,391.6l2.09,-1.90l1.61,0.85l0,2.09l-1.61,0.85z M1227.8,397.1l2.09,-1.90l1.61,0.85l0,2.09l-1.61,0.85z M1242.1,398.4l2.09,-1.90l1.61,0.85l0,2.09l-1.61,0.85z M1255.7,397.1l2.09,-1.90l1.61,0.85l0,2.09l-1.61,0.85z M1242.1,407.5l2.09,-1.90l1.61,0.85l0,2.09l-1.61,0.85z" fill="#000" stroke="#000" stroke-width="0.9" stroke-linejoin="round"/>
<rect x="1340.1" y="299.8" width="119.3" height="119.3" fill="#fff" stroke="#5AC8CF" stroke-width="3.4"/>
<clipPath id="c6"><circle cx="1400.5" cy="365.1" r="48.2"/></clipPath>
<g clip-path="url(#c6)"><g filter="url(#par)">
<rect x="1339.0" y="303.6" width="123.0" height="123.0" fill="#000"/>
<rect x="1339.0" y="303.6" width="123.0" height="123.0" fill="#fff" fill-opacity="0.03"/>
<ellipse cx="1398" cy="360" rx="30" ry="50" fill="url(#gw)" fill-opacity="0.28"/>
<ellipse cx="1379.9" cy="367" rx="22.5" ry="22.5" fill="url(#gw)" fill-opacity="1"/>
<ellipse cx="1379.9" cy="367" rx="3.5" ry="4.5" fill="#fff" fill-opacity="0.8"/>
</g></g>
<path d="M1352.5,357.6 c-3,-1.6 -6.2,-0.6 -6.2,2.6 l0.9,13.8 c0.3,4.2 2.6,5.6 6.4,4.2" fill="#fff" stroke="#000" stroke-width="2.5"/>
<path d="M1448.5,357.6 c3,-1.6 6.2,-0.6 6.2,2.6 l-0.9,13.8 c-0.3,4.2 -2.6,5.6 -6.4,4.2" fill="#fff" stroke="#000" stroke-width="2.5"/>
<path d="M1391.2,317.8 L1400.5,307.4 L1409.8,317.8" fill="#fff" stroke="#000" stroke-width="2.5" stroke-linejoin="miter"/>
<path d="M1358.6,390.8 l-1.8,2.6" stroke="#000" stroke-width="2.5" fill="none"/>
<path d="M1442.4,390.8 l1.8,2.6" stroke="#000" stroke-width="2.5" fill="none"/>
<circle cx="1400.5" cy="365.1" r="48.2" fill="none" stroke="#000" stroke-width="2.5"/>
<path d="M1384.3,330.0l2.09,-1.90l1.61,0.85l0,2.09l-1.61,0.85z M1398.5,328.0l2.09,-1.90l1.61,0.85l0,2.09l-1.61,0.85z M1412.0,330.0l2.09,-1.90l1.61,0.85l0,2.09l-1.61,0.85z M1371.5,335.6l2.09,-1.90l1.61,0.85l0,2.09l-1.61,0.85z M1383.0,337.6l2.09,-1.90l1.61,0.85l0,2.09l-1.61,0.85z M1398.5,337.3l2.09,-1.90l1.61,0.85l0,2.09l-1.61,0.85z M1413.3,337.6l2.09,-1.90l1.61,0.85l0,2.09l-1.61,0.85z M1424.6,335.6l2.09,-1.90l1.61,0.85l0,2.09l-1.61,0.85z M1361.6,342.7l2.09,-1.90l1.61,0.85l0,2.09l-1.61,0.85z M1370.4,345.7l2.09,-1.90l1.61,0.85l0,2.09l-1.61,0.85z M1379.6,346.4l2.09,-1.90l1.61,0.85l0,2.09l-1.61,0.85z M1388.9,346.4l2.09,-1.90l1.61,0.85l0,2.09l-1.61,0.85z M1398.5,346.4l2.09,-1.90l1.61,0.85l0,2.09l-1.61,0.85z M1407.4,346.4l2.09,-1.90l1.61,0.85l0,2.09l-1.61,0.85z M1416.7,346.4l2.09,-1.90l1.61,0.85l0,2.09l-1.61,0.85z M1426.0,345.2l2.09,-1.90l1.61,0.85l0,2.09l-1.61,0.85z M1434.7,342.7l2.09,-1.90l1.61,0.85l0,2.09l-1.61,0.85z M1355.2,353.1l2.09,-1.90l1.61,0.85l0,2.09l-1.61,0.85z M1365.3,354.5l2.09,-1.90l1.61,0.85l0,2.09l-1.61,0.85z M1375.9,355.3l2.09,-1.90l1.61,0.85l0,2.09l-1.61,0.85z M1386.9,355.3l2.09,-1.90l1.61,0.85l0,2.09l-1.61,0.85z M1398.5,355.3l2.09,-1.90l1.61,0.85l0,2.09l-1.61,0.85z M1409.1,355.3l2.09,-1.90l1.61,0.85l0,2.09l-1.61,0.85z M1419.7,355.3l2.09,-1.90l1.61,0.85l0,2.09l-1.61,0.85z M1431.0,354.5l2.09,-1.90l1.61,0.85l0,2.09l-1.61,0.85z M1441.1,353.1l2.09,-1.90l1.61,0.85l0,2.09l-1.61,0.85z M1353.2,364.6l2.09,-1.90l1.61,0.85l0,2.09l-1.61,0.85z M1364.5,364.6l2.09,-1.90l1.61,0.85l0,2.09l-1.61,0.85z M1375.4,364.6l2.09,-1.90l1.61,0.85l0,2.09l-1.61,0.85z M1386.9,364.6l2.09,-1.90l1.61,0.85l0,2.09l-1.61,0.85z M1398.5,364.6l2.09,-1.90l1.61,0.85l0,2.09l-1.61,0.85z M1409.1,364.6l2.09,-1.90l1.61,0.85l0,2.09l-1.61,0.85z M1420.1,364.6l2.09,-1.90l1.61,0.85l0,2.09l-1.61,0.85z M1431.9,364.6l2.09,-1.90l1.61,0.85l0,2.09l-1.61,0.85z M1442.8,364.6l2.09,-1.90l1.61,0.85l0,2.09l-1.61,0.85z M1355.2,375.5l2.09,-1.90l1.61,0.85l0,2.09l-1.61,0.85z M1365.3,374.7l2.09,-1.90l1.61,0.85l0,2.09l-1.61,0.85z M1375.9,373.9l2.09,-1.90l1.61,0.85l0,2.09l-1.61,0.85z M1386.9,373.9l2.09,-1.90l1.61,0.85l0,2.09l-1.61,0.85z M1398.5,373.9l2.09,-1.90l1.61,0.85l0,2.09l-1.61,0.85z M1409.1,373.9l2.09,-1.90l1.61,0.85l0,2.09l-1.61,0.85z M1419.7,373.9l2.09,-1.90l1.61,0.85l0,2.09l-1.61,0.85z M1431.0,374.7l2.09,-1.90l1.61,0.85l0,2.09l-1.61,0.85z M1441.1,375.5l2.09,-1.90l1.61,0.85l0,2.09l-1.61,0.85z M1361.6,384.8l2.09,-1.90l1.61,0.85l0,2.09l-1.61,0.85z M1370.4,383.6l2.09,-1.90l1.61,0.85l0,2.09l-1.61,0.85z M1379.6,383.1l2.09,-1.90l1.61,0.85l0,2.09l-1.61,0.85z M1388.9,383.1l2.09,-1.90l1.61,0.85l0,2.09l-1.61,0.85z M1398.5,383.1l2.09,-1.90l1.61,0.85l0,2.09l-1.61,0.85z M1407.4,383.1l2.09,-1.90l1.61,0.85l0,2.09l-1.61,0.85z M1416.7,383.1l2.09,-1.90l1.61,0.85l0,2.09l-1.61,0.85z M1426.0,383.6l2.09,-1.90l1.61,0.85l0,2.09l-1.61,0.85z M1434.7,384.8l2.09,-1.90l1.61,0.85l0,2.09l-1.61,0.85z M1371.5,393.2l2.09,-1.90l1.61,0.85l0,2.09l-1.61,0.85z M1383.0,390.2l2.09,-1.90l1.61,0.85l0,2.09l-1.61,0.85z M1398.5,391.6l2.09,-1.90l1.61,0.85l0,2.09l-1.61,0.85z M1413.3,390.2l2.09,-1.90l1.61,0.85l0,2.09l-1.61,0.85z M1424.6,393.2l2.09,-1.90l1.61,0.85l0,2.09l-1.61,0.85z M1384.3,398.6l2.09,-1.90l1.61,0.85l0,2.09l-1.61,0.85z M1398.5,400.0l2.09,-1.90l1.61,0.85l0,2.09l-1.61,0.85z M1412.0,398.6l2.09,-1.90l1.61,0.85l0,2.09l-1.61,0.85z M1398.5,408.9l2.09,-1.90l1.61,0.85l0,2.09l-1.61,0.85z" fill="#000" stroke="#000" stroke-width="0.9" stroke-linejoin="round"/>
<rect x="1494.5" y="299.3" width="119.9" height="120.2" fill="#fff" stroke="#FA8078" stroke-width="4.6"/>
<clipPath id="c7"><circle cx="1555.6" cy="365.4" r="49.7"/></clipPath>
<g clip-path="url(#c7)"><g filter="url(#par)">
<rect x="1492.3999999999999" y="302.2" width="126.4" height="126.4" fill="#000"/>
<rect x="1492.3999999999999" y="302.2" width="126.4" height="126.4" fill="#fff" fill-opacity="0.03"/>
<ellipse cx="1553" cy="355" rx="38" ry="40" fill="url(#gw)" fill-opacity="0.28"/>
<ellipse cx="1577.3" cy="368.7" rx="22" ry="22" fill="url(#gw)" fill-opacity="1"/>
<ellipse cx="1577.3" cy="368.7" rx="3" ry="5" fill="#fff" fill-opacity="0.8"/>
</g></g>
<path d="M1505.9,357.9 c-3,-1.6 -6.2,-0.6 -6.2,2.6 l0.9,13.8 c0.3,4.2 2.6,5.6 6.4,4.2" fill="#fff" stroke="#000" stroke-width="3.0"/>
<path d="M1605.3,357.9 c3,-1.6 6.2,-0.6 6.2,2.6 l-0.9,13.8 c-0.3,4.2 -2.6,5.6 -6.4,4.2" fill="#fff" stroke="#000" stroke-width="3.0"/>
<path d="M1546.3,316.4 L1555.6,307.2 L1564.9,316.4" fill="#fff" stroke="#000" stroke-width="3.0" stroke-linejoin="miter"/>
<path d="M1512.2,392.1 l-1.8,2.6" stroke="#000" stroke-width="3.0" fill="none"/>
<path d="M1599.0,392.1 l1.8,2.6" stroke="#000" stroke-width="3.0" fill="none"/>
<circle cx="1555.6" cy="365.4" r="49.7" fill="none" stroke="#000" stroke-width="3.0"/>
<path d="M1538.5,329.1l2.53,-2.30l1.95,1.03l0,2.53l-1.95,1.03z M1553.2,327.1l2.53,-2.30l1.95,1.03l0,2.53l-1.95,1.03z M1567.1,329.1l2.53,-2.30l1.95,1.03l0,2.53l-1.95,1.03z M1525.3,334.9l2.53,-2.30l1.95,1.03l0,2.53l-1.95,1.03z M1537.1,337.0l2.53,-2.30l1.95,1.03l0,2.53l-1.95,1.03z M1553.2,336.6l2.53,-2.30l1.95,1.03l0,2.53l-1.95,1.03z M1568.5,337.0l2.53,-2.30l1.95,1.03l0,2.53l-1.95,1.03z M1580.2,334.9l2.53,-2.30l1.95,1.03l0,2.53l-1.95,1.03z M1515.0,342.2l2.53,-2.30l1.95,1.03l0,2.53l-1.95,1.03z M1524.1,345.4l2.53,-2.30l1.95,1.03l0,2.53l-1.95,1.03z M1533.7,346.1l2.53,-2.30l1.95,1.03l0,2.53l-1.95,1.03z M1543.2,346.1l2.53,-2.30l1.95,1.03l0,2.53l-1.95,1.03z M1553.2,346.1l2.53,-2.30l1.95,1.03l0,2.53l-1.95,1.03z M1562.4,346.1l2.53,-2.30l1.95,1.03l0,2.53l-1.95,1.03z M1572.0,346.1l2.53,-2.30l1.95,1.03l0,2.53l-1.95,1.03z M1581.6,344.8l2.53,-2.30l1.95,1.03l0,2.53l-1.95,1.03z M1590.7,342.2l2.53,-2.30l1.95,1.03l0,2.53l-1.95,1.03z M1508.4,353.0l2.53,-2.30l1.95,1.03l0,2.53l-1.95,1.03z M1518.8,354.4l2.53,-2.30l1.95,1.03l0,2.53l-1.95,1.03z M1529.8,355.3l2.53,-2.30l1.95,1.03l0,2.53l-1.95,1.03z M1541.2,355.3l2.53,-2.30l1.95,1.03l0,2.53l-1.95,1.03z M1553.2,355.3l2.53,-2.30l1.95,1.03l0,2.53l-1.95,1.03z M1564.2,355.3l2.53,-2.30l1.95,1.03l0,2.53l-1.95,1.03z M1575.1,355.3l2.53,-2.30l1.95,1.03l0,2.53l-1.95,1.03z M1586.8,354.4l2.53,-2.30l1.95,1.03l0,2.53l-1.95,1.03z M1597.3,353.0l2.53,-2.30l1.95,1.03l0,2.53l-1.95,1.03z M1506.3,364.9l2.53,-2.30l1.95,1.03l0,2.53l-1.95,1.03z M1518.0,364.9l2.53,-2.30l1.95,1.03l0,2.53l-1.95,1.03z M1529.3,364.9l2.53,-2.30l1.95,1.03l0,2.53l-1.95,1.03z M1541.2,364.9l2.53,-2.30l1.95,1.03l0,2.53l-1.95,1.03z M1553.2,364.9l2.53,-2.30l1.95,1.03l0,2.53l-1.95,1.03z M1564.2,364.9l2.53,-2.30l1.95,1.03l0,2.53l-1.95,1.03z M1575.5,364.9l2.53,-2.30l1.95,1.03l0,2.53l-1.95,1.03z M1587.7,364.9l2.53,-2.30l1.95,1.03l0,2.53l-1.95,1.03z M1599.0,364.9l2.53,-2.30l1.95,1.03l0,2.53l-1.95,1.03z M1508.4,376.2l2.53,-2.30l1.95,1.03l0,2.53l-1.95,1.03z M1518.8,375.3l2.53,-2.30l1.95,1.03l0,2.53l-1.95,1.03z M1529.8,374.5l2.53,-2.30l1.95,1.03l0,2.53l-1.95,1.03z M1541.2,374.5l2.53,-2.30l1.95,1.03l0,2.53l-1.95,1.03z M1553.2,374.5l2.53,-2.30l1.95,1.03l0,2.53l-1.95,1.03z M1564.2,374.5l2.53,-2.30l1.95,1.03l0,2.53l-1.95,1.03z M1575.1,374.5l2.53,-2.30l1.95,1.03l0,2.53l-1.95,1.03z M1586.8,375.3l2.53,-2.30l1.95,1.03l0,2.53l-1.95,1.03z M1597.3,376.2l2.53,-2.30l1.95,1.03l0,2.53l-1.95,1.03z M1515.0,385.8l2.53,-2.30l1.95,1.03l0,2.53l-1.95,1.03z M1524.1,384.6l2.53,-2.30l1.95,1.03l0,2.53l-1.95,1.03z M1533.7,384.1l2.53,-2.30l1.95,1.03l0,2.53l-1.95,1.03z M1543.2,384.1l2.53,-2.30l1.95,1.03l0,2.53l-1.95,1.03z M1553.2,384.1l2.53,-2.30l1.95,1.03l0,2.53l-1.95,1.03z M1562.4,384.1l2.53,-2.30l1.95,1.03l0,2.53l-1.95,1.03z M1572.0,384.1l2.53,-2.30l1.95,1.03l0,2.53l-1.95,1.03z M1581.6,384.6l2.53,-2.30l1.95,1.03l0,2.53l-1.95,1.03z M1590.7,385.8l2.53,-2.30l1.95,1.03l0,2.53l-1.95,1.03z M1525.3,394.5l2.53,-2.30l1.95,1.03l0,2.53l-1.95,1.03z M1537.1,391.4l2.53,-2.30l1.95,1.03l0,2.53l-1.95,1.03z M1553.2,392.8l2.53,-2.30l1.95,1.03l0,2.53l-1.95,1.03z M1568.5,391.4l2.53,-2.30l1.95,1.03l0,2.53l-1.95,1.03z M1580.2,394.5l2.53,-2.30l1.95,1.03l0,2.53l-1.95,1.03z M1538.5,400.1l2.53,-2.30l1.95,1.03l0,2.53l-1.95,1.03z M1553.2,401.5l2.53,-2.30l1.95,1.03l0,2.53l-1.95,1.03z M1567.1,400.1l2.53,-2.30l1.95,1.03l0,2.53l-1.95,1.03z M1553.2,410.7l2.53,-2.30l1.95,1.03l0,2.53l-1.95,1.03z" fill="#000" stroke="#000" stroke-width="0.9" stroke-linejoin="round"/>
<rect x="1648.6" y="300.1" width="119.2" height="118.9" fill="#fff" stroke="#5AC8CF" stroke-width="3.4"/>
<clipPath id="c8"><circle cx="1708.4" cy="363.1" r="48.8"/></clipPath>
<g clip-path="url(#c8)"><g filter="url(#par)">
<rect x="1646.4" y="301.1" width="124" height="124" fill="#000"/>
<rect x="1646.4" y="301.1" width="124" height="124" fill="#fff" fill-opacity="0.03"/>
<ellipse cx="1702" cy="355" rx="30" ry="48" fill="url(#gw)" fill-opacity="0.28"/>
<ellipse cx="1687.9" cy="364.5" rx="22.5" ry="22.5" fill="url(#gw)" fill-opacity="1"/>
<ellipse cx="1687.9" cy="364.5" rx="3.5" ry="4.5" fill="#fff" fill-opacity="0.8"/>
</g></g>
<path d="M1659.9,355.6 c-3,-1.6 -6.2,-0.6 -6.2,2.6 l0.9,13.8 c0.3,4.2 2.6,5.6 6.4,4.2" fill="#fff" stroke="#000" stroke-width="2.5"/>
<path d="M1756.9,355.6 c3,-1.6 6.2,-0.6 6.2,2.6 l-0.9,13.8 c-0.3,4.2 -2.6,5.6 -6.4,4.2" fill="#fff" stroke="#000" stroke-width="2.5"/>
<path d="M1699.1,315.3 L1708.4,305.2 L1717.7,315.3" fill="#fff" stroke="#000" stroke-width="2.5" stroke-linejoin="miter"/>
<path d="M1666.0,389.1 l-1.8,2.6" stroke="#000" stroke-width="2.5" fill="none"/>
<path d="M1750.8,389.1 l1.8,2.6" stroke="#000" stroke-width="2.5" fill="none"/>
<circle cx="1708.4" cy="363.1" r="48.8" fill="none" stroke="#000" stroke-width="2.5"/>
<path d="M1692.1,327.7l2.09,-1.90l1.61,0.85l0,2.09l-1.61,0.85z M1706.4,325.7l2.09,-1.90l1.61,0.85l0,2.09l-1.61,0.85z M1720.0,327.7l2.09,-1.90l1.61,0.85l0,2.09l-1.61,0.85z M1679.2,333.3l2.09,-1.90l1.61,0.85l0,2.09l-1.61,0.85z M1690.7,335.4l2.09,-1.90l1.61,0.85l0,2.09l-1.61,0.85z M1706.4,335.0l2.09,-1.90l1.61,0.85l0,2.09l-1.61,0.85z M1721.4,335.4l2.09,-1.90l1.61,0.85l0,2.09l-1.61,0.85z M1732.8,333.3l2.09,-1.90l1.61,0.85l0,2.09l-1.61,0.85z M1669.1,340.5l2.09,-1.90l1.61,0.85l0,2.09l-1.61,0.85z M1678.0,343.5l2.09,-1.90l1.61,0.85l0,2.09l-1.61,0.85z M1687.3,344.2l2.09,-1.90l1.61,0.85l0,2.09l-1.61,0.85z M1696.7,344.2l2.09,-1.90l1.61,0.85l0,2.09l-1.61,0.85z M1706.4,344.2l2.09,-1.90l1.61,0.85l0,2.09l-1.61,0.85z M1715.4,344.2l2.09,-1.90l1.61,0.85l0,2.09l-1.61,0.85z M1724.8,344.2l2.09,-1.90l1.61,0.85l0,2.09l-1.61,0.85z M1734.2,343.0l2.09,-1.90l1.61,0.85l0,2.09l-1.61,0.85z M1743.0,340.5l2.09,-1.90l1.61,0.85l0,2.09l-1.61,0.85z M1662.7,351.0l2.09,-1.90l1.61,0.85l0,2.09l-1.61,0.85z M1672.9,352.4l2.09,-1.90l1.61,0.85l0,2.09l-1.61,0.85z M1683.6,353.2l2.09,-1.90l1.61,0.85l0,2.09l-1.61,0.85z M1694.7,353.2l2.09,-1.90l1.61,0.85l0,2.09l-1.61,0.85z M1706.4,353.2l2.09,-1.90l1.61,0.85l0,2.09l-1.61,0.85z M1717.1,353.2l2.09,-1.90l1.61,0.85l0,2.09l-1.61,0.85z M1727.9,353.2l2.09,-1.90l1.61,0.85l0,2.09l-1.61,0.85z M1739.3,352.4l2.09,-1.90l1.61,0.85l0,2.09l-1.61,0.85z M1749.5,351.0l2.09,-1.90l1.61,0.85l0,2.09l-1.61,0.85z M1660.6,362.6l2.09,-1.90l1.61,0.85l0,2.09l-1.61,0.85z M1672.0,362.6l2.09,-1.90l1.61,0.85l0,2.09l-1.61,0.85z M1683.1,362.6l2.09,-1.90l1.61,0.85l0,2.09l-1.61,0.85z M1694.7,362.6l2.09,-1.90l1.61,0.85l0,2.09l-1.61,0.85z M1706.4,362.6l2.09,-1.90l1.61,0.85l0,2.09l-1.61,0.85z M1717.1,362.6l2.09,-1.90l1.61,0.85l0,2.09l-1.61,0.85z M1728.2,362.6l2.09,-1.90l1.61,0.85l0,2.09l-1.61,0.85z M1740.1,362.6l2.09,-1.90l1.61,0.85l0,2.09l-1.61,0.85z M1751.2,362.6l2.09,-1.90l1.61,0.85l0,2.09l-1.61,0.85z M1662.7,373.7l2.09,-1.90l1.61,0.85l0,2.09l-1.61,0.85z M1672.9,372.8l2.09,-1.90l1.61,0.85l0,2.09l-1.61,0.85z M1683.6,372.0l2.09,-1.90l1.61,0.85l0,2.09l-1.61,0.85z M1694.7,372.0l2.09,-1.90l1.61,0.85l0,2.09l-1.61,0.85z M1706.4,372.0l2.09,-1.90l1.61,0.85l0,2.09l-1.61,0.85z M1717.1,372.0l2.09,-1.90l1.61,0.85l0,2.09l-1.61,0.85z M1727.9,372.0l2.09,-1.90l1.61,0.85l0,2.09l-1.61,0.85z M1739.3,372.8l2.09,-1.90l1.61,0.85l0,2.09l-1.61,0.85z M1749.5,373.7l2.09,-1.90l1.61,0.85l0,2.09l-1.61,0.85z M1669.1,383.0l2.09,-1.90l1.61,0.85l0,2.09l-1.61,0.85z M1678.0,381.8l2.09,-1.90l1.61,0.85l0,2.09l-1.61,0.85z M1687.3,381.3l2.09,-1.90l1.61,0.85l0,2.09l-1.61,0.85z M1696.7,381.3l2.09,-1.90l1.61,0.85l0,2.09l-1.61,0.85z M1706.4,381.3l2.09,-1.90l1.61,0.85l0,2.09l-1.61,0.85z M1715.4,381.3l2.09,-1.90l1.61,0.85l0,2.09l-1.61,0.85z M1724.8,381.3l2.09,-1.90l1.61,0.85l0,2.09l-1.61,0.85z M1734.2,381.8l2.09,-1.90l1.61,0.85l0,2.09l-1.61,0.85z M1743.0,383.0l2.09,-1.90l1.61,0.85l0,2.09l-1.61,0.85z M1679.2,391.5l2.09,-1.90l1.61,0.85l0,2.09l-1.61,0.85z M1690.7,388.5l2.09,-1.90l1.61,0.85l0,2.09l-1.61,0.85z M1706.4,389.8l2.09,-1.90l1.61,0.85l0,2.09l-1.61,0.85z M1721.4,388.5l2.09,-1.90l1.61,0.85l0,2.09l-1.61,0.85z M1732.8,391.5l2.09,-1.90l1.61,0.85l0,2.09l-1.61,0.85z M1692.1,397.0l2.09,-1.90l1.61,0.85l0,2.09l-1.61,0.85z M1706.4,398.3l2.09,-1.90l1.61,0.85l0,2.09l-1.61,0.85z M1720.0,397.0l2.09,-1.90l1.61,0.85l0,2.09l-1.61,0.85z M1706.4,407.4l2.09,-1.90l1.61,0.85l0,2.09l-1.61,0.85z" fill="#000" stroke="#000" stroke-width="0.9" stroke-linejoin="round"/>
<rect x="1185.6" y="499.7" width="119.4" height="119.5" fill="#fff" stroke="#FA8078" stroke-width="3.2"/>
<clipPath id="c9"><circle cx="1244.5" cy="563" r="48.2"/></clipPath>
<g clip-path="url(#c9)"><g filter="url(#par)">
<rect x="1183.0" y="501.5" width="123.0" height="123.0" fill="#000"/>
<rect x="1183.0" y="501.5" width="123.0" height="123.0" fill="#fff" fill-opacity="0.03"/>
<ellipse cx="1215" cy="556" rx="22" ry="34" fill="url(#gw)" fill-opacity="0.28"/>
<ellipse cx="1237" cy="536" rx="4" ry="22" fill="url(#gw)" fill-opacity="0.5"/>
<ellipse cx="1245" cy="540" rx="30" ry="22" fill="url(#gw)" fill-opacity="0.22"/>
<ellipse cx="1262" cy="540" rx="14" ry="12" fill="url(#gw)" fill-opacity="0.25"/>
<ellipse cx="1248.8" cy="563.6" rx="16" ry="18" fill="url(#gw)" fill-opacity="0.4"/>
<ellipse cx="1248.8" cy="563.6" rx="9.5" ry="11.5" fill="#fff" fill-opacity="1"/>
</g></g>
<path d="M1196.5,555.5 c-3,-1.6 -6.2,-0.6 -6.2,2.6 l0.9,13.8 c0.3,4.2 2.6,5.6 6.4,4.2" fill="#fff" stroke="#000" stroke-width="2.5"/>
<path d="M1292.5,555.5 c3,-1.6 6.2,-0.6 6.2,2.6 l-0.9,13.8 c-0.3,4.2 -2.6,5.6 -6.4,4.2" fill="#fff" stroke="#000" stroke-width="2.5"/>
<path d="M1235.2,515.7 L1244.5,506.6 L1253.8,515.7" fill="#fff" stroke="#000" stroke-width="2.5" stroke-linejoin="miter"/>
<path d="M1202.6,588.7 l-1.8,2.6" stroke="#000" stroke-width="2.5" fill="none"/>
<path d="M1286.4,588.7 l1.8,2.6" stroke="#000" stroke-width="2.5" fill="none"/>
<circle cx="1244.5" cy="563" r="48.2" fill="none" stroke="#000" stroke-width="2.5"/>
<path d="M1228.3,527.9l2.09,-1.90l1.61,0.85l0,2.09l-1.61,0.85z M1242.5,525.9l2.09,-1.90l1.61,0.85l0,2.09l-1.61,0.85z M1256.0,527.9l2.09,-1.90l1.61,0.85l0,2.09l-1.61,0.85z M1215.5,533.5l2.09,-1.90l1.61,0.85l0,2.09l-1.61,0.85z M1227.0,535.5l2.09,-1.90l1.61,0.85l0,2.09l-1.61,0.85z M1242.5,535.2l2.09,-1.90l1.61,0.85l0,2.09l-1.61,0.85z M1257.3,535.5l2.09,-1.90l1.61,0.85l0,2.09l-1.61,0.85z M1268.6,533.5l2.09,-1.90l1.61,0.85l0,2.09l-1.61,0.85z M1205.6,540.6l2.09,-1.90l1.61,0.85l0,2.09l-1.61,0.85z M1214.4,543.6l2.09,-1.90l1.61,0.85l0,2.09l-1.61,0.85z M1223.6,544.3l2.09,-1.90l1.61,0.85l0,2.09l-1.61,0.85z M1232.9,544.3l2.09,-1.90l1.61,0.85l0,2.09l-1.61,0.85z M1242.5,544.3l2.09,-1.90l1.61,0.85l0,2.09l-1.61,0.85z M1251.4,544.3l2.09,-1.90l1.61,0.85l0,2.09l-1.61,0.85z M1260.7,544.3l2.09,-1.90l1.61,0.85l0,2.09l-1.61,0.85z M1270.0,543.1l2.09,-1.90l1.61,0.85l0,2.09l-1.61,0.85z M1278.7,540.6l2.09,-1.90l1.61,0.85l0,2.09l-1.61,0.85z M1199.2,551.0l2.09,-1.90l1.61,0.85l0,2.09l-1.61,0.85z M1209.3,552.4l2.09,-1.90l1.61,0.85l0,2.09l-1.61,0.85z M1219.9,553.2l2.09,-1.90l1.61,0.85l0,2.09l-1.61,0.85z M1230.9,553.2l2.09,-1.90l1.61,0.85l0,2.09l-1.61,0.85z M1242.5,553.2l2.09,-1.90l1.61,0.85l0,2.09l-1.61,0.85z M1253.1,553.2l2.09,-1.90l1.61,0.85l0,2.09l-1.61,0.85z M1263.7,553.2l2.09,-1.90l1.61,0.85l0,2.09l-1.61,0.85z M1275.0,552.4l2.09,-1.90l1.61,0.85l0,2.09l-1.61,0.85z M1285.1,551.0l2.09,-1.90l1.61,0.85l0,2.09l-1.61,0.85z M1197.2,562.5l2.09,-1.90l1.61,0.85l0,2.09l-1.61,0.85z M1208.5,562.5l2.09,-1.90l1.61,0.85l0,2.09l-1.61,0.85z M1219.4,562.5l2.09,-1.90l1.61,0.85l0,2.09l-1.61,0.85z M1230.9,562.5l2.09,-1.90l1.61,0.85l0,2.09l-1.61,0.85z M1242.5,562.5l2.09,-1.90l1.61,0.85l0,2.09l-1.61,0.85z M1253.1,562.5l2.09,-1.90l1.61,0.85l0,2.09l-1.61,0.85z M1264.1,562.5l2.09,-1.90l1.61,0.85l0,2.09l-1.61,0.85z M1275.9,562.5l2.09,-1.90l1.61,0.85l0,2.09l-1.61,0.85z M1286.8,562.5l2.09,-1.90l1.61,0.85l0,2.09l-1.61,0.85z M1199.2,573.4l2.09,-1.90l1.61,0.85l0,2.09l-1.61,0.85z M1209.3,572.6l2.09,-1.90l1.61,0.85l0,2.09l-1.61,0.85z M1219.9,571.8l2.09,-1.90l1.61,0.85l0,2.09l-1.61,0.85z M1230.9,571.8l2.09,-1.90l1.61,0.85l0,2.09l-1.61,0.85z M1242.5,571.8l2.09,-1.90l1.61,0.85l0,2.09l-1.61,0.85z M1253.1,571.8l2.09,-1.90l1.61,0.85l0,2.09l-1.61,0.85z M1263.7,571.8l2.09,-1.90l1.61,0.85l0,2.09l-1.61,0.85z M1275.0,572.6l2.09,-1.90l1.61,0.85l0,2.09l-1.61,0.85z M1285.1,573.4l2.09,-1.90l1.61,0.85l0,2.09l-1.61,0.85z M1205.6,582.7l2.09,-1.90l1.61,0.85l0,2.09l-1.61,0.85z M1214.4,581.5l2.09,-1.90l1.61,0.85l0,2.09l-1.61,0.85z M1223.6,581.0l2.09,-1.90l1.61,0.85l0,2.09l-1.61,0.85z M1232.9,581.0l2.09,-1.90l1.61,0.85l0,2.09l-1.61,0.85z M1242.5,581.0l2.09,-1.90l1.61,0.85l0,2.09l-1.61,0.85z M1251.4,581.0l2.09,-1.90l1.61,0.85l0,2.09l-1.61,0.85z M1260.7,581.0l2.09,-1.90l1.61,0.85l0,2.09l-1.61,0.85z M1270.0,581.5l2.09,-1.90l1.61,0.85l0,2.09l-1.61,0.85z M1278.7,582.7l2.09,-1.90l1.61,0.85l0,2.09l-1.61,0.85z M1215.5,591.1l2.09,-1.90l1.61,0.85l0,2.09l-1.61,0.85z M1227.0,588.1l2.09,-1.90l1.61,0.85l0,2.09l-1.61,0.85z M1242.5,589.5l2.09,-1.90l1.61,0.85l0,2.09l-1.61,0.85z M1257.3,588.1l2.09,-1.90l1.61,0.85l0,2.09l-1.61,0.85z M1268.6,591.1l2.09,-1.90l1.61,0.85l0,2.09l-1.61,0.85z M1228.3,596.5l2.09,-1.90l1.61,0.85l0,2.09l-1.61,0.85z M1242.5,597.9l2.09,-1.90l1.61,0.85l0,2.09l-1.61,0.85z M1256.0,596.5l2.09,-1.90l1.61,0.85l0,2.09l-1.61,0.85z M1242.5,606.8l2.09,-1.90l1.61,0.85l0,2.09l-1.61,0.85z" fill="#000" stroke="#000" stroke-width="0.9" stroke-linejoin="round"/>
<rect x="1340.1" y="499.8" width="119.3" height="119.3" fill="#fff" stroke="#5AC8CF" stroke-width="3.4"/>
<clipPath id="c10"><circle cx="1400.9" cy="563.8" r="48.2"/></clipPath>
<g clip-path="url(#c10)"><g filter="url(#par)">
<rect x="1339.4" y="502.29999999999995" width="123.0" height="123.0" fill="#000"/>
<rect x="1339.4" y="502.29999999999995" width="123.0" height="123.0" fill="#fff" fill-opacity="0.03"/>
<ellipse cx="1380" cy="560" rx="36" ry="52" fill="url(#gw)" fill-opacity="0.28"/>
<ellipse cx="1371" cy="521" rx="43" ry="21" fill="url(#gw)" fill-opacity="0.48" transform="rotate(-27 1371 521)"/>
<ellipse cx="1429" cy="520" rx="41" ry="21" fill="url(#gw)" fill-opacity="0.5" transform="rotate(27 1429 520)"/>
<ellipse cx="1400" cy="530" rx="8" ry="12" fill="url(#gk)" fill-opacity="0.6"/>
<ellipse cx="1384" cy="545" rx="16" ry="26" fill="url(#gw)" fill-opacity="0.15"/>
<ellipse cx="1377.4" cy="571" rx="16" ry="16" fill="url(#gw)" fill-opacity="0.32"/>
<ellipse cx="1388" cy="592" rx="24" ry="18" fill="url(#gw)" fill-opacity="0.25"/>
</g></g>
<path d="M1352.9,556.3 c-3,-1.6 -6.2,-0.6 -6.2,2.6 l0.9,13.8 c0.3,4.2 2.6,5.6 6.4,4.2" fill="#fff" stroke="#000" stroke-width="2.5"/>
<path d="M1448.9,556.3 c3,-1.6 6.2,-0.6 6.2,2.6 l-0.9,13.8 c-0.3,4.2 -2.6,5.6 -6.4,4.2" fill="#fff" stroke="#000" stroke-width="2.5"/>
<path d="M1391.6,516.5 L1400.9,507.4 L1410.2,516.5" fill="#fff" stroke="#000" stroke-width="2.5" stroke-linejoin="miter"/>
<path d="M1359.0,589.5 l-1.8,2.6" stroke="#000" stroke-width="2.5" fill="none"/>
<path d="M1442.8,589.5 l1.8,2.6" stroke="#000" stroke-width="2.5" fill="none"/>
<circle cx="1400.9" cy="563.8" r="48.2" fill="none" stroke="#000" stroke-width="2.5"/>
<path d="M1384.7,528.7l2.09,-1.90l1.61,0.85l0,2.09l-1.61,0.85z M1398.9,526.7l2.09,-1.90l1.61,0.85l0,2.09l-1.61,0.85z M1412.4,528.7l2.09,-1.90l1.61,0.85l0,2.09l-1.61,0.85z M1371.9,534.3l2.09,-1.90l1.61,0.85l0,2.09l-1.61,0.85z M1383.4,536.3l2.09,-1.90l1.61,0.85l0,2.09l-1.61,0.85z M1398.9,536.0l2.09,-1.90l1.61,0.85l0,2.09l-1.61,0.85z M1413.7,536.3l2.09,-1.90l1.61,0.85l0,2.09l-1.61,0.85z M1425.0,534.3l2.09,-1.90l1.61,0.85l0,2.09l-1.61,0.85z M1362.0,541.4l2.09,-1.90l1.61,0.85l0,2.09l-1.61,0.85z M1370.8,544.4l2.09,-1.90l1.61,0.85l0,2.09l-1.61,0.85z M1380.0,545.1l2.09,-1.90l1.61,0.85l0,2.09l-1.61,0.85z M1389.3,545.1l2.09,-1.90l1.61,0.85l0,2.09l-1.61,0.85z M1398.9,545.1l2.09,-1.90l1.61,0.85l0,2.09l-1.61,0.85z M1407.8,545.1l2.09,-1.90l1.61,0.85l0,2.09l-1.61,0.85z M1417.1,545.1l2.09,-1.90l1.61,0.85l0,2.09l-1.61,0.85z M1426.4,543.9l2.09,-1.90l1.61,0.85l0,2.09l-1.61,0.85z M1435.1,541.4l2.09,-1.90l1.61,0.85l0,2.09l-1.61,0.85z M1355.6,551.8l2.09,-1.90l1.61,0.85l0,2.09l-1.61,0.85z M1365.7,553.2l2.09,-1.90l1.61,0.85l0,2.09l-1.61,0.85z M1376.3,554.0l2.09,-1.90l1.61,0.85l0,2.09l-1.61,0.85z M1387.3,554.0l2.09,-1.90l1.61,0.85l0,2.09l-1.61,0.85z M1398.9,554.0l2.09,-1.90l1.61,0.85l0,2.09l-1.61,0.85z M1409.5,554.0l2.09,-1.90l1.61,0.85l0,2.09l-1.61,0.85z M1420.1,554.0l2.09,-1.90l1.61,0.85l0,2.09l-1.61,0.85z M1431.4,553.2l2.09,-1.90l1.61,0.85l0,2.09l-1.61,0.85z M1441.5,551.8l2.09,-1.90l1.61,0.85l0,2.09l-1.61,0.85z M1353.6,563.3l2.09,-1.90l1.61,0.85l0,2.09l-1.61,0.85z M1364.9,563.3l2.09,-1.90l1.61,0.85l0,2.09l-1.61,0.85z M1375.8,563.3l2.09,-1.90l1.61,0.85l0,2.09l-1.61,0.85z M1387.3,563.3l2.09,-1.90l1.61,0.85l0,2.09l-1.61,0.85z M1398.9,563.3l2.09,-1.90l1.61,0.85l0,2.09l-1.61,0.85z M1409.5,563.3l2.09,-1.90l1.61,0.85l0,2.09l-1.61,0.85z M1420.5,563.3l2.09,-1.90l1.61,0.85l0,2.09l-1.61,0.85z M1432.3,563.3l2.09,-1.90l1.61,0.85l0,2.09l-1.61,0.85z M1443.2,563.3l2.09,-1.90l1.61,0.85l0,2.09l-1.61,0.85z M1355.6,574.2l2.09,-1.90l1.61,0.85l0,2.09l-1.61,0.85z M1365.7,573.4l2.09,-1.90l1.61,0.85l0,2.09l-1.61,0.85z M1376.3,572.6l2.09,-1.90l1.61,0.85l0,2.09l-1.61,0.85z M1387.3,572.6l2.09,-1.90l1.61,0.85l0,2.09l-1.61,0.85z M1398.9,572.6l2.09,-1.90l1.61,0.85l0,2.09l-1.61,0.85z M1409.5,572.6l2.09,-1.90l1.61,0.85l0,2.09l-1.61,0.85z M1420.1,572.6l2.09,-1.90l1.61,0.85l0,2.09l-1.61,0.85z M1431.4,573.4l2.09,-1.90l1.61,0.85l0,2.09l-1.61,0.85z M1441.5,574.2l2.09,-1.90l1.61,0.85l0,2.09l-1.61,0.85z M1362.0,583.5l2.09,-1.90l1.61,0.85l0,2.09l-1.61,0.85z M1370.8,582.3l2.09,-1.90l1.61,0.85l0,2.09l-1.61,0.85z M1380.0,581.8l2.09,-1.90l1.61,0.85l0,2.09l-1.61,0.85z M1389.3,581.8l2.09,-1.90l1.61,0.85l0,2.09l-1.61,0.85z M1398.9,581.8l2.09,-1.90l1.61,0.85l0,2.09l-1.61,0.85z M1407.8,581.8l2.09,-1.90l1.61,0.85l0,2.09l-1.61,0.85z M1417.1,581.8l2.09,-1.90l1.61,0.85l0,2.09l-1.61,0.85z M1426.4,582.3l2.09,-1.90l1.61,0.85l0,2.09l-1.61,0.85z M1435.1,583.5l2.09,-1.90l1.61,0.85l0,2.09l-1.61,0.85z M1371.9,591.9l2.09,-1.90l1.61,0.85l0,2.09l-1.61,0.85z M1383.4,588.9l2.09,-1.90l1.61,0.85l0,2.09l-1.61,0.85z M1398.9,590.3l2.09,-1.90l1.61,0.85l0,2.09l-1.61,0.85z M1413.7,588.9l2.09,-1.90l1.61,0.85l0,2.09l-1.61,0.85z M1425.0,591.9l2.09,-1.90l1.61,0.85l0,2.09l-1.61,0.85z M1384.7,597.3l2.09,-1.90l1.61,0.85l0,2.09l-1.61,0.85z M1398.9,598.7l2.09,-1.90l1.61,0.85l0,2.09l-1.61,0.85z M1412.4,597.3l2.09,-1.90l1.61,0.85l0,2.09l-1.61,0.85z M1398.9,607.6l2.09,-1.90l1.61,0.85l0,2.09l-1.61,0.85z" fill="#000" stroke="#000" stroke-width="0.9" stroke-linejoin="round"/>
<rect x="1495.0" y="500.4" width="119.2" height="119.1" fill="#fff" stroke="#FA8078" stroke-width="3.4"/>
<clipPath id="c11"><circle cx="1555.6" cy="562.9" r="48.0"/></clipPath>
<g clip-path="url(#c11)"><g filter="url(#par)">
<rect x="1494.3" y="501.6" width="122.6" height="122.6" fill="#000"/>
<rect x="1494.3" y="501.6" width="122.6" height="122.6" fill="#fff" fill-opacity="0.03"/>
<ellipse cx="1535" cy="570" rx="44" ry="52" fill="url(#gw)" fill-opacity="0.33"/>
<ellipse cx="1585" cy="590" rx="30" ry="28" fill="url(#gw)" fill-opacity="0.28"/>
<ellipse cx="1558" cy="602" rx="40" ry="18" fill="url(#gw)" fill-opacity="0.25"/>
<ellipse cx="1562" cy="528" rx="16" ry="14" fill="url(#gk)" fill-opacity="0.6"/>
<ellipse cx="1586" cy="545" rx="6" ry="20" fill="url(#gw)" fill-opacity="0.3" transform="rotate(15 1586 545)"/>
<ellipse cx="1576.2" cy="562.9" rx="25" ry="18" fill="url(#gw)" fill-opacity="0.92"/>
</g></g>
<path d="M1507.8,555.4 c-3,-1.6 -6.2,-0.6 -6.2,2.6 l0.9,13.8 c0.3,4.2 2.6,5.6 6.4,4.2" fill="#fff" stroke="#000" stroke-width="2.5"/>
<path d="M1603.4,555.4 c3,-1.6 6.2,-0.6 6.2,2.6 l-0.9,13.8 c-0.3,4.2 -2.6,5.6 -6.4,4.2" fill="#fff" stroke="#000" stroke-width="2.5"/>
<path d="M1546.3,515.8 L1555.6,506.6 L1564.9,515.8" fill="#fff" stroke="#000" stroke-width="2.5" stroke-linejoin="miter"/>
<path d="M1513.8,588.5 l-1.8,2.6" stroke="#000" stroke-width="2.5" fill="none"/>
<path d="M1597.4,588.5 l1.8,2.6" stroke="#000" stroke-width="2.5" fill="none"/>
<circle cx="1555.6" cy="562.9" r="48.0" fill="none" stroke="#000" stroke-width="2.5"/>
<path d="M1539.5,528.0l2.09,-1.90l1.61,0.85l0,2.09l-1.61,0.85z M1553.6,526.0l2.09,-1.90l1.61,0.85l0,2.09l-1.61,0.85z M1567.0,528.0l2.09,-1.90l1.61,0.85l0,2.09l-1.61,0.85z M1526.8,533.5l2.09,-1.90l1.61,0.85l0,2.09l-1.61,0.85z M1538.2,535.5l2.09,-1.90l1.61,0.85l0,2.09l-1.61,0.85z M1553.6,535.2l2.09,-1.90l1.61,0.85l0,2.09l-1.61,0.85z M1568.4,535.5l2.09,-1.90l1.61,0.85l0,2.09l-1.61,0.85z M1579.6,533.5l2.09,-1.90l1.61,0.85l0,2.09l-1.61,0.85z M1516.8,540.6l2.09,-1.90l1.61,0.85l0,2.09l-1.61,0.85z M1525.6,543.6l2.09,-1.90l1.61,0.85l0,2.09l-1.61,0.85z M1534.8,544.3l2.09,-1.90l1.61,0.85l0,2.09l-1.61,0.85z M1544.0,544.3l2.09,-1.90l1.61,0.85l0,2.09l-1.61,0.85z M1553.6,544.3l2.09,-1.90l1.61,0.85l0,2.09l-1.61,0.85z M1562.5,544.3l2.09,-1.90l1.61,0.85l0,2.09l-1.61,0.85z M1571.7,544.3l2.09,-1.90l1.61,0.85l0,2.09l-1.61,0.85z M1581.0,543.1l2.09,-1.90l1.61,0.85l0,2.09l-1.61,0.85z M1589.7,540.6l2.09,-1.90l1.61,0.85l0,2.09l-1.61,0.85z M1510.5,551.0l2.09,-1.90l1.61,0.85l0,2.09l-1.61,0.85z M1520.5,552.3l2.09,-1.90l1.61,0.85l0,2.09l-1.61,0.85z M1531.1,553.2l2.09,-1.90l1.61,0.85l0,2.09l-1.61,0.85z M1542.0,553.2l2.09,-1.90l1.61,0.85l0,2.09l-1.61,0.85z M1553.6,553.2l2.09,-1.90l1.61,0.85l0,2.09l-1.61,0.85z M1564.2,553.2l2.09,-1.90l1.61,0.85l0,2.09l-1.61,0.85z M1574.8,553.2l2.09,-1.90l1.61,0.85l0,2.09l-1.61,0.85z M1586.0,552.3l2.09,-1.90l1.61,0.85l0,2.09l-1.61,0.85z M1596.1,551.0l2.09,-1.90l1.61,0.85l0,2.09l-1.61,0.85z M1508.5,562.4l2.09,-1.90l1.61,0.85l0,2.09l-1.61,0.85z M1519.7,562.4l2.09,-1.90l1.61,0.85l0,2.09l-1.61,0.85z M1530.6,562.4l2.09,-1.90l1.61,0.85l0,2.09l-1.61,0.85z M1542.0,562.4l2.09,-1.90l1.61,0.85l0,2.09l-1.61,0.85z M1553.6,562.4l2.09,-1.90l1.61,0.85l0,2.09l-1.61,0.85z M1564.2,562.4l2.09,-1.90l1.61,0.85l0,2.09l-1.61,0.85z M1575.1,562.4l2.09,-1.90l1.61,0.85l0,2.09l-1.61,0.85z M1586.8,562.4l2.09,-1.90l1.61,0.85l0,2.09l-1.61,0.85z M1597.7,562.4l2.09,-1.90l1.61,0.85l0,2.09l-1.61,0.85z M1510.5,573.3l2.09,-1.90l1.61,0.85l0,2.09l-1.61,0.85z M1520.5,572.5l2.09,-1.90l1.61,0.85l0,2.09l-1.61,0.85z M1531.1,571.6l2.09,-1.90l1.61,0.85l0,2.09l-1.61,0.85z M1542.0,571.6l2.09,-1.90l1.61,0.85l0,2.09l-1.61,0.85z M1553.6,571.6l2.09,-1.90l1.61,0.85l0,2.09l-1.61,0.85z M1564.2,571.6l2.09,-1.90l1.61,0.85l0,2.09l-1.61,0.85z M1574.8,571.6l2.09,-1.90l1.61,0.85l0,2.09l-1.61,0.85z M1586.0,572.5l2.09,-1.90l1.61,0.85l0,2.09l-1.61,0.85z M1596.1,573.3l2.09,-1.90l1.61,0.85l0,2.09l-1.61,0.85z M1516.8,582.5l2.09,-1.90l1.61,0.85l0,2.09l-1.61,0.85z M1525.6,581.4l2.09,-1.90l1.61,0.85l0,2.09l-1.61,0.85z M1534.8,580.9l2.09,-1.90l1.61,0.85l0,2.09l-1.61,0.85z M1544.0,580.9l2.09,-1.90l1.61,0.85l0,2.09l-1.61,0.85z M1553.6,580.9l2.09,-1.90l1.61,0.85l0,2.09l-1.61,0.85z M1562.5,580.9l2.09,-1.90l1.61,0.85l0,2.09l-1.61,0.85z M1571.7,580.9l2.09,-1.90l1.61,0.85l0,2.09l-1.61,0.85z M1581.0,581.4l2.09,-1.90l1.61,0.85l0,2.09l-1.61,0.85z M1589.7,582.5l2.09,-1.90l1.61,0.85l0,2.09l-1.61,0.85z M1526.8,590.9l2.09,-1.90l1.61,0.85l0,2.09l-1.61,0.85z M1538.2,587.9l2.09,-1.90l1.61,0.85l0,2.09l-1.61,0.85z M1553.6,589.3l2.09,-1.90l1.61,0.85l0,2.09l-1.61,0.85z M1568.4,587.9l2.09,-1.90l1.61,0.85l0,2.09l-1.61,0.85z M1579.6,590.9l2.09,-1.90l1.61,0.85l0,2.09l-1.61,0.85z M1539.5,596.3l2.09,-1.90l1.61,0.85l0,2.09l-1.61,0.85z M1553.6,597.6l2.09,-1.90l1.61,0.85l0,2.09l-1.61,0.85z M1567.0,596.3l2.09,-1.90l1.61,0.85l0,2.09l-1.61,0.85z M1553.6,606.5l2.09,-1.90l1.61,0.85l0,2.09l-1.61,0.85z" fill="#000" stroke="#000" stroke-width="0.9" stroke-linejoin="round"/>
<rect x="1648.2" y="499.2" width="119.6" height="119.4" fill="#fff" stroke="#5AC8CF" stroke-width="3.4"/>
<clipPath id="c12"><circle cx="1708.4" cy="562.4" r="48.0"/></clipPath>
<g clip-path="url(#c12)"><g filter="url(#par)">
<rect x="1647.1000000000001" y="501.1" width="122.6" height="122.6" fill="#000"/>
<rect x="1647.1000000000001" y="501.1" width="122.6" height="122.6" fill="#fff" fill-opacity="0.03"/>
<ellipse cx="1700" cy="560" rx="48" ry="50" fill="url(#gw)" fill-opacity="0.3"/>
<ellipse cx="1715" cy="580" rx="46" ry="42" fill="url(#gw)" fill-opacity="0.3"/>
<ellipse cx="1668" cy="552" rx="10" ry="14" fill="url(#gk)" fill-opacity="0.5"/>
<ellipse cx="1703" cy="540" rx="15" ry="32" fill="url(#gw)" fill-opacity="0.24"/>
<ellipse cx="1704.5" cy="538" rx="7" ry="17" fill="url(#gw)" fill-opacity="0.22"/>
<ellipse cx="1694" cy="569" rx="27" ry="22" fill="url(#gw)" fill-opacity="0.45"/>
<ellipse cx="1694.6" cy="568.7" rx="15" ry="11.3" fill="#fff" fill-opacity="1"/>
</g></g>
<path d="M1660.6,554.9 c-3,-1.6 -6.2,-0.6 -6.2,2.6 l0.9,13.8 c0.3,4.2 2.6,5.6 6.4,4.2" fill="#fff" stroke="#000" stroke-width="2.5"/>
<path d="M1756.2,554.9 c3,-1.6 6.2,-0.6 6.2,2.6 l-0.9,13.8 c-0.3,4.2 -2.6,5.6 -6.4,4.2" fill="#fff" stroke="#000" stroke-width="2.5"/>
<path d="M1699.1,515.3 L1708.4,506.9 L1717.7,515.3" fill="#fff" stroke="#000" stroke-width="2.5" stroke-linejoin="miter"/>
<path d="M1666.6,588.0 l-1.8,2.6" stroke="#000" stroke-width="2.5" fill="none"/>
<path d="M1750.2,588.0 l1.8,2.6" stroke="#000" stroke-width="2.5" fill="none"/>
<circle cx="1708.4" cy="562.4" r="48.0" fill="none" stroke="#000" stroke-width="2.5"/>
<path d="M1692.3,527.5l2.09,-1.90l1.61,0.85l0,2.09l-1.61,0.85z M1706.4,525.5l2.09,-1.90l1.61,0.85l0,2.09l-1.61,0.85z M1719.8,527.5l2.09,-1.90l1.61,0.85l0,2.09l-1.61,0.85z M1679.6,533.0l2.09,-1.90l1.61,0.85l0,2.09l-1.61,0.85z M1691.0,535.0l2.09,-1.90l1.61,0.85l0,2.09l-1.61,0.85z M1706.4,534.7l2.09,-1.90l1.61,0.85l0,2.09l-1.61,0.85z M1721.2,535.0l2.09,-1.90l1.61,0.85l0,2.09l-1.61,0.85z M1732.4,533.0l2.09,-1.90l1.61,0.85l0,2.09l-1.61,0.85z M1669.6,540.1l2.09,-1.90l1.61,0.85l0,2.09l-1.61,0.85z M1678.4,543.1l2.09,-1.90l1.61,0.85l0,2.09l-1.61,0.85z M1687.6,543.8l2.09,-1.90l1.61,0.85l0,2.09l-1.61,0.85z M1696.8,543.8l2.09,-1.90l1.61,0.85l0,2.09l-1.61,0.85z M1706.4,543.8l2.09,-1.90l1.61,0.85l0,2.09l-1.61,0.85z M1715.3,543.8l2.09,-1.90l1.61,0.85l0,2.09l-1.61,0.85z M1724.5,543.8l2.09,-1.90l1.61,0.85l0,2.09l-1.61,0.85z M1733.8,542.6l2.09,-1.90l1.61,0.85l0,2.09l-1.61,0.85z M1742.5,540.1l2.09,-1.90l1.61,0.85l0,2.09l-1.61,0.85z M1663.3,550.5l2.09,-1.90l1.61,0.85l0,2.09l-1.61,0.85z M1673.3,551.8l2.09,-1.90l1.61,0.85l0,2.09l-1.61,0.85z M1683.9,552.7l2.09,-1.90l1.61,0.85l0,2.09l-1.61,0.85z M1694.8,552.7l2.09,-1.90l1.61,0.85l0,2.09l-1.61,0.85z M1706.4,552.7l2.09,-1.90l1.61,0.85l0,2.09l-1.61,0.85z M1717.0,552.7l2.09,-1.90l1.61,0.85l0,2.09l-1.61,0.85z M1727.6,552.7l2.09,-1.90l1.61,0.85l0,2.09l-1.61,0.85z M1738.8,551.8l2.09,-1.90l1.61,0.85l0,2.09l-1.61,0.85z M1748.9,550.5l2.09,-1.90l1.61,0.85l0,2.09l-1.61,0.85z M1661.3,561.9l2.09,-1.90l1.61,0.85l0,2.09l-1.61,0.85z M1672.5,561.9l2.09,-1.90l1.61,0.85l0,2.09l-1.61,0.85z M1683.4,561.9l2.09,-1.90l1.61,0.85l0,2.09l-1.61,0.85z M1694.8,561.9l2.09,-1.90l1.61,0.85l0,2.09l-1.61,0.85z M1706.4,561.9l2.09,-1.90l1.61,0.85l0,2.09l-1.61,0.85z M1717.0,561.9l2.09,-1.90l1.61,0.85l0,2.09l-1.61,0.85z M1727.9,561.9l2.09,-1.90l1.61,0.85l0,2.09l-1.61,0.85z M1739.6,561.9l2.09,-1.90l1.61,0.85l0,2.09l-1.61,0.85z M1750.5,561.9l2.09,-1.90l1.61,0.85l0,2.09l-1.61,0.85z M1663.3,572.8l2.09,-1.90l1.61,0.85l0,2.09l-1.61,0.85z M1673.3,572.0l2.09,-1.90l1.61,0.85l0,2.09l-1.61,0.85z M1683.9,571.1l2.09,-1.90l1.61,0.85l0,2.09l-1.61,0.85z M1694.8,571.1l2.09,-1.90l1.61,0.85l0,2.09l-1.61,0.85z M1706.4,571.1l2.09,-1.90l1.61,0.85l0,2.09l-1.61,0.85z M1717.0,571.1l2.09,-1.90l1.61,0.85l0,2.09l-1.61,0.85z M1727.6,571.1l2.09,-1.90l1.61,0.85l0,2.09l-1.61,0.85z M1738.8,572.0l2.09,-1.90l1.61,0.85l0,2.09l-1.61,0.85z M1748.9,572.8l2.09,-1.90l1.61,0.85l0,2.09l-1.61,0.85z M1669.6,582.0l2.09,-1.90l1.61,0.85l0,2.09l-1.61,0.85z M1678.4,580.9l2.09,-1.90l1.61,0.85l0,2.09l-1.61,0.85z M1687.6,580.4l2.09,-1.90l1.61,0.85l0,2.09l-1.61,0.85z M1696.8,580.4l2.09,-1.90l1.61,0.85l0,2.09l-1.61,0.85z M1706.4,580.4l2.09,-1.90l1.61,0.85l0,2.09l-1.61,0.85z M1715.3,580.4l2.09,-1.90l1.61,0.85l0,2.09l-1.61,0.85z M1724.5,580.4l2.09,-1.90l1.61,0.85l0,2.09l-1.61,0.85z M1733.8,580.9l2.09,-1.90l1.61,0.85l0,2.09l-1.61,0.85z M1742.5,582.0l2.09,-1.90l1.61,0.85l0,2.09l-1.61,0.85z M1679.6,590.4l2.09,-1.90l1.61,0.85l0,2.09l-1.61,0.85z M1691.0,587.4l2.09,-1.90l1.61,0.85l0,2.09l-1.61,0.85z M1706.4,588.8l2.09,-1.90l1.61,0.85l0,2.09l-1.61,0.85z M1721.2,587.4l2.09,-1.90l1.61,0.85l0,2.09l-1.61,0.85z M1732.4,590.4l2.09,-1.90l1.61,0.85l0,2.09l-1.61,0.85z M1692.3,595.8l2.09,-1.90l1.61,0.85l0,2.09l-1.61,0.85z M1706.4,597.1l2.09,-1.90l1.61,0.85l0,2.09l-1.61,0.85z M1719.8,595.8l2.09,-1.90l1.61,0.85l0,2.09l-1.61,0.85z M1706.4,606.0l2.09,-1.90l1.61,0.85l0,2.09l-1.61,0.85z" fill="#000" stroke="#000" stroke-width="0.9" stroke-linejoin="round"/>
<rect x="1185.2" y="698.0" width="120.7" height="120.7" fill="#fff" stroke="#FA8078" stroke-width="4.2"/>
<clipPath id="c13"><circle cx="1245" cy="761.5" r="49.7"/></clipPath>
<g clip-path="url(#c13)"><g filter="url(#par)">
<rect x="1181.8" y="698.3" width="126.4" height="126.4" fill="#000"/>
<rect x="1181.8" y="698.3" width="126.4" height="126.4" fill="#fff" fill-opacity="0.03"/>
<ellipse cx="1245" cy="750" rx="38" ry="40" fill="url(#gw)" fill-opacity="0.28"/>
<ellipse cx="1264.8" cy="763.6" rx="21.5" ry="21.5" fill="url(#gw)" fill-opacity="1"/>
<ellipse cx="1264.8" cy="763.6" rx="3.5" ry="4.5" fill="#fff" fill-opacity="0.8"/>
</g></g>
<path d="M1195.3,754.0 c-3,-1.6 -6.2,-0.6 -6.2,2.6 l0.9,13.8 c0.3,4.2 2.6,5.6 6.4,4.2" fill="#fff" stroke="#000" stroke-width="3.0"/>
<path d="M1294.7,754.0 c3,-1.6 6.2,-0.6 6.2,2.6 l-0.9,13.8 c-0.3,4.2 -2.6,5.6 -6.4,4.2" fill="#fff" stroke="#000" stroke-width="3.0"/>
<path d="M1235.7,712.5 L1245.0,702.8 L1254.3,712.5" fill="#fff" stroke="#000" stroke-width="3.0" stroke-linejoin="miter"/>
<path d="M1201.6,788.2 l-1.8,2.6" stroke="#000" stroke-width="3.0" fill="none"/>
<path d="M1288.4,788.2 l1.8,2.6" stroke="#000" stroke-width="3.0" fill="none"/>
<circle cx="1245" cy="761.5" r="49.7" fill="none" stroke="#000" stroke-width="3.0"/>
<path d="M1227.9,725.2l2.53,-2.30l1.95,1.03l0,2.53l-1.95,1.03z M1242.6,723.2l2.53,-2.30l1.95,1.03l0,2.53l-1.95,1.03z M1256.5,725.2l2.53,-2.30l1.95,1.03l0,2.53l-1.95,1.03z M1214.7,731.0l2.53,-2.30l1.95,1.03l0,2.53l-1.95,1.03z M1226.5,733.1l2.53,-2.30l1.95,1.03l0,2.53l-1.95,1.03z M1242.6,732.7l2.53,-2.30l1.95,1.03l0,2.53l-1.95,1.03z M1257.9,733.1l2.53,-2.30l1.95,1.03l0,2.53l-1.95,1.03z M1269.6,731.0l2.53,-2.30l1.95,1.03l0,2.53l-1.95,1.03z M1204.4,738.3l2.53,-2.30l1.95,1.03l0,2.53l-1.95,1.03z M1213.5,741.5l2.53,-2.30l1.95,1.03l0,2.53l-1.95,1.03z M1223.1,742.2l2.53,-2.30l1.95,1.03l0,2.53l-1.95,1.03z M1232.6,742.2l2.53,-2.30l1.95,1.03l0,2.53l-1.95,1.03z M1242.6,742.2l2.53,-2.30l1.95,1.03l0,2.53l-1.95,1.03z M1251.8,742.2l2.53,-2.30l1.95,1.03l0,2.53l-1.95,1.03z M1261.4,742.2l2.53,-2.30l1.95,1.03l0,2.53l-1.95,1.03z M1271.0,740.9l2.53,-2.30l1.95,1.03l0,2.53l-1.95,1.03z M1280.1,738.3l2.53,-2.30l1.95,1.03l0,2.53l-1.95,1.03z M1197.8,749.1l2.53,-2.30l1.95,1.03l0,2.53l-1.95,1.03z M1208.2,750.5l2.53,-2.30l1.95,1.03l0,2.53l-1.95,1.03z M1219.2,751.4l2.53,-2.30l1.95,1.03l0,2.53l-1.95,1.03z M1230.6,751.4l2.53,-2.30l1.95,1.03l0,2.53l-1.95,1.03z M1242.6,751.4l2.53,-2.30l1.95,1.03l0,2.53l-1.95,1.03z M1253.6,751.4l2.53,-2.30l1.95,1.03l0,2.53l-1.95,1.03z M1264.5,751.4l2.53,-2.30l1.95,1.03l0,2.53l-1.95,1.03z M1276.2,750.5l2.53,-2.30l1.95,1.03l0,2.53l-1.95,1.03z M1286.7,749.1l2.53,-2.30l1.95,1.03l0,2.53l-1.95,1.03z M1195.7,761.0l2.53,-2.30l1.95,1.03l0,2.53l-1.95,1.03z M1207.4,761.0l2.53,-2.30l1.95,1.03l0,2.53l-1.95,1.03z M1218.7,761.0l2.53,-2.30l1.95,1.03l0,2.53l-1.95,1.03z M1230.6,761.0l2.53,-2.30l1.95,1.03l0,2.53l-1.95,1.03z M1242.6,761.0l2.53,-2.30l1.95,1.03l0,2.53l-1.95,1.03z M1253.6,761.0l2.53,-2.30l1.95,1.03l0,2.53l-1.95,1.03z M1264.9,761.0l2.53,-2.30l1.95,1.03l0,2.53l-1.95,1.03z M1277.1,761.0l2.53,-2.30l1.95,1.03l0,2.53l-1.95,1.03z M1288.4,761.0l2.53,-2.30l1.95,1.03l0,2.53l-1.95,1.03z M1197.8,772.3l2.53,-2.30l1.95,1.03l0,2.53l-1.95,1.03z M1208.2,771.4l2.53,-2.30l1.95,1.03l0,2.53l-1.95,1.03z M1219.2,770.6l2.53,-2.30l1.95,1.03l0,2.53l-1.95,1.03z M1230.6,770.6l2.53,-2.30l1.95,1.03l0,2.53l-1.95,1.03z M1242.6,770.6l2.53,-2.30l1.95,1.03l0,2.53l-1.95,1.03z M1253.6,770.6l2.53,-2.30l1.95,1.03l0,2.53l-1.95,1.03z M1264.5,770.6l2.53,-2.30l1.95,1.03l0,2.53l-1.95,1.03z M1276.2,771.4l2.53,-2.30l1.95,1.03l0,2.53l-1.95,1.03z M1286.7,772.3l2.53,-2.30l1.95,1.03l0,2.53l-1.95,1.03z M1204.4,781.9l2.53,-2.30l1.95,1.03l0,2.53l-1.95,1.03z M1213.5,780.7l2.53,-2.30l1.95,1.03l0,2.53l-1.95,1.03z M1223.1,780.2l2.53,-2.30l1.95,1.03l0,2.53l-1.95,1.03z M1232.6,780.2l2.53,-2.30l1.95,1.03l0,2.53l-1.95,1.03z M1242.6,780.2l2.53,-2.30l1.95,1.03l0,2.53l-1.95,1.03z M1251.8,780.2l2.53,-2.30l1.95,1.03l0,2.53l-1.95,1.03z M1261.4,780.2l2.53,-2.30l1.95,1.03l0,2.53l-1.95,1.03z M1271.0,780.7l2.53,-2.30l1.95,1.03l0,2.53l-1.95,1.03z M1280.1,781.9l2.53,-2.30l1.95,1.03l0,2.53l-1.95,1.03z M1214.7,790.6l2.53,-2.30l1.95,1.03l0,2.53l-1.95,1.03z M1226.5,787.5l2.53,-2.30l1.95,1.03l0,2.53l-1.95,1.03z M1242.6,788.9l2.53,-2.30l1.95,1.03l0,2.53l-1.95,1.03z M1257.9,787.5l2.53,-2.30l1.95,1.03l0,2.53l-1.95,1.03z M1269.6,790.6l2.53,-2.30l1.95,1.03l0,2.53l-1.95,1.03z M1227.9,796.2l2.53,-2.30l1.95,1.03l0,2.53l-1.95,1.03z M1242.6,797.6l2.53,-2.30l1.95,1.03l0,2.53l-1.95,1.03z M1256.5,796.2l2.53,-2.30l1.95,1.03l0,2.53l-1.95,1.03z M1242.6,806.8l2.53,-2.30l1.95,1.03l0,2.53l-1.95,1.03z" fill="#000" stroke="#000" stroke-width="0.9" stroke-linejoin="round"/>
<rect x="1340.1" y="699.0" width="119.3" height="119.3" fill="#fff" stroke="#5AC8CF" stroke-width="3.4"/>
<clipPath id="c14"><circle cx="1399.8" cy="762.6" r="48.5"/></clipPath>
<g clip-path="url(#c14)"><g filter="url(#par)">
<rect x="1338.0" y="700.8000000000001" width="123.6" height="123.6" fill="#000"/>
<rect x="1338.0" y="700.8000000000001" width="123.6" height="123.6" fill="#fff" fill-opacity="0.03"/>
<ellipse cx="1395" cy="755" rx="28" ry="48" fill="url(#gw)" fill-opacity="0.28"/>
<ellipse cx="1394" cy="742" rx="11" ry="22" fill="url(#gw)" fill-opacity="0.25" transform="rotate(25 1394 742)"/>
<ellipse cx="1381.6" cy="764.5" rx="22.5" ry="22.5" fill="url(#gw)" fill-opacity="1"/>
<ellipse cx="1381.6" cy="764.5" rx="4" ry="4.5" fill="#fff" fill-opacity="0.8"/>
</g></g>
<path d="M1351.5,755.1 c-3,-1.6 -6.2,-0.6 -6.2,2.6 l0.9,13.8 c0.3,4.2 2.6,5.6 6.4,4.2" fill="#fff" stroke="#000" stroke-width="2.5"/>
<path d="M1448.1,755.1 c3,-1.6 6.2,-0.6 6.2,2.6 l-0.9,13.8 c-0.3,4.2 -2.6,5.6 -6.4,4.2" fill="#fff" stroke="#000" stroke-width="2.5"/>
<path d="M1390.5,715.0 L1399.8,704.9 L1409.1,715.0" fill="#fff" stroke="#000" stroke-width="2.5" stroke-linejoin="miter"/>
<path d="M1357.6,788.5 l-1.8,2.6" stroke="#000" stroke-width="2.5" fill="none"/>
<path d="M1442.0,788.5 l1.8,2.6" stroke="#000" stroke-width="2.5" fill="none"/>
<circle cx="1399.8" cy="762.6" r="48.5" fill="none" stroke="#000" stroke-width="2.5"/>
<path d="M1383.6,727.3l2.09,-1.90l1.61,0.85l0,2.09l-1.61,0.85z M1397.8,725.3l2.09,-1.90l1.61,0.85l0,2.09l-1.61,0.85z M1411.4,727.3l2.09,-1.90l1.61,0.85l0,2.09l-1.61,0.85z M1370.7,732.9l2.09,-1.90l1.61,0.85l0,2.09l-1.61,0.85z M1382.2,735.0l2.09,-1.90l1.61,0.85l0,2.09l-1.61,0.85z M1397.8,734.6l2.09,-1.90l1.61,0.85l0,2.09l-1.61,0.85z M1412.7,735.0l2.09,-1.90l1.61,0.85l0,2.09l-1.61,0.85z M1424.1,732.9l2.09,-1.90l1.61,0.85l0,2.09l-1.61,0.85z M1360.7,740.1l2.09,-1.90l1.61,0.85l0,2.09l-1.61,0.85z M1369.5,743.1l2.09,-1.90l1.61,0.85l0,2.09l-1.61,0.85z M1378.8,743.8l2.09,-1.90l1.61,0.85l0,2.09l-1.61,0.85z M1388.1,743.8l2.09,-1.90l1.61,0.85l0,2.09l-1.61,0.85z M1397.8,743.8l2.09,-1.90l1.61,0.85l0,2.09l-1.61,0.85z M1406.8,743.8l2.09,-1.90l1.61,0.85l0,2.09l-1.61,0.85z M1416.1,743.8l2.09,-1.90l1.61,0.85l0,2.09l-1.61,0.85z M1425.4,742.6l2.09,-1.90l1.61,0.85l0,2.09l-1.61,0.85z M1434.3,740.1l2.09,-1.90l1.61,0.85l0,2.09l-1.61,0.85z M1354.2,750.6l2.09,-1.90l1.61,0.85l0,2.09l-1.61,0.85z M1364.4,751.9l2.09,-1.90l1.61,0.85l0,2.09l-1.61,0.85z M1375.1,752.8l2.09,-1.90l1.61,0.85l0,2.09l-1.61,0.85z M1386.1,752.8l2.09,-1.90l1.61,0.85l0,2.09l-1.61,0.85z M1397.8,752.8l2.09,-1.90l1.61,0.85l0,2.09l-1.61,0.85z M1408.5,752.8l2.09,-1.90l1.61,0.85l0,2.09l-1.61,0.85z M1419.2,752.8l2.09,-1.90l1.61,0.85l0,2.09l-1.61,0.85z M1430.5,751.9l2.09,-1.90l1.61,0.85l0,2.09l-1.61,0.85z M1440.7,750.6l2.09,-1.90l1.61,0.85l0,2.09l-1.61,0.85z M1352.2,762.1l2.09,-1.90l1.61,0.85l0,2.09l-1.61,0.85z M1363.6,762.1l2.09,-1.90l1.61,0.85l0,2.09l-1.61,0.85z M1374.6,762.1l2.09,-1.90l1.61,0.85l0,2.09l-1.61,0.85z M1386.1,762.1l2.09,-1.90l1.61,0.85l0,2.09l-1.61,0.85z M1397.8,762.1l2.09,-1.90l1.61,0.85l0,2.09l-1.61,0.85z M1408.5,762.1l2.09,-1.90l1.61,0.85l0,2.09l-1.61,0.85z M1419.5,762.1l2.09,-1.90l1.61,0.85l0,2.09l-1.61,0.85z M1431.4,762.1l2.09,-1.90l1.61,0.85l0,2.09l-1.61,0.85z M1442.4,762.1l2.09,-1.90l1.61,0.85l0,2.09l-1.61,0.85z M1354.2,773.1l2.09,-1.90l1.61,0.85l0,2.09l-1.61,0.85z M1364.4,772.3l2.09,-1.90l1.61,0.85l0,2.09l-1.61,0.85z M1375.1,771.4l2.09,-1.90l1.61,0.85l0,2.09l-1.61,0.85z M1386.1,771.4l2.09,-1.90l1.61,0.85l0,2.09l-1.61,0.85z M1397.8,771.4l2.09,-1.90l1.61,0.85l0,2.09l-1.61,0.85z M1408.5,771.4l2.09,-1.90l1.61,0.85l0,2.09l-1.61,0.85z M1419.2,771.4l2.09,-1.90l1.61,0.85l0,2.09l-1.61,0.85z M1430.5,772.3l2.09,-1.90l1.61,0.85l0,2.09l-1.61,0.85z M1440.7,773.1l2.09,-1.90l1.61,0.85l0,2.09l-1.61,0.85z M1360.7,782.4l2.09,-1.90l1.61,0.85l0,2.09l-1.61,0.85z M1369.5,781.2l2.09,-1.90l1.61,0.85l0,2.09l-1.61,0.85z M1378.8,780.7l2.09,-1.90l1.61,0.85l0,2.09l-1.61,0.85z M1388.1,780.7l2.09,-1.90l1.61,0.85l0,2.09l-1.61,0.85z M1397.8,780.7l2.09,-1.90l1.61,0.85l0,2.09l-1.61,0.85z M1406.8,780.7l2.09,-1.90l1.61,0.85l0,2.09l-1.61,0.85z M1416.1,780.7l2.09,-1.90l1.61,0.85l0,2.09l-1.61,0.85z M1425.4,781.2l2.09,-1.90l1.61,0.85l0,2.09l-1.61,0.85z M1434.3,782.4l2.09,-1.90l1.61,0.85l0,2.09l-1.61,0.85z M1370.7,790.9l2.09,-1.90l1.61,0.85l0,2.09l-1.61,0.85z M1382.2,787.9l2.09,-1.90l1.61,0.85l0,2.09l-1.61,0.85z M1397.8,789.2l2.09,-1.90l1.61,0.85l0,2.09l-1.61,0.85z M1412.7,787.9l2.09,-1.90l1.61,0.85l0,2.09l-1.61,0.85z M1424.1,790.9l2.09,-1.90l1.61,0.85l0,2.09l-1.61,0.85z M1383.6,796.3l2.09,-1.90l1.61,0.85l0,2.09l-1.61,0.85z M1397.8,797.7l2.09,-1.90l1.61,0.85l0,2.09l-1.61,0.85z M1411.4,796.3l2.09,-1.90l1.61,0.85l0,2.09l-1.61,0.85z M1397.8,806.7l2.09,-1.90l1.61,0.85l0,2.09l-1.61,0.85z" fill="#000" stroke="#000" stroke-width="0.9" stroke-linejoin="round"/>
<rect x="1493.3" y="698.9" width="119.2" height="119.2" fill="#fff" stroke="#FA8078" stroke-width="3.4"/>
<clipPath id="c15"><circle cx="1553.9" cy="761" r="48.0"/></clipPath>
<g clip-path="url(#c15)"><g filter="url(#par)">
<rect x="1492.7" y="699.8" width="122.4" height="122.4" fill="#000"/>
<rect x="1492.7" y="699.8" width="122.4" height="122.4" fill="#fff" fill-opacity="0.03"/>
<ellipse cx="1538" cy="748" rx="16" ry="26" fill="url(#gw)" fill-opacity="0.3" transform="rotate(-35 1538 748)"/>
<ellipse cx="1567.5" cy="754" rx="3.2" ry="22" fill="url(#gw)" fill-opacity="0.85"/>
<ellipse cx="1561" cy="772" rx="12" ry="14" fill="url(#gw)" fill-opacity="0.4"/>
<ellipse cx="1558.9" cy="761.2" rx="15" ry="15" fill="url(#gw)" fill-opacity="0.4"/>
<ellipse cx="1558.9" cy="761.2" rx="9" ry="8.7" fill="#fff" fill-opacity="1"/>
</g></g>
<path d="M1506.2,753.5 c-3,-1.6 -6.2,-0.6 -6.2,2.6 l0.9,13.8 c0.3,4.2 2.6,5.6 6.4,4.2" fill="#fff" stroke="#000" stroke-width="2.5"/>
<path d="M1601.6,753.5 c3,-1.6 6.2,-0.6 6.2,2.6 l-0.9,13.8 c-0.3,4.2 -2.6,5.6 -6.4,4.2" fill="#fff" stroke="#000" stroke-width="2.5"/>
<path d="M1544.6,714.0 L1553.9,704.9 L1563.2,714.0" fill="#fff" stroke="#000" stroke-width="2.5" stroke-linejoin="miter"/>
<path d="M1512.2,786.6 l-1.8,2.6" stroke="#000" stroke-width="2.5" fill="none"/>
<path d="M1595.6,786.6 l1.8,2.6" stroke="#000" stroke-width="2.5" fill="none"/>
<circle cx="1553.9" cy="761" r="48.0" fill="none" stroke="#000" stroke-width="2.5"/>
<path d="M1537.8,726.2l2.09,-1.90l1.61,0.85l0,2.09l-1.61,0.85z M1551.9,724.1l2.09,-1.90l1.61,0.85l0,2.09l-1.61,0.85z M1565.3,726.2l2.09,-1.90l1.61,0.85l0,2.09l-1.61,0.85z M1525.1,731.7l2.09,-1.90l1.61,0.85l0,2.09l-1.61,0.85z M1536.5,733.7l2.09,-1.90l1.61,0.85l0,2.09l-1.61,0.85z M1551.9,733.4l2.09,-1.90l1.61,0.85l0,2.09l-1.61,0.85z M1566.6,733.7l2.09,-1.90l1.61,0.85l0,2.09l-1.61,0.85z M1577.9,731.7l2.09,-1.90l1.61,0.85l0,2.09l-1.61,0.85z M1515.2,738.7l2.09,-1.90l1.61,0.85l0,2.09l-1.61,0.85z M1523.9,741.7l2.09,-1.90l1.61,0.85l0,2.09l-1.61,0.85z M1533.1,742.4l2.09,-1.90l1.61,0.85l0,2.09l-1.61,0.85z M1542.4,742.4l2.09,-1.90l1.61,0.85l0,2.09l-1.61,0.85z M1551.9,742.4l2.09,-1.90l1.61,0.85l0,2.09l-1.61,0.85z M1560.8,742.4l2.09,-1.90l1.61,0.85l0,2.09l-1.61,0.85z M1570.0,742.4l2.09,-1.90l1.61,0.85l0,2.09l-1.61,0.85z M1579.2,741.2l2.09,-1.90l1.61,0.85l0,2.09l-1.61,0.85z M1587.9,738.7l2.09,-1.90l1.61,0.85l0,2.09l-1.61,0.85z M1508.9,749.1l2.09,-1.90l1.61,0.85l0,2.09l-1.61,0.85z M1518.9,750.4l2.09,-1.90l1.61,0.85l0,2.09l-1.61,0.85z M1529.5,751.3l2.09,-1.90l1.61,0.85l0,2.09l-1.61,0.85z M1540.3,751.3l2.09,-1.90l1.61,0.85l0,2.09l-1.61,0.85z M1551.9,751.3l2.09,-1.90l1.61,0.85l0,2.09l-1.61,0.85z M1562.5,751.3l2.09,-1.90l1.61,0.85l0,2.09l-1.61,0.85z M1573.0,751.3l2.09,-1.90l1.61,0.85l0,2.09l-1.61,0.85z M1584.2,750.4l2.09,-1.90l1.61,0.85l0,2.09l-1.61,0.85z M1594.3,749.1l2.09,-1.90l1.61,0.85l0,2.09l-1.61,0.85z M1506.8,760.5l2.09,-1.90l1.61,0.85l0,2.09l-1.61,0.85z M1518.1,760.5l2.09,-1.90l1.61,0.85l0,2.09l-1.61,0.85z M1529.0,760.5l2.09,-1.90l1.61,0.85l0,2.09l-1.61,0.85z M1540.3,760.5l2.09,-1.90l1.61,0.85l0,2.09l-1.61,0.85z M1551.9,760.5l2.09,-1.90l1.61,0.85l0,2.09l-1.61,0.85z M1562.5,760.5l2.09,-1.90l1.61,0.85l0,2.09l-1.61,0.85z M1573.3,760.5l2.09,-1.90l1.61,0.85l0,2.09l-1.61,0.85z M1585.1,760.5l2.09,-1.90l1.61,0.85l0,2.09l-1.61,0.85z M1596.0,760.5l2.09,-1.90l1.61,0.85l0,2.09l-1.61,0.85z M1508.9,771.4l2.09,-1.90l1.61,0.85l0,2.09l-1.61,0.85z M1518.9,770.5l2.09,-1.90l1.61,0.85l0,2.09l-1.61,0.85z M1529.5,769.7l2.09,-1.90l1.61,0.85l0,2.09l-1.61,0.85z M1540.3,769.7l2.09,-1.90l1.61,0.85l0,2.09l-1.61,0.85z M1551.9,769.7l2.09,-1.90l1.61,0.85l0,2.09l-1.61,0.85z M1562.5,769.7l2.09,-1.90l1.61,0.85l0,2.09l-1.61,0.85z M1573.0,769.7l2.09,-1.90l1.61,0.85l0,2.09l-1.61,0.85z M1584.2,770.5l2.09,-1.90l1.61,0.85l0,2.09l-1.61,0.85z M1594.3,771.4l2.09,-1.90l1.61,0.85l0,2.09l-1.61,0.85z M1515.2,780.6l2.09,-1.90l1.61,0.85l0,2.09l-1.61,0.85z M1523.9,779.4l2.09,-1.90l1.61,0.85l0,2.09l-1.61,0.85z M1533.1,778.9l2.09,-1.90l1.61,0.85l0,2.09l-1.61,0.85z M1542.4,778.9l2.09,-1.90l1.61,0.85l0,2.09l-1.61,0.85z M1551.9,778.9l2.09,-1.90l1.61,0.85l0,2.09l-1.61,0.85z M1560.8,778.9l2.09,-1.90l1.61,0.85l0,2.09l-1.61,0.85z M1570.0,778.9l2.09,-1.90l1.61,0.85l0,2.09l-1.61,0.85z M1579.2,779.4l2.09,-1.90l1.61,0.85l0,2.09l-1.61,0.85z M1587.9,780.6l2.09,-1.90l1.61,0.85l0,2.09l-1.61,0.85z M1525.1,789.0l2.09,-1.90l1.61,0.85l0,2.09l-1.61,0.85z M1536.5,786.0l2.09,-1.90l1.61,0.85l0,2.09l-1.61,0.85z M1551.9,787.3l2.09,-1.90l1.61,0.85l0,2.09l-1.61,0.85z M1566.6,786.0l2.09,-1.90l1.61,0.85l0,2.09l-1.61,0.85z M1577.9,789.0l2.09,-1.90l1.61,0.85l0,2.09l-1.61,0.85z M1537.8,794.3l2.09,-1.90l1.61,0.85l0,2.09l-1.61,0.85z M1551.9,795.7l2.09,-1.90l1.61,0.85l0,2.09l-1.61,0.85z M1565.3,794.3l2.09,-1.90l1.61,0.85l0,2.09l-1.61,0.85z M1551.9,804.6l2.09,-1.90l1.61,0.85l0,2.09l-1.61,0.85z" fill="#000" stroke="#000" stroke-width="0.9" stroke-linejoin="round"/>
<rect x="1646.9" y="698.9" width="119.2" height="119.2" fill="#fff" stroke="#5AC8CF" stroke-width="3.4"/>
<clipPath id="c16"><circle cx="1708" cy="760.6" r="48.0"/></clipPath>
<g clip-path="url(#c16)"><g filter="url(#par)">
<rect x="1646.8" y="699.4" width="122.4" height="122.4" fill="#000"/>
<rect x="1646.8" y="699.4" width="122.4" height="122.4" fill="#fff" fill-opacity="0.03"/>
<ellipse cx="1690" cy="760" rx="26" ry="50" fill="url(#gw)" fill-opacity="0.28"/>
<ellipse cx="1692" cy="738" rx="9" ry="30" fill="url(#gw)" fill-opacity="0.32" transform="rotate(8 1692 738)"/>
<ellipse cx="1692.5" cy="738" rx="5" ry="27" fill="url(#gw)" fill-opacity="0.24" transform="rotate(8 1692.5 738)"/>
<ellipse cx="1687" cy="768" rx="19" ry="19" fill="url(#gw)" fill-opacity="0.45"/>
<ellipse cx="1686.2" cy="766.2" rx="10.2" ry="10.8" fill="#fff" fill-opacity="1"/>
</g></g>
<path d="M1660.3,753.1 c-3,-1.6 -6.2,-0.6 -6.2,2.6 l0.9,13.8 c0.3,4.2 2.6,5.6 6.4,4.2" fill="#fff" stroke="#000" stroke-width="2.5"/>
<path d="M1755.7,753.1 c3,-1.6 6.2,-0.6 6.2,2.6 l-0.9,13.8 c-0.3,4.2 -2.6,5.6 -6.4,4.2" fill="#fff" stroke="#000" stroke-width="2.5"/>
<path d="M1698.7,713.6 L1708.0,704.4 L1717.3,713.6" fill="#fff" stroke="#000" stroke-width="2.5" stroke-linejoin="miter"/>
<path d="M1666.3,786.2 l-1.8,2.6" stroke="#000" stroke-width="2.5" fill="none"/>
<path d="M1749.7,786.2 l1.8,2.6" stroke="#000" stroke-width="2.5" fill="none"/>
<circle cx="1708" cy="760.6" r="48.0" fill="none" stroke="#000" stroke-width="2.5"/>
<path d="M1691.9,725.8l2.09,-1.90l1.61,0.85l0,2.09l-1.61,0.85z M1706.0,723.7l2.09,-1.90l1.61,0.85l0,2.09l-1.61,0.85z M1719.4,725.8l2.09,-1.90l1.61,0.85l0,2.09l-1.61,0.85z M1679.2,731.3l2.09,-1.90l1.61,0.85l0,2.09l-1.61,0.85z M1690.6,733.3l2.09,-1.90l1.61,0.85l0,2.09l-1.61,0.85z M1706.0,733.0l2.09,-1.90l1.61,0.85l0,2.09l-1.61,0.85z M1720.7,733.3l2.09,-1.90l1.61,0.85l0,2.09l-1.61,0.85z M1732.0,731.3l2.09,-1.90l1.61,0.85l0,2.09l-1.61,0.85z M1669.3,738.3l2.09,-1.90l1.61,0.85l0,2.09l-1.61,0.85z M1678.0,741.3l2.09,-1.90l1.61,0.85l0,2.09l-1.61,0.85z M1687.2,742.0l2.09,-1.90l1.61,0.85l0,2.09l-1.61,0.85z M1696.5,742.0l2.09,-1.90l1.61,0.85l0,2.09l-1.61,0.85z M1706.0,742.0l2.09,-1.90l1.61,0.85l0,2.09l-1.61,0.85z M1714.9,742.0l2.09,-1.90l1.61,0.85l0,2.09l-1.61,0.85z M1724.1,742.0l2.09,-1.90l1.61,0.85l0,2.09l-1.61,0.85z M1733.3,740.8l2.09,-1.90l1.61,0.85l0,2.09l-1.61,0.85z M1742.0,738.3l2.09,-1.90l1.61,0.85l0,2.09l-1.61,0.85z M1663.0,748.7l2.09,-1.90l1.61,0.85l0,2.09l-1.61,0.85z M1673.0,750.0l2.09,-1.90l1.61,0.85l0,2.09l-1.61,0.85z M1683.6,750.9l2.09,-1.90l1.61,0.85l0,2.09l-1.61,0.85z M1694.4,750.9l2.09,-1.90l1.61,0.85l0,2.09l-1.61,0.85z M1706.0,750.9l2.09,-1.90l1.61,0.85l0,2.09l-1.61,0.85z M1716.6,750.9l2.09,-1.90l1.61,0.85l0,2.09l-1.61,0.85z M1727.1,750.9l2.09,-1.90l1.61,0.85l0,2.09l-1.61,0.85z M1738.3,750.0l2.09,-1.90l1.61,0.85l0,2.09l-1.61,0.85z M1748.4,748.7l2.09,-1.90l1.61,0.85l0,2.09l-1.61,0.85z M1660.9,760.1l2.09,-1.90l1.61,0.85l0,2.09l-1.61,0.85z M1672.2,760.1l2.09,-1.90l1.61,0.85l0,2.09l-1.61,0.85z M1683.1,760.1l2.09,-1.90l1.61,0.85l0,2.09l-1.61,0.85z M1694.4,760.1l2.09,-1.90l1.61,0.85l0,2.09l-1.61,0.85z M1706.0,760.1l2.09,-1.90l1.61,0.85l0,2.09l-1.61,0.85z M1716.6,760.1l2.09,-1.90l1.61,0.85l0,2.09l-1.61,0.85z M1727.4,760.1l2.09,-1.90l1.61,0.85l0,2.09l-1.61,0.85z M1739.2,760.1l2.09,-1.90l1.61,0.85l0,2.09l-1.61,0.85z M1750.1,760.1l2.09,-1.90l1.61,0.85l0,2.09l-1.61,0.85z M1663.0,771.0l2.09,-1.90l1.61,0.85l0,2.09l-1.61,0.85z M1673.0,770.1l2.09,-1.90l1.61,0.85l0,2.09l-1.61,0.85z M1683.6,769.3l2.09,-1.90l1.61,0.85l0,2.09l-1.61,0.85z M1694.4,769.3l2.09,-1.90l1.61,0.85l0,2.09l-1.61,0.85z M1706.0,769.3l2.09,-1.90l1.61,0.85l0,2.09l-1.61,0.85z M1716.6,769.3l2.09,-1.90l1.61,0.85l0,2.09l-1.61,0.85z M1727.1,769.3l2.09,-1.90l1.61,0.85l0,2.09l-1.61,0.85z M1738.3,770.1l2.09,-1.90l1.61,0.85l0,2.09l-1.61,0.85z M1748.4,771.0l2.09,-1.90l1.61,0.85l0,2.09l-1.61,0.85z M1669.3,780.2l2.09,-1.90l1.61,0.85l0,2.09l-1.61,0.85z M1678.0,779.0l2.09,-1.90l1.61,0.85l0,2.09l-1.61,0.85z M1687.2,778.5l2.09,-1.90l1.61,0.85l0,2.09l-1.61,0.85z M1696.5,778.5l2.09,-1.90l1.61,0.85l0,2.09l-1.61,0.85z M1706.0,778.5l2.09,-1.90l1.61,0.85l0,2.09l-1.61,0.85z M1714.9,778.5l2.09,-1.90l1.61,0.85l0,2.09l-1.61,0.85z M1724.1,778.5l2.09,-1.90l1.61,0.85l0,2.09l-1.61,0.85z M1733.3,779.0l2.09,-1.90l1.61,0.85l0,2.09l-1.61,0.85z M1742.0,780.2l2.09,-1.90l1.61,0.85l0,2.09l-1.61,0.85z M1679.2,788.6l2.09,-1.90l1.61,0.85l0,2.09l-1.61,0.85z M1690.6,785.6l2.09,-1.90l1.61,0.85l0,2.09l-1.61,0.85z M1706.0,786.9l2.09,-1.90l1.61,0.85l0,2.09l-1.61,0.85z M1720.7,785.6l2.09,-1.90l1.61,0.85l0,2.09l-1.61,0.85z M1732.0,788.6l2.09,-1.90l1.61,0.85l0,2.09l-1.61,0.85z M1691.9,793.9l2.09,-1.90l1.61,0.85l0,2.09l-1.61,0.85z M1706.0,795.3l2.09,-1.90l1.61,0.85l0,2.09l-1.61,0.85z M1719.4,793.9l2.09,-1.90l1.61,0.85l0,2.09l-1.61,0.85z M1706.0,804.2l2.09,-1.90l1.61,0.85l0,2.09l-1.61,0.85z" fill="#000" stroke="#000" stroke-width="0.9" stroke-linejoin="round"/>
<rect x="1389.4" y="859.9" width="174.6" height="15.6" fill="url(#cbar)" stroke="#383838" stroke-width="1.4"/>
<text font-family="Liberation Sans, sans-serif" font-size="24.4" x="1346" y="875.6">.04</text>
<text font-family="Liberation Sans, sans-serif" font-size="24.4" x="1566.8" y="875.6">.07</text>
</svg>
</body></html>
